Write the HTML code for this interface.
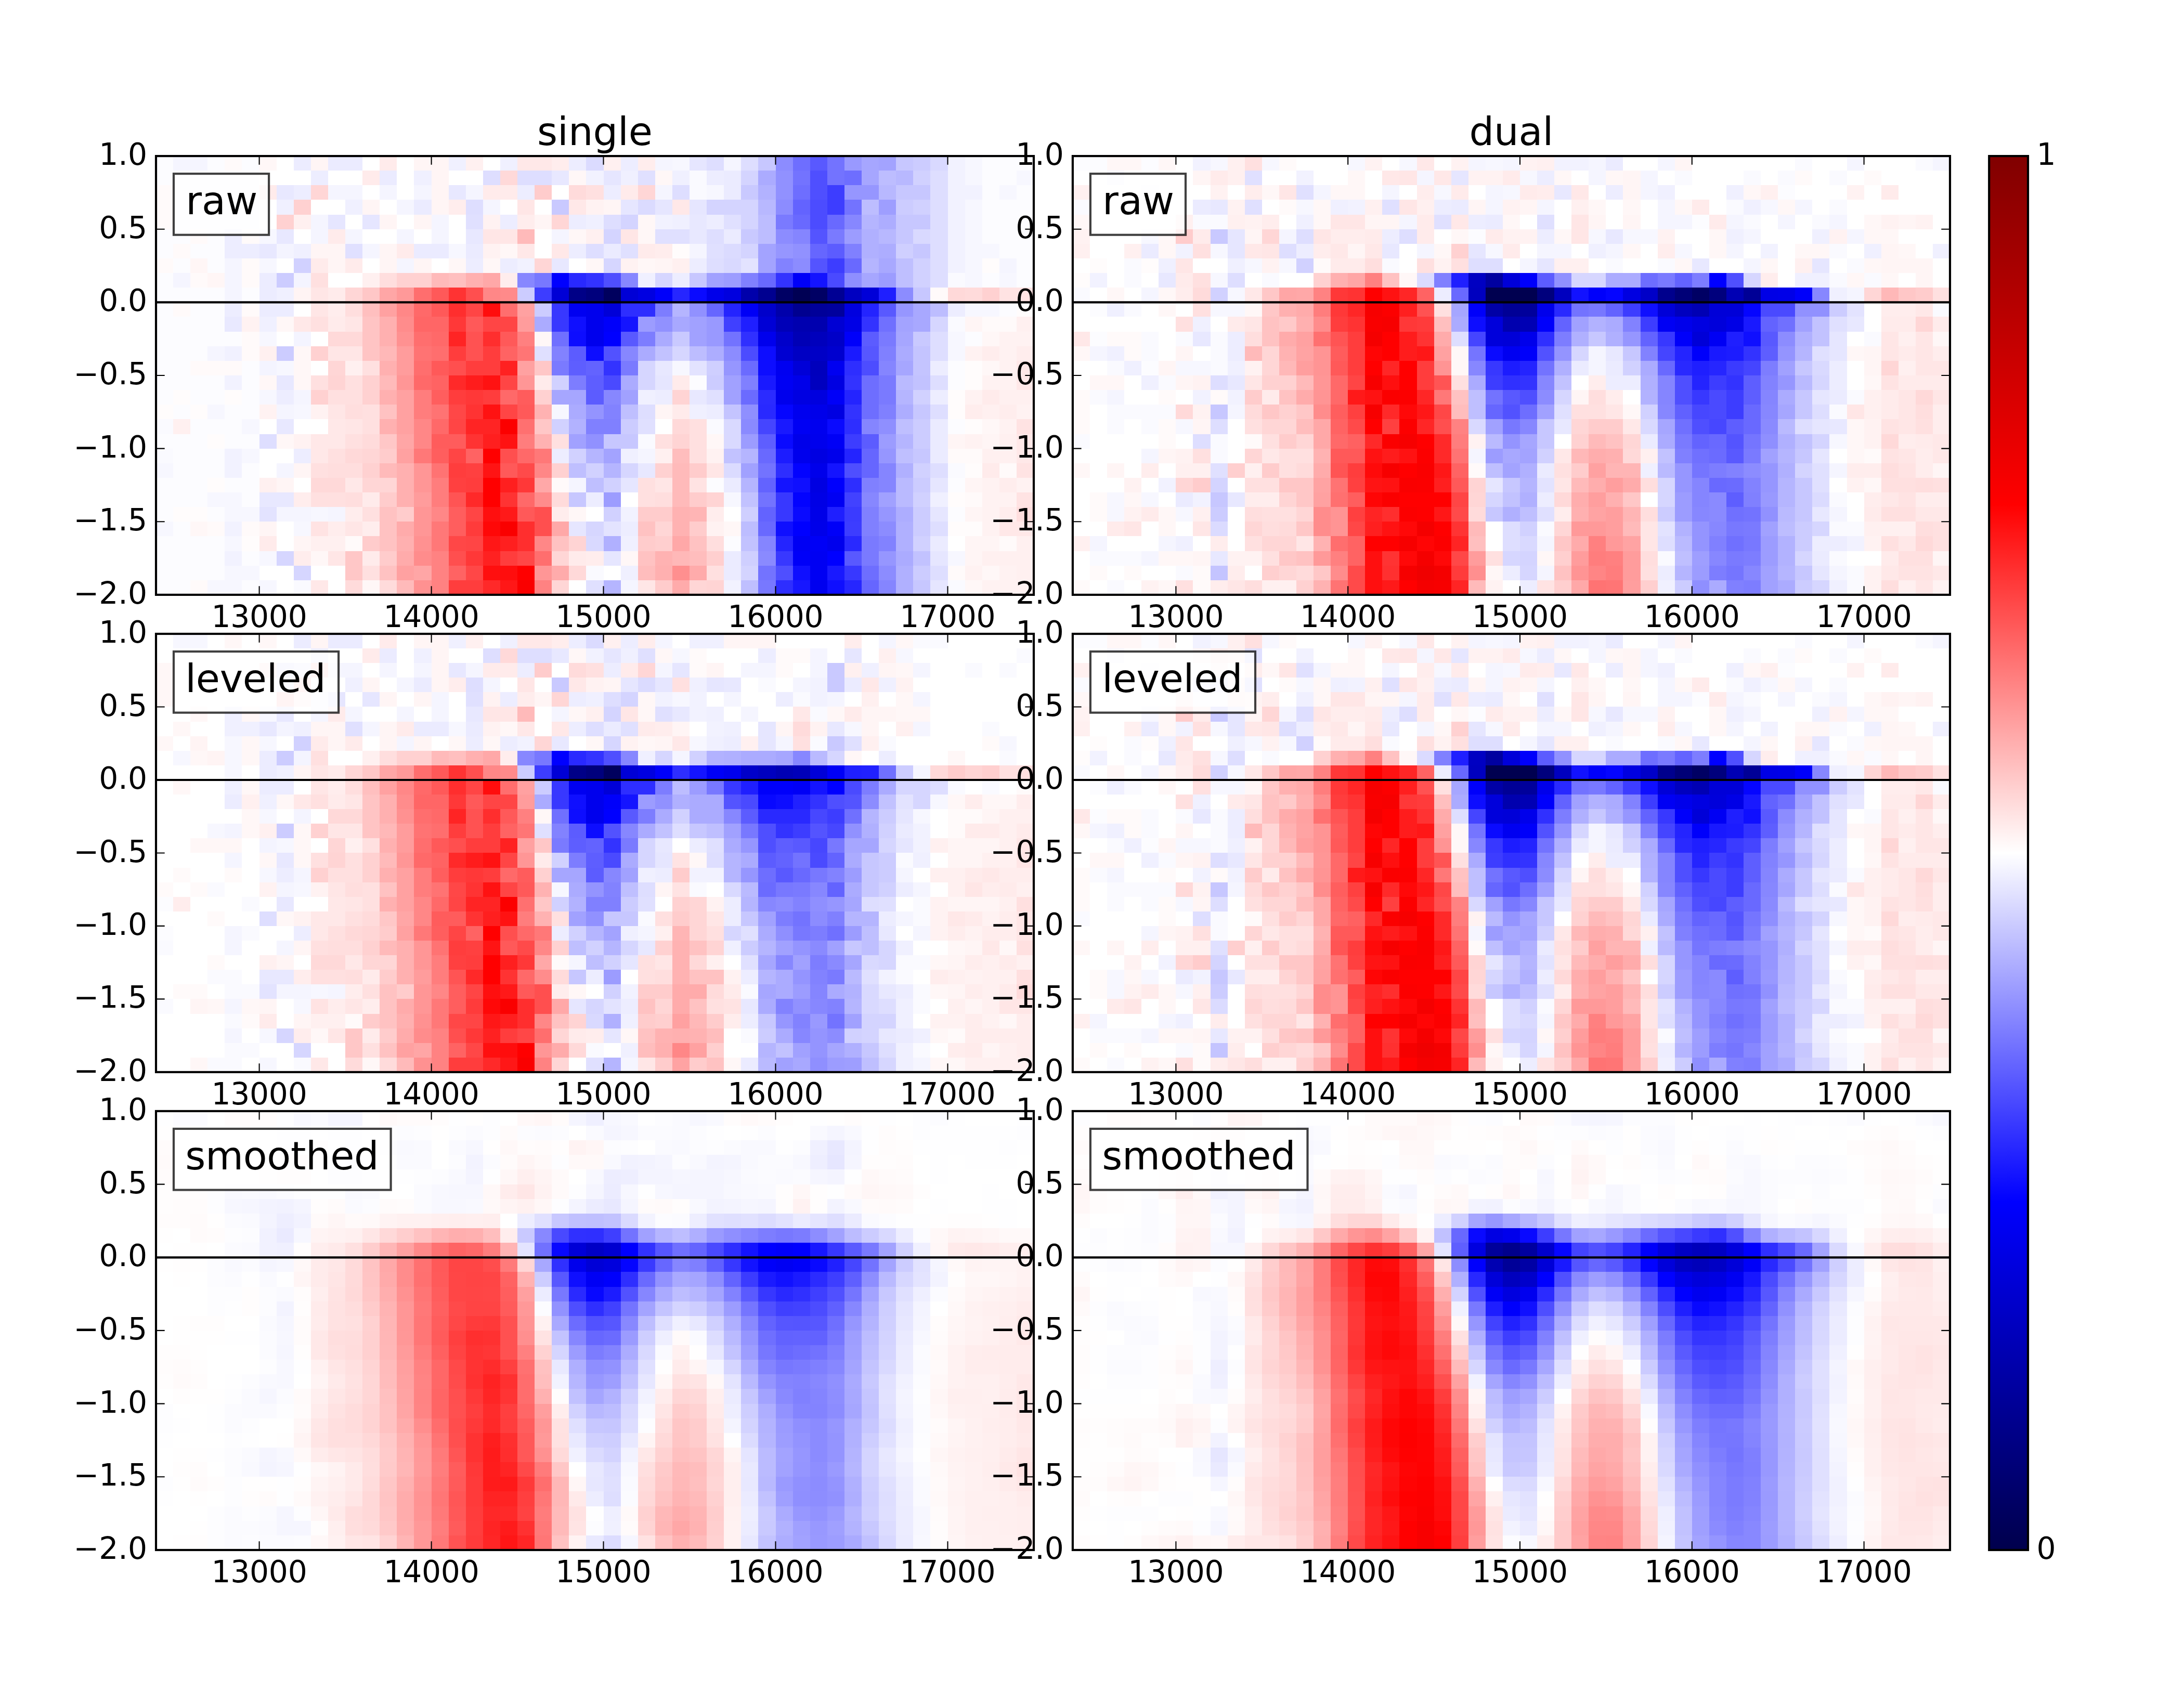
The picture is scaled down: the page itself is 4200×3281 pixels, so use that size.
<!DOCTYPE html><html><head><meta charset="utf-8"><title>single / dual</title><style>html,body{margin:0;padding:0;background:#fff}svg{display:block}text{font-family:"DejaVu Sans","Liberation Sans",sans-serif;fill:#000}</style></head><body><svg width="4200" height="3281" viewBox="0 0 4200 3281"><defs><linearGradient id="sm" x1="0" y1="0" x2="0" y2="1"><stop offset="0" stop-color="#800000"/><stop offset="0.25" stop-color="#ff0000"/><stop offset="0.5" stop-color="#ffffff"/><stop offset="0.75" stop-color="#0000ff"/><stop offset="1" stop-color="#00004c"/></linearGradient></defs><rect width="4200" height="3281" fill="#fff"/><g shape-rendering="crispEdges"><path fill="#fcfcff" d="M300 300h33v28h-33zM399 300h33v28h-33zM465 300h34v28h-34zM1889 300h99v28h-99zM300 328h199v28h-199zM1889 328h66v28h-66zM333 356h166v28h-166zM1889 356h33v28h-33zM1955 356h33v28h-33zM333 384h166v29h-166zM1889 384h99v29h-99zM333 413h166v28h-166zM1889 413h99v28h-99zM300 441h66v28h-66zM399 441h33v28h-33zM1889 441h99v28h-99zM300 469h33v28h-33zM366 469h66v28h-66zM1922 469h66v28h-66zM333 497h33v28h-33zM399 497h33v28h-33zM1955 497h33v28h-33zM300 525h33v28h-33zM1889 525h33v28h-33zM1955 525h33v28h-33zM300 553h132v28h-132zM465 553h34v28h-34zM300 581h33v28h-33zM366 581h66v28h-66zM1922 581h33v28h-33zM300 609h132v29h-132zM300 638h165v28h-165zM1856 638h33v28h-33zM300 666h99v28h-99zM300 694h66v28h-66zM465 694h34v28h-34zM1823 694h33v28h-33zM300 722h132v28h-132zM465 722h34v28h-34zM1326 722h33v28h-33zM1823 722h33v28h-33zM300 750h33v28h-33zM366 750h66v28h-66zM465 750h34v28h-34zM333 778h33v28h-33zM432 778h67v28h-67zM366 806h99v29h-99zM1823 806h33v29h-33zM300 835h99v28h-99zM432 835h67v28h-67zM333 863h99v28h-99zM333 891h99v28h-99zM465 891h34v28h-34zM300 919h99v28h-99zM432 919h67v28h-67zM1359 919h33v28h-33zM1823 919h33v28h-33zM300 947h99v28h-99zM465 947h34v28h-34zM300 975h33v28h-33zM399 975h33v28h-33zM1823 975h33v28h-33zM333 1003h33v28h-33zM300 1031h132v29h-132zM1392 1031h33v29h-33zM300 1060h132v28h-132zM465 1060h34v28h-34zM300 1088h132v28h-132zM300 1116h66v28h-66zM465 1116h34v28h-34z"/><path fill="#f5f5ff" d="M333 300h66v28h-66zM1260 300h33v28h-33zM1392 300h33v28h-33zM631 356h66v28h-66zM730 356h33v28h-33zM796 356h34v28h-34zM896 356h33v28h-33zM1260 356h33v28h-33zM763 384h33v29h-33zM929 384h33v29h-33zM598 413h33v28h-33zM830 413h33v28h-33zM598 441h33v28h-33zM664 441h33v28h-33zM763 441h33v28h-33zM830 441h33v28h-33zM1061 441h33v28h-33zM697 469h33v28h-33zM1326 469h33v28h-33zM432 497h33v28h-33zM763 497h33v28h-33zM1922 497h33v28h-33zM333 525h33v28h-33zM432 525h33v28h-33zM432 553h33v28h-33zM399 666h33v28h-33zM565 750h33v28h-33zM532 778h33v28h-33zM1227 863h33v28h-33zM532 891h33v28h-33zM1094 919h33v28h-33zM532 975h66v28h-66zM631 975h33v28h-33zM1194 1116h33v28h-33z"/><path fill="#fffafa" d="M432 300h33v28h-33zM300 356h33v28h-33zM300 384h33v29h-33zM300 413h33v28h-33zM366 441h33v28h-33zM465 441h34v28h-34zM333 469h33v28h-33zM300 497h33v28h-33zM465 497h34v28h-34zM366 525h33v28h-33zM465 525h34v28h-34zM1789 553h34v28h-34zM333 581h33v28h-33zM465 581h34v28h-34zM1889 609h66v29h-66zM465 638h34v28h-34zM465 666h34v28h-34zM366 694h99v28h-99zM1823 863h66v28h-66zM1922 891h33v28h-33zM1061 919h33v28h-33zM1856 947h33v28h-33zM399 1003h33v28h-33zM465 1003h34v28h-34zM664 1031h33v29h-33zM1922 1031h33v29h-33zM1823 1088h33v28h-33zM366 1116h33v28h-33z"/><path fill="#fff7f7" d="M499 300h33v28h-33zM1094 328h33v28h-33zM1260 328h33v28h-33zM1227 413h33v28h-33zM1094 441h33v28h-33zM1227 441h33v28h-33zM962 469h33v28h-33zM863 497h33v28h-33zM929 497h33v28h-33zM1127 497h34v28h-34zM1227 497h33v28h-33zM532 609h33v29h-33zM1028 638h33v28h-33zM1889 638h33v28h-33zM565 666h33v28h-33zM565 694h33v28h-33zM1889 694h33v28h-33zM499 722h33v28h-33zM565 722h33v28h-33zM1889 806h33v29h-33zM532 835h33v28h-33zM1359 835h33v28h-33zM1094 975h33v28h-33zM366 1003h33v28h-33zM1392 1003h33v28h-33zM598 1060h33v28h-33zM1194 1060h33v28h-33zM1889 1088h33v28h-33zM697 1116h33v28h-33zM1856 1116h33v28h-33z"/><path fill="#ececff" d="M565 300h33v28h-33zM499 525h33v28h-33zM499 553h33v28h-33zM499 581h66v28h-66z"/><path fill="#fff5f5" d="M598 300h33v28h-33zM796 300h67v28h-67zM830 328h33v28h-33zM830 356h33v28h-33zM697 384h33v29h-33zM830 384h33v29h-33zM1161 384h33v29h-33zM730 413h33v28h-33zM796 413h34v28h-34zM1028 413h33v28h-33zM598 469h66v28h-66zM730 469h33v28h-33zM631 497h33v28h-33zM730 497h33v28h-33zM796 497h34v28h-34zM1260 497h33v28h-33zM1856 609h33v29h-33zM1260 778h33v28h-33zM1823 835h33v28h-33zM1889 835h33v28h-33zM565 891h33v28h-33zM532 919h33v28h-33zM1856 919h33v28h-33zM1856 975h33v28h-33zM499 1003h33v28h-33zM565 1031h33v29h-33zM1856 1031h66v29h-66zM1856 1060h33v28h-33z"/><path fill="#ebebff" d="M631 300h66v28h-66zM730 328h33v28h-33zM1392 328h33v28h-33zM1392 356h33v28h-33zM796 384h34v29h-34zM1392 441h33v28h-33zM796 469h67v28h-67zM896 469h33v28h-33zM1161 469h33v28h-33zM1789 806h34v29h-34zM1789 835h34v28h-34zM1789 863h34v28h-34zM1392 919h33v28h-33zM1789 1031h34v29h-34zM1392 1060h33v28h-33zM1392 1088h33v28h-33z"/><path fill="#ffebeb" d="M730 300h33v28h-33zM697 328h33v28h-33zM499 356h33v28h-33zM929 356h66v28h-66zM1194 356h33v28h-33zM631 441h33v28h-33zM763 469h33v28h-33zM1227 469h33v28h-33zM598 497h33v28h-33zM664 497h33v28h-33zM631 553h33v28h-33zM631 609h33v29h-33zM1028 722h33v28h-33zM1293 722h33v28h-33zM1889 750h33v28h-33zM1293 778h33v28h-33zM1889 891h33v28h-33zM697 947h33v28h-33zM499 1031h33v29h-33zM697 1060h33v28h-33zM1094 1060h33v28h-33z"/><path fill="#f0f0ff" d="M863 300h33v28h-33zM962 300h33v28h-33zM796 328h34v28h-34zM1194 328h33v28h-33zM1293 328h33v28h-33zM532 384h33v29h-33zM664 384h33v29h-33zM1127 413h34v28h-34zM1293 413h33v28h-33zM565 469h33v28h-33zM1227 525h33v28h-33zM532 553h33v28h-33zM499 609h33v29h-33zM1227 750h33v28h-33zM1326 778h33v28h-33zM1194 863h33v28h-33zM1789 947h34v28h-34zM1194 1031h33v29h-33zM1194 1088h33v28h-33z"/><path fill="#fff0f0" d="M896 300h33v28h-33zM1161 300h33v28h-33zM565 413h33v28h-33zM1127 441h34v28h-34zM1293 497h33v28h-33zM697 525h33v28h-33zM1955 609h33v29h-33zM499 666h33v28h-33zM664 694h33v28h-33zM1922 750h66v28h-66zM1889 778h33v28h-33zM333 806h33v29h-33zM1922 835h33v28h-33zM1260 863h33v28h-33zM1889 863h66v28h-66zM499 919h33v28h-33zM598 1031h66v29h-66zM1955 1031h33v29h-33zM1889 1060h99v28h-99zM1955 1088h33v28h-33z"/><path fill="#ffe8e8" d="M995 300h66v28h-66zM1094 384h33v29h-33zM1293 384h33v29h-33zM995 469h33v28h-33zM1061 469h33v28h-33zM565 609h33v29h-33zM1955 694h33v28h-33zM1955 722h33v28h-33zM631 806h33v29h-33zM598 835h66v28h-66zM1955 835h33v28h-33zM598 863h33v28h-33zM1955 863h33v28h-33zM664 919h33v28h-33zM1922 1003h66v28h-66zM598 1116h33v28h-33z"/><path fill="#ffeded" d="M1061 300h33v28h-33zM1227 300h33v28h-33zM863 384h33v29h-33zM995 413h33v28h-33zM1260 469h33v28h-33zM962 525h33v28h-33zM631 581h33v28h-33zM1889 666h33v28h-33zM1955 666h33v28h-33zM1856 778h33v28h-33zM1922 778h33v28h-33zM1922 919h33v28h-33zM565 947h33v28h-33zM664 975h33v28h-33zM1061 975h33v28h-33zM1359 975h33v28h-33zM1922 975h33v28h-33zM631 1003h33v28h-33zM697 1003h33v28h-33zM565 1060h33v28h-33zM1127 1060h34v28h-34z"/><path fill="#ededff" d="M1094 300h33v28h-33zM1194 300h33v28h-33zM598 328h33v28h-33zM1359 328h33v28h-33zM565 356h33v28h-33zM995 356h33v28h-33zM1161 356h33v28h-33zM962 413h33v28h-33zM1094 413h33v28h-33zM1359 413h33v28h-33zM432 441h33v28h-33zM432 469h67v28h-67zM1094 469h33v28h-33zM896 497h33v28h-33zM962 497h33v28h-33zM1326 497h33v28h-33zM1293 525h33v28h-33zM432 581h33v28h-33zM1823 581h33v28h-33zM1789 694h34v28h-34zM532 750h33v28h-33zM1260 750h33v28h-33zM1789 750h34v28h-34zM1359 778h33v28h-33zM565 863h33v28h-33zM1061 863h33v28h-33zM1127 947h34v28h-34zM1194 1003h33v28h-33z"/><path fill="#dbdbff" d="M1127 300h34v28h-34zM1227 384h33v29h-33zM1392 469h33v28h-33zM1392 891h33v28h-33z"/><path fill="#f7f7ff" d="M1293 300h33v28h-33zM1856 300h33v28h-33zM1856 328h33v28h-33zM1955 328h33v28h-33zM1359 356h33v28h-33zM1922 356h33v28h-33zM1856 384h33v29h-33zM1856 413h33v28h-33zM499 441h33v28h-33zM1856 441h33v28h-33zM863 469h33v28h-33zM1856 469h66v28h-66zM499 497h33v28h-33zM1856 497h33v28h-33zM1856 525h33v28h-33zM1922 525h33v28h-33zM1856 581h66v28h-66zM499 638h33v28h-33zM1823 638h33v28h-33zM1823 666h33v28h-33zM532 694h33v28h-33zM1293 694h33v28h-33zM499 750h33v28h-33zM399 778h33v28h-33zM565 778h33v28h-33zM1061 778h33v28h-33zM465 806h34v29h-34zM465 863h34v28h-34zM300 891h33v28h-33zM399 947h66v28h-66zM1392 947h33v28h-33zM432 975h67v28h-67zM598 975h33v28h-33zM300 1003h33v28h-33zM565 1003h33v28h-33zM432 1031h33v29h-33zM499 1060h33v28h-33zM1823 1060h33v28h-33zM432 1088h67v28h-67zM399 1116h66v28h-66zM499 1116h33v28h-33z"/><path fill="#e6e6ff" d="M1326 300h33v28h-33zM1161 328h33v28h-33zM1194 384h33v29h-33zM1260 384h33v29h-33zM1326 384h33v29h-33zM631 413h33v28h-33zM697 413h33v28h-33zM1260 722h33v28h-33zM1194 919h33v28h-33zM1789 919h34v28h-34zM1789 975h34v28h-34zM1094 1003h33v28h-33zM1161 1060h33v28h-33zM1789 1060h34v28h-34zM1789 1116h34v28h-34z"/><path fill="#dedeff" d="M1359 300h33v28h-33zM1425 300h33v28h-33zM929 328h33v28h-33zM995 328h66v28h-66zM1789 328h34v28h-34zM1293 356h33v28h-33zM1789 356h34v28h-34zM896 384h33v29h-33zM1789 384h34v29h-34zM1161 413h33v28h-33zM1789 413h34v28h-34zM1359 441h33v28h-33zM1789 441h34v28h-34zM1127 469h34v28h-34zM1789 469h34v28h-34zM1359 497h33v28h-33zM1789 497h34v28h-34zM1789 525h34v28h-34zM1789 638h34v28h-34zM1789 666h34v28h-34zM1789 722h34v28h-34zM1227 778h33v28h-33zM1789 778h34v28h-34zM499 835h33v28h-33zM1789 891h34v28h-34zM1789 1003h34v28h-34zM1789 1088h34v28h-34z"/><path fill="#c7c7ff" d="M1458 300h34v28h-34zM1723 300h33v28h-33zM1723 356h66v28h-66zM1723 413h66v28h-66zM1723 441h33v28h-33zM1756 469h33v28h-33zM1326 525h33v28h-33zM1756 553h33v28h-33zM1756 778h33v28h-33zM1161 835h66v28h-66zM1756 863h33v28h-33zM1094 947h33v28h-33zM1756 1116h33v28h-33z"/><path fill="#8c8cff" d="M1492 300h33v28h-33zM1492 384h33v29h-33zM1492 441h33v28h-33zM1525 497h33v28h-33zM1723 553h33v28h-33zM1392 666h33v28h-33zM1690 1003h33v28h-33zM1690 1088h33v28h-33z"/><path fill="#6e6eff" d="M1525 300h33v28h-33zM1624 328h33v28h-33zM1525 356h33v28h-33zM1657 722h33v28h-33zM1657 750h33v28h-33zM1657 778h33v28h-33zM1657 1088h33v28h-33z"/><path fill="#5959ff" d="M1558 300h33v28h-33zM1690 581h33v28h-33zM1194 638h33v28h-33zM1624 1060h33v28h-33z"/><path fill="#7373ff" d="M1591 300h33v28h-33zM1525 328h33v28h-33zM1591 328h33v28h-33zM1624 384h33v29h-33zM1392 638h33v28h-33zM1458 891h34v28h-34zM1458 947h34v28h-34zM1458 1088h34v28h-34z"/><path fill="#99f" d="M1624 300h33v28h-33zM1359 609h33v29h-33zM1359 638h33v28h-33z"/><path fill="#a6a6ff" d="M1657 300h33v28h-33zM1657 328h33v28h-33zM1657 525h33v28h-33zM1723 638h33v28h-33zM1723 694h33v28h-33zM1061 750h66v28h-66z"/><path fill="#a3a3ff" d="M1690 300h33v28h-33zM1458 469h34v28h-34zM1458 497h34v28h-34zM1723 609h33v29h-33zM1161 863h33v28h-33z"/><path fill="#ccf" d="M1756 300h33v28h-33zM1723 384h33v29h-33zM532 525h33v28h-33zM995 553h33v28h-33zM1028 581h33v28h-33zM532 666h33v28h-33zM1359 722h33v28h-33zM1194 806h33v29h-33zM1756 806h33v29h-33zM1756 835h33v28h-33zM1756 919h33v28h-33zM1756 975h33v28h-33zM1756 1003h33v28h-33zM1756 1088h33v28h-33z"/><path fill="#d9d9ff" d="M1789 300h34v28h-34zM1756 441h33v28h-33zM1392 497h33v28h-33zM1392 806h33v29h-33zM1392 835h33v28h-33zM1127 1031h34v29h-34z"/><path fill="#f2f2ff" d="M1823 300h33v28h-33zM1127 328h34v28h-34zM1823 328h33v28h-33zM1823 356h66v28h-66zM1823 384h33v29h-33zM1260 413h33v28h-33zM1823 413h33v28h-33zM1823 441h33v28h-33zM1823 469h33v28h-33zM995 497h33v28h-33zM1823 497h33v28h-33zM432 722h33v28h-33zM432 863h33v28h-33zM432 891h33v28h-33zM1194 975h33v28h-33zM432 1003h33v28h-33zM432 1060h33v28h-33zM1392 1116h33v28h-33z"/><path fill="#ffd9d9" d="M962 328h33v28h-33zM1823 553h33v28h-33zM631 638h66v28h-66zM1293 806h33v29h-33zM664 863h33v28h-33zM598 919h66v28h-66zM1094 1088h33v28h-33z"/><path fill="#e8e8ff" d="M1061 328h33v28h-33zM532 356h33v28h-33zM863 356h33v28h-33zM1326 413h33v28h-33zM532 441h33v28h-33zM896 441h33v28h-33zM1326 441h33v28h-33zM499 469h33v28h-33zM1061 497h33v28h-33zM1260 694h33v28h-33zM532 722h33v28h-33zM1326 750h33v28h-33zM532 806h33v29h-33zM1227 891h33v28h-33zM499 947h66v28h-66z"/><path fill="#e0e0ff" d="M1227 328h33v28h-33zM896 413h33v28h-33zM1392 413h33v28h-33zM1260 441h66v28h-66zM664 469h33v28h-33zM1194 469h33v28h-33zM1359 469h33v28h-33zM1028 666h33v28h-33zM1359 750h33v28h-33zM1227 806h33v29h-33zM1127 1116h34v28h-34z"/><path fill="#fafaff" d="M1326 328h33v28h-33zM1326 356h33v28h-33zM1823 525h33v28h-33zM1823 609h33v29h-33zM300 806h33v29h-33zM1359 806h33v29h-33zM1227 835h33v28h-33zM300 863h33v28h-33zM1823 891h33v28h-33zM1127 1088h34v28h-34zM565 1116h33v28h-33zM1823 1116h33v28h-33z"/><path fill="#d4d4ff" d="M1425 328h33v28h-33zM1359 384h99v29h-99zM1194 413h33v28h-33zM1425 413h33v28h-33zM1161 441h33v28h-33zM1425 469h33v28h-33zM1425 1088h33v28h-33z"/><path fill="#ababff" d="M1458 328h34v28h-34zM1028 609h33v29h-33zM1260 638h33v28h-33zM1227 666h33v28h-33zM1723 666h33v28h-33zM1194 722h33v28h-33zM1094 778h33v28h-33zM1723 1060h33v28h-33z"/><path fill="#9191ff" d="M1492 328h33v28h-33zM1492 356h33v28h-33zM1525 469h33v28h-33zM1326 581h33v28h-33zM1260 609h33v29h-33zM1127 835h34v28h-34z"/><path fill="#4f4fff" d="M1558 328h33v28h-33zM1558 356h33v28h-33zM1161 525h33v28h-33zM1624 891h33v28h-33zM1492 1088h33v28h-33z"/><path fill="#bdbdff" d="M1690 328h33v28h-33zM1657 384h33v29h-33zM1458 413h34v28h-34zM1458 441h34v28h-34zM1789 581h34v28h-34zM1326 666h33v28h-33zM1425 1003h33v28h-33z"/><path fill="#b8b8ff" d="M1723 328h33v28h-33zM1690 356h33v28h-33zM1458 384h34v29h-34zM1690 441h33v28h-33z"/><path fill="#d1d1ff" d="M1756 328h33v28h-33zM1756 384h33v29h-33zM565 497h33v28h-33zM1756 497h33v28h-33zM1756 525h33v28h-33zM1061 722h33v28h-33zM1756 750h33v28h-33zM1061 806h33v29h-33zM1094 863h33v28h-33zM1127 891h34v28h-34zM1756 891h33v28h-33zM1161 919h33v28h-33zM1756 947h33v28h-33zM1161 975h33v28h-33zM1756 1031h33v29h-33z"/><path fill="#ffd6d6" d="M598 356h33v28h-33zM1227 356h33v28h-33zM1061 413h33v28h-33zM1028 497h33v28h-33zM664 553h33v28h-33zM631 694h33v28h-33zM697 863h33v28h-33zM697 919h66v28h-66zM1260 1003h33v28h-33zM1061 1060h33v28h-33zM1061 1116h33v28h-33zM1326 1116h33v28h-33z"/><path fill="#fcc" d="M1028 356h33v28h-33zM730 863h33v28h-33zM1326 891h33v28h-33zM730 947h33v28h-33zM1326 947h33v28h-33zM763 975h33v28h-33zM1227 975h66v28h-66zM1326 1003h33v28h-33zM697 1031h33v29h-33zM1227 1031h33v29h-33zM730 1060h33v28h-33zM1260 1116h33v28h-33z"/><path fill="#ffdbdb" d="M1094 356h33v28h-33zM1856 553h33v28h-33zM697 835h33v28h-33zM1061 947h33v28h-33zM664 1116h33v28h-33zM730 1116h33v28h-33z"/><path fill="#ffe0e0" d="M1127 356h34v28h-34zM598 525h33v28h-33zM598 609h33v29h-33zM697 694h33v28h-33zM598 722h33v28h-33zM664 722h33v28h-33zM631 750h66v28h-66zM697 778h33v28h-33zM697 806h33v29h-33zM1326 806h33v29h-33zM664 835h33v28h-33zM1061 835h33v28h-33zM1260 835h33v28h-33zM1326 835h33v28h-33zM631 863h33v28h-33zM1326 863h33v28h-33zM598 891h33v28h-33zM1227 919h33v28h-33zM598 947h66v28h-66zM1227 947h33v28h-33zM697 975h33v28h-33zM697 1088h33v28h-33zM1359 1088h33v28h-33z"/><path fill="#c9c9ff" d="M1425 356h33v28h-33zM1061 384h33v29h-33zM1425 441h33v28h-33zM1293 638h33v28h-33zM1756 638h33v28h-33z"/><path fill="#b2b2ff" d="M1458 356h34v28h-34zM1094 806h33v29h-33z"/><path fill="#3d3dff" d="M1591 356h33v28h-33zM1591 384h33v29h-33zM1591 497h33v28h-33zM1028 553h33v28h-33zM1624 835h33v28h-33zM1624 1003h33v28h-33z"/><path fill="#9696ff" d="M1624 356h66v28h-66zM1492 469h33v28h-33zM1723 581h33v28h-33zM1392 694h33v28h-33zM1690 863h33v28h-33zM1690 975h33v28h-33zM1690 1060h33v28h-33z"/><path fill="#ffd1d1" d="M565 384h33v29h-33zM532 413h33v28h-33zM763 525h67v28h-67zM1889 553h33v28h-33zM598 666h33v28h-33zM697 722h33v28h-33zM598 750h33v28h-33zM697 750h33v28h-33zM1028 750h33v28h-33zM697 891h33v28h-33zM1061 891h33v28h-33zM1260 891h33v28h-33z"/><path fill="#ffe6e6" d="M995 384h33v29h-33zM929 441h66v28h-66zM1194 441h33v28h-33zM598 553h33v28h-33zM598 581h33v28h-33zM664 609h33v29h-33zM631 666h66v28h-66zM631 778h33v28h-33zM664 806h33v29h-33zM1359 891h33v28h-33zM1260 919h33v28h-33zM664 1003h33v28h-33zM631 1060h33v28h-33zM1227 1116h33v28h-33z"/><path fill="#fff2f2" d="M1127 384h34v29h-34zM929 413h33v28h-33zM929 469h33v28h-33zM1194 497h33v28h-33zM465 609h34v29h-34zM1922 638h66v28h-66zM1856 666h33v28h-33zM1922 666h33v28h-33zM1922 694h33v28h-33zM1889 722h66v28h-66zM1856 750h33v28h-33zM499 778h33v28h-33zM598 778h33v28h-33zM1955 778h33v28h-33zM1922 806h33v29h-33zM565 835h33v28h-33zM1856 835h33v28h-33zM1359 863h33v28h-33zM1889 919h33v28h-33zM1955 919h33v28h-33zM1889 947h66v28h-66zM1889 975h33v28h-33zM1359 1003h33v28h-33zM1889 1003h33v28h-33zM1856 1088h33v28h-33zM1922 1088h33v28h-33zM1889 1116h99v28h-99z"/><path fill="#6363ff" d="M1525 384h33v29h-33zM1127 694h34v28h-34zM1458 919h34v28h-34zM1458 975h34v28h-34z"/><path fill="#4c4cff" d="M1558 384h33v29h-33zM1558 413h33v28h-33zM1425 666h33v28h-33z"/><path fill="#9e9eff" d="M1690 384h33v29h-33z"/><path fill="#7a7aff" d="M1492 413h33v28h-33zM1591 441h33v28h-33zM1690 638h33v28h-33zM1061 694h33v28h-33zM1194 694h33v28h-33zM1690 722h33v28h-33zM1690 750h33v28h-33zM1657 1031h33v29h-33zM1657 1060h33v28h-33z"/><path fill="#6969ff" d="M1525 413h33v28h-33zM1591 413h33v28h-33zM1624 497h33v28h-33zM1458 525h34v28h-34zM1458 863h34v28h-34zM1458 1003h34v28h-34z"/><path fill="#8787ff" d="M1624 413h33v28h-33zM995 525h33v28h-33zM1194 525h33v28h-33zM1194 666h33v28h-33zM1161 750h33v28h-33zM1657 947h33v28h-33z"/><path fill="#b5b5ff" d="M1657 413h33v28h-33zM1657 497h33v28h-33zM1293 581h33v28h-33zM1723 750h33v28h-33zM1723 835h33v28h-33zM1127 863h34v28h-34zM1425 863h33v28h-33zM1161 891h33v28h-33zM1425 919h33v28h-33zM1161 1116h33v28h-33z"/><path fill="#adadff" d="M1690 413h33v28h-33zM1690 469h33v28h-33zM1359 666h33v28h-33zM1723 778h33v28h-33zM1723 975h33v28h-33z"/><path fill="#ffbaba" d="M995 441h33v28h-33zM830 525h33v28h-33zM730 722h33v28h-33zM730 891h33v28h-33zM1293 891h33v28h-33zM1293 919h33v28h-33zM1293 947h33v28h-33zM763 1116h33v28h-33z"/><path fill="#8585ff" d="M1525 441h33v28h-33zM1690 694h33v28h-33zM1657 806h33v29h-33zM1690 891h33v28h-33zM1690 919h33v28h-33zM1458 1031h34v29h-34zM1690 1116h33v28h-33z"/><path fill="#5454ff" d="M1558 441h33v28h-33zM1558 497h33v28h-33z"/><path fill="#9c9cff" d="M1624 441h33v28h-33zM1392 525h33v28h-33zM1690 525h33v28h-33zM1227 609h33v29h-33zM1425 835h33v28h-33zM1690 835h33v28h-33zM1161 947h33v28h-33z"/><path fill="#b0b0ff" d="M1657 441h33v28h-33zM1657 469h33v28h-33zM1723 891h33v28h-33zM1723 1003h33v28h-33zM1161 1031h33v29h-33zM1723 1031h33v29h-33zM1723 1088h33v28h-33zM1723 1116h33v28h-33z"/><path fill="#f4f4ff" d="M532 469h33v28h-33zM565 525h33v28h-33zM565 638h33v28h-33zM499 694h33v28h-33z"/><path fill="#fffcfc" d="M1293 469h33v28h-33zM1889 497h33v28h-33zM1955 581h33v28h-33zM1856 694h33v28h-33zM1856 722h33v28h-33zM333 750h33v28h-33zM432 750h33v28h-33zM1823 750h33v28h-33zM300 778h33v28h-33zM366 778h33v28h-33zM1823 778h33v28h-33zM1856 806h33v29h-33zM399 835h33v28h-33zM1856 891h33v28h-33zM399 919h33v28h-33zM1823 947h33v28h-33zM333 975h66v28h-66zM1823 1003h66v28h-66zM465 1031h34v29h-34z"/><path fill="#66f" d="M1558 469h33v28h-33zM1359 581h33v28h-33zM1657 863h33v28h-33zM1657 891h33v28h-33zM1657 1116h33v28h-33z"/><path fill="#5c5cff" d="M1591 469h33v28h-33zM1657 638h33v28h-33zM1094 666h33v28h-33zM1127 750h34v28h-34zM1657 835h33v28h-33z"/><path fill="#8080ff" d="M1624 469h33v28h-33zM1425 525h33v28h-33zM1690 666h33v28h-33zM1425 722h33v28h-33zM1690 778h33v28h-33zM1127 806h67v29h-67zM1657 919h33v28h-33zM1657 975h33v28h-33zM1657 1003h33v28h-33z"/><path fill="#cfcfff" d="M1723 469h33v28h-33zM1359 694h33v28h-33zM1425 975h33v28h-33zM1425 1060h33v28h-33z"/><path fill="#fff6f6" d="M366 497h33v28h-33zM399 525h33v28h-33z"/><path fill="#d6d6ff" d="M1161 497h33v28h-33zM1260 525h33v28h-33zM1789 609h34v29h-34zM1293 666h33v28h-33zM1227 694h33v28h-33zM1227 722h33v28h-33zM1194 891h33v28h-33zM1127 1003h34v28h-34zM532 1060h33v28h-33zM565 1088h33v28h-33z"/><path fill="#e3e3ff" d="M1425 497h33v28h-33zM1326 694h33v28h-33zM499 975h33v28h-33zM1161 1003h33v28h-33z"/><path fill="#8282ff" d="M1492 497h33v28h-33zM1061 666h33v28h-33zM1161 778h33v28h-33zM1690 1031h33v29h-33z"/><path fill="#a8a8ff" d="M1690 497h33v28h-33zM1756 581h33v28h-33zM1293 609h33v29h-33zM1756 609h33v29h-33z"/><path fill="#bfbfff" d="M1723 497h33v28h-33zM1723 525h33v28h-33zM1194 778h33v28h-33zM1723 806h33v29h-33zM1723 863h33v28h-33zM1094 891h33v28h-33zM1127 919h34v28h-34zM1425 1116h33v28h-33z"/><path fill="#ffdede" d="M730 525h33v28h-33zM664 581h33v28h-33zM664 778h33v28h-33zM631 891h66v28h-66zM664 947h33v28h-33zM1260 947h33v28h-33zM1955 975h33v28h-33zM1359 1031h33v29h-33z"/><path fill="#ffbfbf" d="M863 525h33v28h-33zM697 581h33v28h-33z"/><path fill="#ffb0b0" d="M896 525h33v28h-33zM730 609h33v29h-33zM730 638h33v28h-33zM730 694h33v28h-33zM730 750h33v28h-33zM730 806h33v29h-33zM763 891h33v28h-33zM763 919h33v28h-33zM763 947h33v28h-33zM763 1031h33v29h-33zM1260 1088h33v28h-33z"/><path fill="#ffa8a8" d="M929 525h33v28h-33zM1028 919h33v28h-33zM1061 1003h33v28h-33zM1293 1031h33v29h-33z"/><path fill="#7878ff" d="M1028 525h33v28h-33zM1458 1116h34v28h-34z"/><path fill="#00f" d="M1061 525h33v28h-33zM1161 638h33v28h-33zM1525 1003h33v28h-33zM1591 1060h33v28h-33z"/><path fill="#2929ff" d="M1094 525h33v28h-33zM1458 778h34v28h-34zM1624 1031h33v29h-33z"/><path fill="#33f" d="M1127 525h34v28h-34zM1492 525h33v28h-33zM1657 609h33v29h-33zM1161 694h33v28h-33zM1624 722h33v28h-33zM1624 778h33v28h-33z"/><path fill="#a1a1ff" d="M1359 525h33v28h-33zM1326 609h33v29h-33zM1326 638h33v28h-33zM1392 722h33v28h-33zM1194 750h33v28h-33zM1392 750h33v28h-33zM1094 835h33v28h-33zM1425 891h33v28h-33zM1690 947h33v28h-33z"/><path fill="#0000f8" d="M1525 525h33v28h-33zM1591 750h33v28h-33zM1591 1003h33v28h-33zM1525 1060h33v28h-33z"/><path fill="#1414ff" d="M1558 525h33v28h-33zM1194 609h33v29h-33zM1591 891h33v28h-33zM1492 919h33v28h-33z"/><path fill="#4a4aff" d="M1591 525h33v28h-33zM1161 722h33v28h-33z"/><path fill="#8f8fff" d="M1624 525h33v28h-33zM1425 778h33v28h-33zM1690 806h33v29h-33z"/><path fill="#fff4f4" d="M565 553h33v28h-33z"/><path fill="#ffc7c7" d="M697 553h33v28h-33zM1028 694h33v28h-33zM1028 806h33v29h-33zM730 835h33v28h-33zM664 1060h33v28h-33zM664 1088h33v28h-33z"/><path fill="#ffa6a6" d="M730 553h33v28h-33zM763 835h33v28h-33zM796 1088h34v28h-34z"/><path fill="#f99" d="M763 553h33v28h-33z"/><path fill="#ff6e6e" d="M796 553h34v28h-34zM962 581h33v28h-33zM796 638h34v28h-34zM830 666h33v28h-33zM796 694h34v28h-34zM1028 1060h33v28h-33z"/><path fill="#ff5959" d="M830 553h33v28h-33zM830 581h33v28h-33zM896 609h33v29h-33zM962 638h33v28h-33zM830 694h33v28h-33zM995 778h33v28h-33zM962 891h33v28h-33zM995 975h33v28h-33z"/><path fill="#f33" d="M863 553h33v28h-33zM896 778h33v28h-33zM896 835h33v28h-33zM962 947h33v28h-33z"/><path fill="#ff4f4f" d="M896 553h33v28h-33zM863 694h33v28h-33zM962 863h33v28h-33zM1028 975h33v28h-33zM1028 1003h33v28h-33zM863 1060h33v28h-33z"/><path fill="#ff8787" d="M929 553h33v28h-33zM763 581h33v28h-33zM796 806h34v29h-34zM796 835h34v28h-34zM1028 891h33v28h-33zM830 975h33v28h-33zM1028 1031h33v29h-33z"/><path fill="#ff8a8a" d="M962 553h33v28h-33z"/><path fill="#0000d6" d="M1061 553h33v28h-33zM1194 553h33v28h-33zM1458 609h34v29h-34z"/><path fill="#000087" d="M1094 553h33v28h-33z"/><path fill="#00007d" d="M1127 553h34v28h-34z"/><path fill="#00005e" d="M1161 553h33v28h-33z"/><path fill="#0000e1" d="M1227 553h33v28h-33z"/><path fill="#0000fa" d="M1260 553h33v28h-33zM1161 609h33v29h-33zM1624 638h33v28h-33z"/><path fill="#2626ff" d="M1293 553h33v28h-33zM1624 1116h33v28h-33z"/><path fill="#0a0aff" d="M1326 553h33v28h-33zM1591 806h33v29h-33zM1492 835h33v28h-33zM1525 975h33v28h-33z"/><path fill="#0000ea" d="M1359 553h33v28h-33zM1525 722h33v28h-33zM1558 778h33v28h-33zM1525 835h33v28h-33zM1558 1003h33v28h-33z"/><path fill="#0000df" d="M1392 553h33v28h-33zM1624 581h33v28h-33zM1558 750h33v28h-33z"/><path fill="#0000ab" d="M1425 553h33v28h-33zM1492 581h33v28h-33z"/><path fill="#000090" d="M1458 553h34v28h-34zM1525 581h33v28h-33z"/><path fill="#000064" d="M1492 553h33v28h-33zM1558 553h33v28h-33z"/><path fill="#000054" d="M1525 553h33v28h-33z"/><path fill="#000094" d="M1591 553h33v28h-33z"/><path fill="#0000c1" d="M1624 553h33v28h-33z"/><path fill="#0000d8" d="M1657 553h33v28h-33zM1161 581h33v28h-33zM1525 694h33v28h-33z"/><path fill="#1f1fff" d="M1690 553h33v28h-33zM1425 609h33v29h-33zM1591 975h33v28h-33z"/><path fill="#ffe3e3" d="M1922 553h66v28h-66zM1955 806h33v29h-33zM1955 891h33v28h-33zM1326 919h33v28h-33zM1955 947h33v28h-33zM598 1003h33v28h-33z"/><path fill="#ffa1a1" d="M730 581h33v28h-33zM995 581h33v28h-33zM995 694h33v28h-33zM763 750h33v28h-33zM763 778h33v28h-33zM763 806h33v29h-33zM763 863h33v28h-33zM763 1088h33v28h-33z"/><path fill="#ff6969" d="M796 581h34v28h-34zM830 638h33v28h-33zM796 722h34v28h-34zM962 750h33v28h-33zM830 806h33v29h-33zM995 863h33v28h-33zM995 947h33v28h-33z"/><path fill="#ff2e2e" d="M863 581h33v28h-33zM929 638h33v28h-33zM995 1003h33v28h-33zM995 1031h33v29h-33z"/><path fill="#ff4545" d="M896 581h33v28h-33zM929 609h66v29h-66zM962 722h33v28h-33zM962 778h33v28h-33zM863 806h33v29h-33zM863 863h33v28h-33zM896 975h33v28h-33zM896 1031h33v29h-33z"/><path fill="#ff0d0d" d="M929 581h33v28h-33zM962 1088h33v28h-33z"/><path fill="#3838ff" d="M1061 581h33v28h-33zM1061 609h33v29h-33zM1492 947h33v28h-33zM1492 975h33v28h-33zM1492 1060h33v28h-33zM1624 1088h33v28h-33z"/><path fill="#0000f1" d="M1094 581h33v28h-33zM1492 694h33v28h-33zM1591 694h33v28h-33z"/><path fill="#0000ed" d="M1127 581h34v28h-34zM1127 609h34v29h-34zM1127 638h34v28h-34zM1458 638h34v28h-34zM1492 750h33v28h-33zM1558 835h33v28h-33zM1525 863h33v28h-33zM1591 1031h33v29h-33z"/><path fill="#2e2eff" d="M1194 581h66v28h-66zM1624 694h33v28h-33zM1624 806h33v29h-33zM1492 891h33v28h-33zM1624 919h33v28h-33zM1492 1116h33v28h-33z"/><path fill="#7d7dff" d="M1260 581h33v28h-33zM1227 638h33v28h-33zM1094 722h33v28h-33z"/><path fill="#2424ff" d="M1392 581h33v28h-33zM1657 581h33v28h-33zM1624 750h33v28h-33zM1624 863h33v28h-33zM1492 1031h33v29h-33z"/><path fill="#0000f6" d="M1425 581h33v28h-33zM1591 835h33v28h-33zM1558 1031h33v29h-33z"/><path fill="#0000cb" d="M1458 581h34v28h-34zM1492 638h33v28h-33z"/><path fill="#009" d="M1558 581h33v28h-33z"/><path fill="#00009d" d="M1591 581h33v28h-33z"/><path fill="#e9e9ff" d="M432 609h33v29h-33z"/><path fill="#ffc4c4" d="M697 609h33v29h-33zM697 638h33v28h-33zM697 666h33v28h-33z"/><path fill="#ff8c8c" d="M763 609h33v29h-33zM1028 947h33v28h-33zM796 1060h34v28h-34z"/><path fill="#f66" d="M796 609h67v29h-67z"/><path fill="#ff3838" d="M863 609h33v29h-33zM896 750h33v28h-33zM995 919h33v28h-33zM896 1060h33v28h-33z"/><path fill="#ff9c9c" d="M995 609h33v29h-33zM763 666h33v28h-33zM763 694h33v28h-33zM796 947h34v28h-34z"/><path fill="#0f0fff" d="M1094 609h33v29h-33zM1525 919h33v28h-33zM1492 1003h33v28h-33zM1525 1088h33v28h-33zM1591 1116h33v28h-33z"/><path fill="#4040ff" d="M1392 609h33v29h-33z"/><path fill="#0000b8" d="M1492 609h33v29h-33z"/><path fill="#0000b0" d="M1525 609h33v29h-33z"/><path fill="#0000af" d="M1558 609h33v29h-33z"/><path fill="#0000d4" d="M1591 609h33v29h-33z"/><path fill="#0000e6" d="M1624 609h33v29h-33zM1558 947h33v28h-33z"/><path fill="#7070ff" d="M1690 609h33v29h-33zM1061 638h33v28h-33z"/><path fill="#ff9191" d="M763 638h33v28h-33zM796 1031h34v29h-34zM796 1116h34v28h-34z"/><path fill="#ff2424" d="M863 638h33v28h-33zM896 806h66v29h-66z"/><path fill="#ff5252" d="M896 638h33v28h-33zM896 666h33v28h-33z"/><path fill="#ff8080" d="M995 638h33v28h-33z"/><path fill="#0d0dff" d="M1094 638h33v28h-33zM1127 666h34v28h-34zM1458 666h34v28h-34zM1458 694h34v28h-34z"/><path fill="#3030ff" d="M1425 638h33v28h-33z"/><path fill="#0000b6" d="M1525 638h33v28h-33z"/><path fill="#0000bd" d="M1558 638h33v28h-33zM1558 694h33v28h-33z"/><path fill="#0000c8" d="M1591 638h33v28h-33z"/><path fill="#f1f1ff" d="M432 666h33v28h-33z"/><path fill="#ffb8b8" d="M730 666h33v28h-33zM1293 1060h33v28h-33z"/><path fill="#ff7373" d="M796 666h34v28h-34zM830 778h33v28h-33zM830 891h33v28h-33z"/><path fill="#ff3d3d" d="M863 666h33v28h-33zM929 666h33v28h-33zM896 694h66v28h-66zM863 750h33v28h-33zM929 750h33v28h-33zM863 891h33v28h-33zM896 919h33v28h-33zM962 1060h33v28h-33zM863 1116h66v28h-66z"/><path fill="#ff6363" d="M962 666h33v28h-33zM830 722h33v28h-33zM896 863h33v28h-33zM863 1088h33v28h-33z"/><path fill="#ff7575" d="M995 666h33v28h-33z"/><path fill="#5252ff" d="M1161 666h33v28h-33z"/><path fill="#c2c2ff" d="M1260 666h33v28h-33zM1756 722h33v28h-33zM1392 863h33v28h-33zM1425 947h33v28h-33zM1425 1031h33v29h-33zM1756 1060h33v28h-33z"/><path fill="#0000d2" d="M1492 666h33v28h-33z"/><path fill="#0000c4" d="M1525 666h33v28h-33z"/><path fill="#0000c6" d="M1558 666h33v28h-33z"/><path fill="#0000cf" d="M1591 666h33v28h-33z"/><path fill="#1a1aff" d="M1624 666h33v28h-33z"/><path fill="#5757ff" d="M1657 666h33v28h-33z"/><path fill="#c4c4ff" d="M1756 666h33v28h-33zM1756 694h33v28h-33zM1392 778h33v28h-33z"/><path fill="#ff2121" d="M962 694h33v28h-33zM929 1060h33v28h-33z"/><path fill="#5e5eff" d="M1094 694h33v28h-33zM1127 722h34v28h-34zM1458 835h34v28h-34z"/><path fill="#6b6bff" d="M1425 694h33v28h-33zM1425 750h33v28h-33z"/><path fill="#4d4dff" d="M1657 694h33v28h-33z"/><path fill="#ffd4d4" d="M631 722h33v28h-33zM1293 750h33v28h-33zM1293 835h33v28h-33zM1359 947h33v28h-33zM1094 1031h33v29h-33zM1359 1116h33v28h-33z"/><path fill="#ff9696" d="M763 722h33v28h-33zM995 722h33v28h-33zM796 891h34v28h-34zM796 919h34v28h-34zM796 975h34v28h-34zM796 1003h34v28h-34zM1028 1088h33v28h-33z"/><path fill="#ff2929" d="M863 722h33v28h-33zM896 947h33v28h-33zM929 1116h33v28h-33z"/><path fill="#ff1c1c" d="M896 722h33v28h-33z"/><path fill="#ff1212" d="M929 722h33v28h-33zM929 778h33v28h-33zM962 835h33v28h-33z"/><path fill="#1919ff" d="M1458 722h34v28h-34zM1492 806h33v29h-33zM1591 1088h33v28h-33z"/><path fill="#0000f4" d="M1492 722h33v28h-33zM1525 806h33v29h-33zM1525 1031h33v29h-33z"/><path fill="#0000bf" d="M1558 722h33v28h-33z"/><path fill="#0000e2" d="M1591 722h33v28h-33zM1525 750h33v28h-33zM1591 778h33v28h-33zM1558 863h33v28h-33zM1558 919h33v28h-33z"/><path fill="#babaff" d="M1723 722h33v28h-33zM1723 919h33v28h-33zM1723 947h33v28h-33z"/><path fill="#ff7d7d" d="M796 750h34v28h-34zM796 778h34v28h-34zM995 835h33v28h-33zM830 919h33v28h-33zM830 947h33v28h-33z"/><path fill="#ff5e5e" d="M830 750h33v28h-33zM830 863h33v28h-33zM863 975h33v28h-33zM863 1003h33v28h-33z"/><path fill="#ff5c5c" d="M995 750h33v28h-33zM830 835h66v28h-66z"/><path fill="#2b2bff" d="M1458 750h34v28h-34z"/><path fill="#ffc2c2" d="M730 778h33v28h-33zM730 975h33v28h-33zM730 1003h33v28h-33zM1227 1003h33v28h-33zM730 1031h33v29h-33zM1061 1031h33v29h-33zM1326 1031h33v29h-33zM1227 1060h33v28h-33zM730 1088h33v28h-33z"/><path fill="#ff4747" d="M863 778h33v28h-33zM863 1031h33v29h-33zM995 1060h33v28h-33zM896 1088h33v28h-33z"/><path fill="#ffb2b2" d="M1028 778h33v28h-33zM1028 835h33v28h-33zM1293 975h33v28h-33zM1293 1003h33v28h-33zM1260 1060h33v28h-33z"/><path fill="#9494ff" d="M1127 778h34v28h-34z"/><path fill="#0505ff" d="M1492 778h33v28h-33z"/><path fill="#0000ef" d="M1525 778h33v28h-33zM1558 806h33v29h-33zM1558 1116h33v28h-33z"/><path fill="#fc0000" d="M962 806h33v29h-33z"/><path fill="#ff7070" d="M995 806h33v29h-33z"/><path fill="#8a8aff" d="M1425 806h33v29h-33zM1458 1060h34v28h-34z"/><path fill="#4545ff" d="M1458 806h34v29h-34z"/><path fill="#ff1f1f" d="M929 835h33v28h-33zM962 919h33v28h-33zM962 1031h33v29h-33z"/><path fill="#ff7878" d="M796 863h34v28h-34zM1028 863h33v28h-33zM830 1003h33v28h-33zM830 1031h33v29h-33z"/><path fill="#f00" d="M929 863h33v28h-33zM929 919h33v28h-33zM929 947h33v28h-33zM995 1088h33v28h-33z"/><path fill="#ffbdbd" d="M1293 863h33v28h-33zM1326 1060h33v28h-33zM1227 1088h33v28h-33z"/><path fill="#1c1cff" d="M1492 863h33v28h-33z"/><path fill="#0000eb" d="M1591 863h33v28h-33zM1558 891h33v28h-33z"/><path fill="#ff4040" d="M896 891h33v28h-33zM863 919h33v28h-33z"/><path fill="#ff1414" d="M929 891h33v28h-33z"/><path fill="#ff4a4a" d="M995 891h33v28h-33z"/><path fill="#0303ff" d="M1525 891h33v28h-33zM1525 947h33v28h-33z"/><path fill="#0000fd" d="M1591 919h33v28h-33z"/><path fill="#ff5454" d="M863 947h33v28h-33z"/><path fill="#0000f3" d="M1591 947h33v28h-33zM1558 1060h33v28h-33zM1558 1088h33v28h-33z"/><path fill="#4242ff" d="M1624 947h33v28h-33z"/><path fill="#ff0f0f" d="M929 975h33v28h-33zM929 1088h33v28h-33z"/><path fill="#ff1919" d="M962 975h33v28h-33z"/><path fill="#ffb5b5" d="M1326 975h33v28h-33z"/><path fill="#0000e8" d="M1558 975h33v28h-33z"/><path fill="#3b3bff" d="M1624 975h33v28h-33z"/><path fill="#ffabab" d="M763 1003h33v28h-33zM763 1060h33v28h-33zM1061 1088h33v28h-33zM1326 1088h33v28h-33zM1293 1116h33v28h-33z"/><path fill="#ff3b3b" d="M896 1003h33v28h-33z"/><path fill="#ff0808" d="M929 1003h33v28h-33z"/><path fill="#fa0000" d="M962 1003h33v28h-33zM995 1116h33v28h-33z"/><path fill="#ff1717" d="M929 1031h33v29h-33zM962 1116h33v28h-33z"/><path fill="#ffcfcf" d="M1260 1031h33v29h-33zM1359 1060h33v28h-33z"/><path fill="#ff8282" d="M830 1060h33v28h-33zM830 1088h33v28h-33zM830 1116h33v28h-33zM1028 1116h33v28h-33z"/><path fill="#ff8f8f" d="M1293 1088h33v28h-33z"/><path fill="#1717ff" d="M1525 1116h33v28h-33z"/></g><g shape-rendering="crispEdges"><path fill="#f7f7ff" d="M333 1219h66v28h-66zM1293 1247h33v28h-33zM1723 1247h33v28h-33zM1293 1331h33v28h-33zM499 1359h33v29h-33zM863 1388h33v28h-33zM1624 1388h33v28h-33zM432 1416h33v28h-33zM499 1416h33v28h-33zM1326 1416h33v28h-33zM1922 1416h33v28h-33zM333 1444h33v28h-33zM432 1444h33v28h-33zM432 1472h33v28h-33zM1789 1528h34v28h-34zM499 1556h33v28h-33zM1756 1556h33v28h-33zM399 1584h33v28h-33zM532 1612h33v28h-33zM499 1669h33v28h-33zM565 1697h33v28h-33zM1061 1697h33v28h-33zM598 1893h33v28h-33zM565 1921h33v29h-33zM499 1978h33v28h-33zM499 2034h33v28h-33z"/><path fill="#fff7f7" d="M432 1219h33v28h-33zM499 1219h33v28h-33zM1723 1219h33v28h-33zM1094 1247h33v28h-33zM1260 1247h33v28h-33zM300 1275h33v28h-33zM1723 1275h33v28h-33zM300 1303h33v28h-33zM300 1331h33v28h-33zM1227 1331h33v28h-33zM1723 1331h33v28h-33zM366 1359h33v29h-33zM465 1359h34v29h-34zM1094 1359h33v29h-33zM1227 1359h33v29h-33zM1591 1359h33v29h-33zM1723 1359h66v29h-66zM333 1388h33v28h-33zM962 1388h33v28h-33zM300 1416h33v28h-33zM465 1416h34v28h-34zM863 1416h33v28h-33zM929 1416h33v28h-33zM1127 1416h34v28h-34zM1227 1416h33v28h-33zM366 1444h33v28h-33zM465 1444h34v28h-34zM1624 1444h33v28h-33zM1823 1444h33v28h-33zM333 1500h33v28h-33zM465 1500h34v28h-34zM532 1528h33v28h-33zM1823 1528h33v28h-33zM1889 1528h66v28h-66zM465 1556h34v28h-34zM1028 1556h33v28h-33zM465 1584h34v28h-34zM565 1584h33v28h-33zM366 1612h99v28h-99zM565 1612h33v28h-33zM499 1640h33v29h-33zM565 1640h33v29h-33zM1326 1640h33v29h-33zM532 1753h33v28h-33zM1823 1809h33v28h-33zM1922 1809h33v28h-33zM1789 1837h34v28h-34zM1094 1893h33v28h-33zM1789 1893h34v28h-34zM399 1921h33v29h-33zM465 1921h34v29h-34zM1922 1950h33v28h-33zM598 1978h33v28h-33zM1194 1978h33v28h-33zM1789 1978h34v28h-34zM366 2034h33v28h-33zM697 2034h33v28h-33zM1392 2034h33v28h-33zM1789 2034h67v28h-67z"/><path fill="#ececff" d="M565 1219h33v28h-33zM499 1444h33v28h-33zM499 1472h33v28h-33zM499 1500h66v28h-66zM432 1528h33v28h-33z"/><path fill="#fff5f5" d="M598 1219h33v28h-33zM796 1219h67v28h-67zM1392 1219h100v28h-100zM830 1247h33v28h-33zM830 1275h33v28h-33zM1359 1275h33v28h-33zM1690 1275h33v28h-33zM697 1303h33v28h-33zM830 1303h33v28h-33zM1161 1303h33v28h-33zM730 1331h33v28h-33zM796 1331h34v28h-34zM1028 1331h33v28h-33zM1657 1359h66v29h-66zM598 1388h66v28h-66zM730 1388h33v28h-33zM1293 1388h33v28h-33zM1492 1388h33v28h-33zM1657 1388h33v28h-33zM631 1416h33v28h-33zM730 1416h33v28h-33zM796 1416h34v28h-34zM1260 1416h33v28h-33zM1889 1556h33v28h-33zM1823 1612h99v28h-99zM1823 1640h66v29h-66zM1260 1697h33v28h-33zM1823 1725h99v28h-99zM565 1809h33v28h-33zM1856 1809h33v28h-33zM532 1837h33v28h-33zM1823 1837h33v28h-33zM1823 1893h33v28h-33zM366 1921h33v29h-33zM499 1921h33v29h-33zM1856 1921h33v29h-33zM565 1950h33v28h-33zM1889 2006h33v28h-33z"/><path fill="#ebebff" d="M631 1219h66v28h-66zM730 1247h33v28h-33zM796 1303h34v28h-34zM1624 1303h33v28h-33zM796 1388h67v28h-67zM896 1388h33v28h-33zM1161 1388h33v28h-33zM1723 1584h33v28h-33zM1723 1978h33v28h-33zM1425 2034h33v28h-33z"/><path fill="#ffebeb" d="M730 1219h33v28h-33zM697 1247h33v28h-33zM499 1275h33v28h-33zM929 1275h66v28h-66zM1194 1275h33v28h-33zM631 1359h33v29h-33zM1624 1359h33v29h-33zM763 1388h33v28h-33zM1227 1388h33v28h-33zM598 1416h33v28h-33zM664 1416h33v28h-33zM631 1472h33v28h-33zM631 1528h33v28h-33zM1856 1584h66v28h-66zM1955 1584h33v28h-33zM1028 1640h33v29h-33zM1856 1669h33v28h-33zM1922 1697h33v28h-33zM1856 1753h33v28h-33zM1922 1837h33v28h-33zM697 1865h33v28h-33zM1392 1893h33v28h-33zM1922 1893h33v28h-33zM499 1950h33v28h-33zM697 1978h33v28h-33zM1094 1978h33v28h-33zM1856 2006h33v28h-33z"/><path fill="#f0f0ff" d="M863 1219h33v28h-33zM962 1219h33v28h-33zM1326 1219h66v28h-66zM796 1247h34v28h-34zM1194 1247h33v28h-33zM1657 1275h33v28h-33zM532 1303h33v28h-33zM664 1303h33v28h-33zM1326 1303h33v28h-33zM1690 1303h33v28h-33zM1127 1331h34v28h-34zM432 1359h33v29h-33zM1359 1359h33v29h-33zM432 1388h67v28h-67zM565 1388h33v28h-33zM1392 1388h33v28h-33zM1359 1416h33v28h-33zM1227 1444h33v28h-33zM532 1472h33v28h-33zM432 1500h33v28h-33zM499 1528h33v28h-33zM1756 1640h33v29h-33zM1227 1669h33v28h-33zM1194 1781h33v28h-33zM1392 1809h33v28h-33zM1723 1809h33v28h-33zM1723 1921h33v29h-33zM1194 1950h33v28h-33zM1723 1950h33v28h-33zM1756 1978h33v28h-33zM1194 2006h33v28h-33zM1723 2006h33v28h-33zM1723 2034h33v28h-33z"/><path fill="#fff0f0" d="M896 1219h33v28h-33zM1161 1219h33v28h-33zM1690 1247h33v28h-33zM1624 1275h33v28h-33zM565 1331h33v28h-33zM1657 1331h33v28h-33zM1127 1359h34v29h-34zM1723 1388h33v28h-33zM1425 1416h33v28h-33zM1657 1416h33v28h-33zM697 1444h33v28h-33zM465 1528h34v28h-34zM1922 1556h66v28h-66zM499 1584h33v28h-33zM1922 1584h33v28h-33zM664 1612h33v28h-33zM1789 1612h34v28h-34zM1922 1612h33v28h-33zM1889 1640h66v29h-66zM1789 1669h67v28h-67zM1823 1697h33v28h-33zM1955 1697h33v28h-33zM1922 1725h33v28h-33zM1260 1781h33v28h-33zM499 1837h33v28h-33zM1359 1837h33v28h-33zM1889 1837h33v28h-33zM1955 1837h33v28h-33zM1823 1865h33v28h-33zM1889 1865h66v28h-66zM1889 1893h33v28h-33zM1823 1921h33v29h-33zM1889 1921h33v29h-33zM598 1950h66v28h-66zM1922 2006h33v28h-33zM1856 2034h132v28h-132z"/><path fill="#ffe8e8" d="M995 1219h66v28h-66zM1094 1303h33v28h-33zM1657 1303h33v28h-33zM1525 1359h33v29h-33zM995 1388h33v28h-33zM1061 1388h33v28h-33zM1293 1416h33v28h-33zM565 1528h33v28h-33zM1889 1669h33v28h-33zM631 1725h33v28h-33zM598 1753h66v28h-66zM1823 1753h33v28h-33zM598 1781h33v28h-33zM1889 1809h33v28h-33zM664 1837h33v28h-33zM598 2034h33v28h-33z"/><path fill="#ffeded" d="M1061 1219h33v28h-33zM1227 1219h33v28h-33zM1624 1219h33v28h-33zM863 1303h33v28h-33zM995 1331h33v28h-33zM1260 1388h33v28h-33zM962 1444h33v28h-33zM631 1500h33v28h-33zM1856 1528h33v28h-33zM1955 1528h33v28h-33zM1922 1669h66v28h-66zM1889 1697h33v28h-33zM333 1725h33v28h-33zM1922 1753h33v28h-33zM1823 1781h33v28h-33zM1889 1781h66v28h-66zM1856 1837h33v28h-33zM565 1865h33v28h-33zM1789 1865h34v28h-34zM664 1893h33v28h-33zM1061 1893h33v28h-33zM1856 1893h33v28h-33zM631 1921h33v29h-33zM697 1921h33v29h-33zM1392 1950h33v28h-33zM1856 1950h33v28h-33zM1955 1950h33v28h-33zM565 1978h33v28h-33zM1127 1978h34v28h-34zM1856 1978h132v28h-132zM1823 2006h33v28h-33zM1955 2006h33v28h-33z"/><path fill="#ededff" d="M1094 1219h33v28h-33zM1194 1219h33v28h-33zM598 1247h33v28h-33zM1458 1247h34v28h-34zM565 1275h33v28h-33zM995 1275h33v28h-33zM1161 1275h33v28h-33zM962 1331h33v28h-33zM1094 1331h33v28h-33zM1492 1331h33v28h-33zM1094 1388h33v28h-33zM896 1416h33v28h-33zM962 1416h33v28h-33zM1392 1416h33v28h-33zM1690 1444h33v28h-33zM1326 1612h33v28h-33zM532 1669h33v28h-33zM1260 1669h33v28h-33zM1723 1697h33v28h-33zM1392 1725h33v28h-33zM1392 1753h33v28h-33zM1690 1753h33v28h-33zM565 1781h33v28h-33zM1061 1781h33v28h-33zM1127 1865h34v28h-34zM1425 1865h33v28h-33zM1723 1893h33v28h-33zM1194 1921h33v29h-33zM1425 1950h33v28h-33z"/><path fill="#dbdbff" d="M1127 1219h34v28h-34zM1227 1303h33v28h-33z"/><path fill="#f5f5ff" d="M1260 1219h33v28h-33zM1690 1219h33v28h-33zM1558 1247h33v28h-33zM631 1275h66v28h-66zM730 1275h33v28h-33zM796 1275h34v28h-34zM896 1275h33v28h-33zM1260 1275h33v28h-33zM1425 1275h67v28h-67zM1558 1275h33v28h-33zM1756 1275h33v28h-33zM763 1303h33v28h-33zM929 1303h33v28h-33zM1525 1303h33v28h-33zM598 1331h33v28h-33zM830 1331h33v28h-33zM1392 1331h33v28h-33zM1591 1331h33v28h-33zM1756 1331h33v28h-33zM598 1359h33v29h-33zM664 1359h33v29h-33zM763 1359h33v29h-33zM830 1359h33v29h-33zM1061 1359h33v29h-33zM1425 1359h33v29h-33zM697 1388h33v28h-33zM1756 1388h33v28h-33zM763 1416h33v28h-33zM1492 1416h33v28h-33zM1293 1444h33v28h-33zM1756 1472h33v28h-33zM432 1640h33v29h-33zM565 1669h33v28h-33zM1723 1669h33v28h-33zM532 1697h33v28h-33zM1756 1697h33v28h-33zM1723 1753h33v28h-33zM432 1781h33v28h-33zM1227 1781h33v28h-33zM1756 1781h33v28h-33zM432 1809h33v28h-33zM532 1809h33v28h-33zM1094 1837h33v28h-33zM532 1893h66v28h-66zM631 1893h33v28h-33zM432 1921h33v29h-33zM432 1978h33v28h-33zM1194 2034h33v28h-33zM1756 2034h33v28h-33z"/><path fill="#fafaff" d="M1756 1219h67v28h-67zM1955 1247h33v28h-33zM1856 1275h33v28h-33zM1922 1275h33v28h-33zM1458 1303h34v28h-34zM1525 1331h33v28h-33zM1558 1359h33v29h-33zM1889 1388h33v28h-33zM1558 1416h33v28h-33zM1690 1416h33v28h-33zM1922 1444h33v28h-33zM1823 1500h33v28h-33zM1889 1500h33v28h-33zM1723 1640h33v29h-33zM399 1697h33v28h-33zM1326 1697h33v28h-33zM465 1725h34v28h-34zM1756 1725h33v28h-33zM1227 1753h33v28h-33zM1756 1753h33v28h-33zM465 1781h34v28h-34zM300 1809h33v28h-33zM1723 1837h66v28h-66zM399 1865h66v28h-66zM1723 1865h33v28h-33zM432 1893h67v28h-67zM1425 1893h33v28h-33zM1756 1893h33v28h-33zM300 1921h33v29h-33zM1756 1921h33v29h-33zM432 1950h33v28h-33zM1425 1978h33v28h-33zM432 2006h67v28h-67zM1127 2006h34v28h-34zM1756 2006h33v28h-33zM399 2034h66v28h-66zM565 2034h33v28h-33z"/><path fill="#dedeff" d="M929 1247h33v28h-33zM995 1247h66v28h-66zM896 1303h33v28h-33zM1161 1331h33v28h-33zM1127 1388h34v28h-34zM1789 1500h34v28h-34zM1293 1584h33v28h-33zM1359 1640h33v29h-33zM1227 1697h33v28h-33zM1657 1725h33v28h-33zM499 1753h33v28h-33zM1690 1921h33v29h-33zM1690 2006h33v28h-33z"/><path fill="#ffd9d9" d="M962 1247h33v28h-33zM1789 1472h34v28h-34zM631 1556h66v28h-66zM664 1781h33v28h-33zM598 1837h66v28h-66zM1326 1837h33v28h-33zM1094 2006h33v28h-33z"/><path fill="#e8e8ff" d="M1061 1247h33v28h-33zM532 1275h33v28h-33zM863 1275h33v28h-33zM1392 1303h33v28h-33zM532 1359h33v29h-33zM896 1359h33v29h-33zM1293 1359h33v29h-33zM499 1388h33v28h-33zM1591 1388h33v28h-33zM1061 1416h33v28h-33zM1260 1612h33v28h-33zM532 1640h33v29h-33zM532 1725h33v28h-33zM1690 1781h33v28h-33zM1227 1809h33v28h-33zM499 1865h66v28h-66zM1690 1893h33v28h-33zM1425 1921h33v29h-33zM1690 1978h33v28h-33z"/><path fill="#f2f2ff" d="M1127 1247h34v28h-34zM1558 1303h33v28h-33zM1260 1331h33v28h-33zM1326 1331h33v28h-33zM1558 1331h33v28h-33zM1326 1359h33v29h-33zM1359 1388h33v28h-33zM995 1416h33v28h-33zM1756 1584h33v28h-33zM1756 1612h33v28h-33zM1326 1669h66v28h-66zM1690 1865h33v28h-33zM1194 1893h33v28h-33z"/><path fill="#e6e6ff" d="M1161 1247h33v28h-33zM1624 1247h33v28h-33zM1293 1275h33v28h-33zM1194 1303h33v28h-33zM1260 1303h33v28h-33zM1359 1303h33v28h-33zM631 1331h33v28h-33zM697 1331h33v28h-33zM1458 1388h34v28h-34zM1458 1416h34v28h-34zM1723 1556h33v28h-33zM1723 1612h33v28h-33zM1260 1640h33v29h-33zM1194 1837h33v28h-33zM1094 1921h33v29h-33zM1161 1978h33v28h-33z"/><path fill="#e0e0ff" d="M1227 1247h33v28h-33zM896 1331h33v28h-33zM1260 1359h33v29h-33zM664 1388h33v28h-33zM1194 1388h33v28h-33zM1624 1416h33v28h-33zM1028 1584h33v28h-33zM1359 1612h33v28h-33zM1227 1725h33v28h-33zM1690 1725h33v28h-33zM1425 1781h33v28h-33zM1425 1837h33v28h-33zM1657 1865h33v28h-33zM1127 2034h34v28h-34z"/><path fill="#fffafa" d="M1326 1247h33v28h-33zM1492 1247h66v28h-66zM1326 1275h33v28h-33zM1492 1275h33v28h-33zM1889 1416h33v28h-33zM1955 1500h33v28h-33zM1823 1556h66v28h-66zM1823 1584h33v28h-33zM333 1669h33v28h-33zM432 1669h33v28h-33zM300 1697h33v28h-33zM366 1697h33v28h-33zM399 1753h33v28h-33zM399 1837h33v28h-33zM1061 1837h33v28h-33zM333 1893h66v28h-66zM465 1950h34v28h-34zM664 1950h33v28h-33zM1823 1978h33v28h-33z"/><path fill="#ffd6d6" d="M598 1275h33v28h-33zM1227 1275h33v28h-33zM1061 1331h33v28h-33zM1028 1416h33v28h-33zM664 1472h33v28h-33zM631 1612h33v28h-33zM1326 1725h33v28h-33zM1326 1753h33v28h-33zM697 1781h33v28h-33zM1326 1781h33v28h-33zM697 1837h66v28h-66zM1260 1921h33v29h-33zM1061 1978h33v28h-33zM1061 2034h33v28h-33z"/><path fill="#fcc" d="M1028 1275h33v28h-33zM1823 1472h33v28h-33zM1293 1669h33v28h-33zM1293 1753h33v28h-33zM730 1781h33v28h-33zM730 1865h33v28h-33zM763 1893h33v28h-33zM1227 1893h66v28h-66zM697 1950h33v28h-33zM1227 1950h33v28h-33zM1359 1950h33v28h-33zM730 1978h33v28h-33zM1260 2034h33v28h-33zM1326 2034h33v28h-33z"/><path fill="#ffdbdb" d="M1094 1275h33v28h-33zM1525 1388h33v28h-33zM697 1753h33v28h-33zM1061 1865h33v28h-33zM1359 1893h33v28h-33zM1955 1893h33v28h-33zM664 2034h33v28h-33zM730 2034h33v28h-33z"/><path fill="#ffe0e0" d="M1127 1275h34v28h-34zM1293 1303h33v28h-33zM1525 1416h33v28h-33zM598 1444h33v28h-33zM1922 1472h66v28h-66zM598 1528h33v28h-33zM697 1612h33v28h-33zM598 1640h33v29h-33zM664 1640h33v29h-33zM631 1669h66v28h-66zM697 1697h33v28h-33zM697 1725h33v28h-33zM1955 1725h33v28h-33zM664 1753h33v28h-33zM1061 1753h33v28h-33zM1260 1753h33v28h-33zM631 1781h33v28h-33zM1359 1781h33v28h-33zM598 1809h33v28h-33zM1955 1809h33v28h-33zM1227 1837h33v28h-33zM598 1865h66v28h-66zM1227 1865h33v28h-33zM1955 1865h33v28h-33zM697 1893h33v28h-33zM1359 1921h33v29h-33zM697 2006h33v28h-33z"/><path fill="#c9c9ff" d="M1591 1275h33v28h-33zM1061 1303h33v28h-33zM1591 1303h33v28h-33zM1591 1416h33v28h-33z"/><path fill="#ffd1d1" d="M565 1303h33v28h-33zM532 1331h33v28h-33zM763 1444h67v28h-67zM598 1584h33v28h-33zM697 1640h33v29h-33zM598 1669h33v28h-33zM697 1669h33v28h-33zM1028 1669h33v28h-33zM1293 1725h33v28h-33zM697 1809h33v28h-33zM1061 1809h33v28h-33zM1260 1809h33v28h-33z"/><path fill="#ffe6e6" d="M995 1303h33v28h-33zM929 1359h66v29h-66zM1194 1359h33v29h-33zM598 1472h33v28h-33zM598 1500h33v28h-33zM664 1528h33v28h-33zM631 1584h66v28h-66zM1955 1612h33v28h-33zM1955 1640h33v29h-33zM631 1697h33v28h-33zM1856 1697h33v28h-33zM664 1725h33v28h-33zM1359 1753h33v28h-33zM1955 1753h33v28h-33zM1955 1781h33v28h-33zM1260 1837h33v28h-33zM664 1921h33v29h-33zM1922 1921h66v29h-66zM631 1978h33v28h-33zM1227 2034h33v28h-33z"/><path fill="#fff2f2" d="M1127 1303h34v28h-34zM1723 1303h33v28h-33zM929 1331h33v28h-33zM929 1388h33v28h-33zM1558 1388h33v28h-33zM1194 1416h33v28h-33zM499 1697h33v28h-33zM598 1697h33v28h-33zM1359 1725h33v28h-33zM1789 1725h34v28h-34zM565 1753h33v28h-33zM1789 1753h34v28h-34zM1889 1753h33v28h-33zM1789 1781h34v28h-34zM1856 1781h33v28h-33zM1392 1865h33v28h-33zM1856 1865h33v28h-33zM1789 1950h67v28h-67zM1889 1950h33v28h-33z"/><path fill="#d4d4ff" d="M1194 1331h33v28h-33zM1161 1359h33v29h-33zM1657 1950h66v28h-66zM1657 1978h33v28h-33z"/><path fill="#ffbaba" d="M995 1359h33v29h-33zM830 1444h33v28h-33zM730 1640h33v29h-33zM730 1809h33v28h-33zM763 2034h33v28h-33z"/><path fill="#f4f4ff" d="M532 1388h33v28h-33zM565 1444h33v28h-33zM565 1556h33v28h-33zM432 1584h33v28h-33zM499 1612h33v28h-33z"/><path fill="#fff4f4" d="M366 1416h33v28h-33zM399 1444h33v28h-33zM565 1472h33v28h-33z"/><path fill="#d1d1ff" d="M565 1416h33v28h-33zM1326 1444h33v28h-33zM1293 1556h33v28h-33zM1690 1584h33v28h-33zM1061 1640h33v29h-33zM1690 1697h33v28h-33zM1061 1725h33v28h-33zM1094 1781h33v28h-33zM1127 1809h34v28h-34zM1161 1837h33v28h-33zM1161 1893h33v28h-33zM1624 1978h33v28h-33z"/><path fill="#d6d6ff" d="M1161 1416h33v28h-33zM1260 1444h33v28h-33zM1591 1444h33v28h-33zM1723 1500h66v28h-66zM1756 1528h33v28h-33zM1227 1612h33v28h-33zM1690 1612h33v28h-33zM1227 1640h33v29h-33zM1392 1781h33v28h-33zM1194 1809h33v28h-33zM1690 1809h33v28h-33zM1690 1837h33v28h-33zM1127 1921h34v29h-34zM532 1978h33v28h-33zM565 2006h33v28h-33zM1690 2034h33v28h-33z"/><path fill="#ccf" d="M532 1444h33v28h-33zM995 1472h33v28h-33zM1723 1472h33v28h-33zM1028 1500h33v28h-33zM1690 1556h33v28h-33zM532 1584h33v28h-33zM1690 1640h33v29h-33zM1690 1669h33v28h-33zM1194 1725h33v28h-33zM1425 1809h33v28h-33zM1458 1978h34v28h-34z"/><path fill="#ffdede" d="M730 1444h33v28h-33zM664 1500h33v28h-33zM664 1697h33v28h-33zM631 1809h66v28h-66zM664 1865h33v28h-33zM1260 1865h33v28h-33z"/><path fill="#ffbfbf" d="M863 1444h33v28h-33zM697 1500h33v28h-33z"/><path fill="#ffb0b0" d="M896 1444h33v28h-33zM730 1528h33v28h-33zM730 1556h33v28h-33zM730 1612h33v28h-33zM730 1669h33v28h-33zM730 1725h33v28h-33zM763 1809h33v28h-33zM763 1837h33v28h-33zM763 1865h33v28h-33zM763 1950h33v28h-33zM1293 1978h33v28h-33zM1260 2006h33v28h-33z"/><path fill="#ffa8a8" d="M929 1444h33v28h-33zM1028 1837h33v28h-33zM1061 1921h33v29h-33z"/><path fill="#8787ff" d="M995 1444h33v28h-33zM1194 1444h33v28h-33zM1525 1444h33v28h-33zM1392 1556h33v28h-33zM1194 1584h33v28h-33zM1161 1669h33v28h-33zM1558 1697h33v28h-33zM1458 1725h34v28h-34zM1492 1837h33v28h-33zM1558 1921h33v29h-33zM1525 1978h33v28h-33z"/><path fill="#7878ff" d="M1028 1444h33v28h-33zM1359 1500h33v28h-33zM1425 1584h33v28h-33zM1591 1612h33v28h-33zM1558 1669h33v28h-33zM1492 1697h33v28h-33zM1525 1781h33v28h-33z"/><path fill="#00f" d="M1061 1444h33v28h-33zM1591 1500h33v28h-33zM1161 1556h33v28h-33z"/><path fill="#2929ff" d="M1094 1444h33v28h-33zM1458 1556h100v28h-100z"/><path fill="#33f" d="M1127 1444h34v28h-34zM1558 1528h33v28h-33zM1492 1584h33v28h-33zM1161 1612h33v28h-33z"/><path fill="#4f4fff" d="M1161 1444h33v28h-33zM1591 1528h33v28h-33zM1458 1584h34v28h-34zM1458 1612h34v28h-34z"/><path fill="#b2b2ff" d="M1359 1444h33v28h-33zM1094 1725h33v28h-33zM1624 1893h33v28h-33z"/><path fill="#b0b0ff" d="M1392 1444h33v28h-33zM1293 1528h33v28h-33zM1657 1584h33v28h-33zM1161 1950h33v28h-33zM1624 2006h33v28h-33z"/><path fill="#ababff" d="M1425 1444h67v28h-67zM1690 1500h33v28h-33zM1028 1528h33v28h-33zM1326 1528h66v28h-66zM1260 1556h33v28h-33zM1326 1556h66v28h-66zM1227 1584h33v28h-33zM1392 1612h33v28h-33zM1194 1640h33v29h-33zM1425 1640h33v29h-33zM1624 1640h33v29h-33zM1094 1697h33v28h-33zM1624 1697h33v28h-33zM1458 1781h34v28h-34zM1492 1865h33v28h-33zM1492 1893h33v28h-33zM1591 1893h33v28h-33zM1458 1921h34v29h-34zM1492 1978h33v28h-33z"/><path fill="#a6a6ff" d="M1492 1444h33v28h-33zM1624 1612h66v28h-66zM1061 1669h66v28h-66zM1624 1725h33v28h-33zM1458 1837h34v28h-34zM1624 1837h33v28h-33zM1458 1893h34v28h-34zM1591 2006h33v28h-33z"/><path fill="#babaff" d="M1558 1444h33v28h-33zM1425 1697h33v28h-33zM1624 1865h33v28h-33zM1458 2034h34v28h-34z"/><path fill="#ffc7c7" d="M697 1472h33v28h-33zM1028 1612h33v28h-33zM1028 1725h33v28h-33zM730 1753h33v28h-33zM664 1978h33v28h-33zM664 2006h33v28h-33z"/><path fill="#ffa6a6" d="M730 1472h33v28h-33zM763 1753h33v28h-33zM796 2006h34v28h-34z"/><path fill="#f99" d="M763 1472h33v28h-33z"/><path fill="#ff6e6e" d="M796 1472h34v28h-34zM962 1500h33v28h-33zM796 1556h34v28h-34zM830 1584h33v28h-33zM796 1612h34v28h-34zM1028 1978h33v28h-33z"/><path fill="#ff5959" d="M830 1472h33v28h-33zM830 1500h33v28h-33zM896 1528h33v28h-33zM962 1556h33v28h-33zM830 1612h33v28h-33zM995 1697h33v28h-33zM962 1809h33v28h-33zM995 1893h33v28h-33z"/><path fill="#f33" d="M863 1472h33v28h-33zM896 1697h33v28h-33zM896 1753h33v28h-33zM962 1865h33v28h-33z"/><path fill="#ff4f4f" d="M896 1472h33v28h-33zM863 1612h33v28h-33zM962 1781h33v28h-33zM1028 1893h33v28h-33zM1028 1921h33v29h-33zM863 1978h33v28h-33z"/><path fill="#ff8787" d="M929 1472h33v28h-33zM763 1500h33v28h-33zM796 1725h34v28h-34zM796 1753h34v28h-34zM1028 1809h33v28h-33zM830 1893h33v28h-33zM1028 1950h33v28h-33zM1293 2006h33v28h-33z"/><path fill="#ff8a8a" d="M962 1472h33v28h-33z"/><path fill="#3d3dff" d="M1028 1472h33v28h-33zM1591 1556h33v28h-33zM1525 1584h33v28h-33z"/><path fill="#0000d6" d="M1061 1472h33v28h-33zM1194 1472h33v28h-33z"/><path fill="#000087" d="M1094 1472h33v28h-33z"/><path fill="#00007d" d="M1127 1472h34v28h-34z"/><path fill="#00005e" d="M1161 1472h33v28h-33z"/><path fill="#0000e1" d="M1227 1472h33v28h-33z"/><path fill="#0000fa" d="M1260 1472h33v28h-33zM1458 1500h34v28h-34zM1161 1528h33v28h-33z"/><path fill="#2e2eff" d="M1293 1472h33v28h-33zM1194 1500h66v28h-66z"/><path fill="#1414ff" d="M1326 1472h33v28h-33zM1558 1500h33v28h-33zM1194 1528h33v28h-33z"/><path fill="#0000f6" d="M1359 1472h33v28h-33zM1591 1472h33v28h-33zM1525 1500h33v28h-33z"/><path fill="#0000ed" d="M1392 1472h33v28h-33zM1127 1500h34v28h-34zM1127 1528h34v28h-34zM1127 1556h34v28h-34z"/><path fill="#0000c9" d="M1425 1472h33v28h-33z"/><path fill="#0000bf" d="M1458 1472h34v28h-34z"/><path fill="#0000b4" d="M1492 1472h33v28h-33z"/><path fill="#0000b9" d="M1525 1472h33v28h-33z"/><path fill="#0000d8" d="M1558 1472h33v28h-33zM1161 1500h33v28h-33z"/><path fill="#1f1fff" d="M1624 1472h33v28h-33zM1425 1500h33v28h-33z"/><path fill="#2121ff" d="M1657 1472h33v28h-33zM1525 1528h33v28h-33z"/><path fill="#7070ff" d="M1690 1472h33v28h-33zM1061 1556h33v28h-33zM1624 1556h33v28h-33zM1591 1781h33v28h-33z"/><path fill="#ffd4d4" d="M1856 1472h33v28h-33zM631 1640h33v29h-33zM1359 1809h33v28h-33zM1094 1950h33v28h-33z"/><path fill="#ffcfcf" d="M1889 1472h33v28h-33zM1260 1950h33v28h-33zM1359 2006h33v28h-33z"/><path fill="#ffa1a1" d="M730 1500h33v28h-33zM995 1500h33v28h-33zM995 1612h33v28h-33zM763 1669h33v28h-33zM763 1697h33v28h-33zM763 1725h33v28h-33zM763 1781h33v28h-33zM1293 1950h33v28h-33zM763 2006h33v28h-33zM1326 2006h33v28h-33z"/><path fill="#ff6969" d="M796 1500h34v28h-34zM830 1556h33v28h-33zM796 1640h34v29h-34zM962 1669h33v28h-33zM830 1725h33v28h-33zM995 1781h33v28h-33zM995 1865h33v28h-33z"/><path fill="#ff2e2e" d="M863 1500h33v28h-33zM929 1556h33v28h-33zM995 1921h33v29h-33zM995 1950h33v28h-33z"/><path fill="#ff4545" d="M896 1500h33v28h-33zM929 1528h66v28h-66zM962 1640h33v29h-33zM962 1697h33v28h-33zM863 1725h33v28h-33zM863 1781h33v28h-33zM896 1893h33v28h-33zM896 1950h33v28h-33z"/><path fill="#ff0d0d" d="M929 1500h33v28h-33zM962 2006h33v28h-33z"/><path fill="#3838ff" d="M1061 1500h33v28h-33zM1392 1500h33v28h-33zM1061 1528h33v28h-33z"/><path fill="#0000f1" d="M1094 1500h33v28h-33z"/><path fill="#7d7dff" d="M1260 1500h33v28h-33zM1657 1500h33v28h-33zM1227 1556h33v28h-33zM1094 1640h33v29h-33zM1492 1753h33v28h-33zM1558 1781h33v28h-33zM1558 1837h33v28h-33z"/><path fill="#bdbdff" d="M1293 1500h33v28h-33z"/><path fill="#9c9cff" d="M1326 1500h33v28h-33zM1227 1528h33v28h-33zM1624 1669h33v28h-33zM1624 1781h33v28h-33zM1161 1865h33v28h-33zM1525 1893h33v28h-33zM1591 2034h33v28h-33z"/><path fill="#0000fb" d="M1492 1500h33v28h-33z"/><path fill="#4a4aff" d="M1624 1500h33v28h-33zM1425 1528h33v28h-33zM1161 1640h33v29h-33zM1558 1640h33v29h-33z"/><path fill="#ffc4c4" d="M697 1528h33v28h-33zM697 1556h33v28h-33zM697 1584h33v28h-33z"/><path fill="#ff8c8c" d="M763 1528h33v28h-33zM1028 1865h33v28h-33zM796 1978h34v28h-34z"/><path fill="#f66" d="M796 1528h67v28h-67z"/><path fill="#ff3838" d="M863 1528h33v28h-33zM896 1669h33v28h-33zM995 1837h33v28h-33zM896 1978h33v28h-33z"/><path fill="#ff9c9c" d="M995 1528h33v28h-33zM763 1584h33v28h-33zM763 1612h33v28h-33zM796 1865h34v28h-34z"/><path fill="#0f0fff" d="M1094 1528h33v28h-33z"/><path fill="#9191ff" d="M1260 1528h33v28h-33zM1624 1584h33v28h-33zM1127 1753h34v28h-34zM1525 1921h33v29h-33z"/><path fill="#5454ff" d="M1392 1528h33v28h-33zM1624 1528h33v28h-33zM1558 1584h33v28h-33z"/><path fill="#0808ff" d="M1458 1528h34v28h-34z"/><path fill="#0d0dff" d="M1492 1528h33v28h-33zM1094 1556h33v28h-33zM1127 1584h34v28h-34z"/><path fill="#8c8cff" d="M1657 1528h33v28h-33zM1492 1725h33v28h-33zM1558 1753h33v28h-33zM1591 1978h33v28h-33z"/><path fill="#c2c2ff" d="M1690 1528h33v28h-33zM1260 1584h33v28h-33zM1492 2006h33v28h-33z"/><path fill="#e3e3ff" d="M1723 1528h33v28h-33zM499 1893h33v28h-33zM1161 1921h33v29h-33z"/><path fill="#ff9191" d="M763 1556h33v28h-33zM796 1950h34v28h-34zM796 2034h34v28h-34z"/><path fill="#ff2424" d="M863 1556h33v28h-33zM896 1725h66v28h-66z"/><path fill="#ff5252" d="M896 1556h33v28h-33zM896 1584h33v28h-33z"/><path fill="#ff8080" d="M995 1556h33v28h-33z"/><path fill="#5959ff" d="M1194 1556h33v28h-33zM1525 1612h33v28h-33zM1492 1669h33v28h-33z"/><path fill="#5c5cff" d="M1425 1556h33v28h-33zM1094 1584h33v28h-33zM1458 1640h34v29h-34zM1127 1669h34v28h-34z"/><path fill="#4747ff" d="M1558 1556h33v28h-33zM1591 1584h33v28h-33zM1558 1612h33v28h-33z"/><path fill="#b5b5ff" d="M1657 1556h33v28h-33zM1392 1640h33v29h-33zM1392 1669h33v28h-33zM1425 1725h33v28h-33zM1624 1753h66v28h-66zM1127 1781h34v28h-34zM1161 1809h33v28h-33zM1458 1809h34v28h-34zM1458 1865h34v28h-34zM1624 1921h33v29h-33zM1458 2006h34v28h-34zM1161 2034h33v28h-33z"/><path fill="#ffb8b8" d="M730 1584h33v28h-33zM1326 1950h33v28h-33z"/><path fill="#ff7373" d="M796 1584h34v28h-34zM830 1697h33v28h-33zM830 1809h33v28h-33z"/><path fill="#ff3d3d" d="M863 1584h33v28h-33zM929 1584h33v28h-33zM896 1612h66v28h-66zM863 1669h33v28h-33zM929 1669h33v28h-33zM863 1809h33v28h-33zM896 1837h33v28h-33zM962 1978h33v28h-33zM863 2034h66v28h-66z"/><path fill="#ff6363" d="M962 1584h33v28h-33zM830 1640h33v29h-33zM896 1781h33v28h-33zM863 2006h33v28h-33z"/><path fill="#ff7575" d="M995 1584h33v28h-33z"/><path fill="#8282ff" d="M1061 1584h33v28h-33zM1591 1669h33v28h-33zM1161 1697h33v28h-33zM1525 1725h33v28h-33zM1558 1865h33v28h-33zM1492 1921h33v29h-33zM1591 1921h33v29h-33zM1525 1950h33v28h-33z"/><path fill="#5252ff" d="M1161 1584h33v28h-33z"/><path fill="#c7c7ff" d="M1326 1584h33v28h-33zM1657 1640h33v29h-33zM1657 1669h33v28h-33zM1657 1697h33v28h-33zM1161 1753h66v28h-66zM1425 1753h33v28h-33zM1624 1809h33v28h-33zM1094 1865h33v28h-33zM1458 1950h34v28h-34zM1657 2006h33v28h-33z"/><path fill="#bfbfff" d="M1359 1584h33v28h-33zM1194 1697h33v28h-33zM1657 1781h33v28h-33zM1094 1809h33v28h-33zM1657 1809h33v28h-33zM1127 1837h34v28h-34zM1657 2034h33v28h-33z"/><path fill="#a1a1ff" d="M1392 1584h33v28h-33zM1194 1669h33v28h-33zM1094 1753h33v28h-33zM1458 1753h34v28h-34zM1492 1809h33v28h-33zM1591 1809h33v28h-33zM1525 1837h33v28h-33zM1624 1950h33v28h-33zM1525 2006h33v28h-33zM1492 2034h33v28h-33z"/><path fill="#ff2121" d="M962 1612h33v28h-33zM929 1978h33v28h-33z"/><path fill="#7a7aff" d="M1061 1612h33v28h-33zM1194 1612h33v28h-33zM1525 1697h33v28h-33zM1591 1865h33v28h-33z"/><path fill="#5e5eff" d="M1094 1612h33v28h-33zM1492 1612h33v28h-33zM1127 1640h34v29h-34z"/><path fill="#6363ff" d="M1127 1612h34v28h-34zM1492 1640h33v29h-33zM1591 1640h33v29h-33zM1591 1697h33v28h-33z"/><path fill="#9696ff" d="M1425 1612h33v28h-33zM1425 1669h33v28h-33zM1591 1725h33v28h-33zM1492 1950h33v28h-33z"/><path fill="#ff9696" d="M763 1640h33v29h-33zM995 1640h33v29h-33zM796 1809h34v28h-34zM796 1837h34v28h-34zM796 1893h34v28h-34zM796 1921h34v29h-34zM1028 2006h33v28h-33z"/><path fill="#ff2929" d="M863 1640h33v29h-33zM896 1865h33v28h-33zM929 2034h33v28h-33z"/><path fill="#ff1c1c" d="M896 1640h33v29h-33z"/><path fill="#ff1212" d="M929 1640h33v29h-33zM929 1697h33v28h-33zM962 1753h33v28h-33z"/><path fill="#ffe3e3" d="M1293 1640h33v29h-33zM1293 1697h33v28h-33zM598 1921h33v29h-33zM1392 1921h33v29h-33z"/><path fill="#7373ff" d="M1525 1640h33v29h-33zM1525 1753h33v28h-33zM1591 1950h33v28h-33z"/><path fill="#ff7d7d" d="M796 1669h34v28h-34zM796 1697h34v28h-34zM995 1753h33v28h-33zM830 1837h33v28h-33zM830 1865h33v28h-33z"/><path fill="#ff5e5e" d="M830 1669h33v28h-33zM830 1781h33v28h-33zM863 1893h33v28h-33zM863 1921h33v29h-33z"/><path fill="#ff5c5c" d="M995 1669h33v28h-33zM830 1753h66v28h-66z"/><path fill="#6e6eff" d="M1458 1669h34v28h-34z"/><path fill="#6969ff" d="M1525 1669h33v28h-33z"/><path fill="#ffc2c2" d="M730 1697h33v28h-33zM1326 1809h33v28h-33zM1326 1865h66v28h-66zM730 1893h33v28h-33zM730 1921h33v29h-33zM1227 1921h33v29h-33zM1326 1921h33v29h-33zM730 1950h33v28h-33zM1061 1950h33v28h-33zM1227 1978h33v28h-33zM730 2006h33v28h-33zM1359 2034h33v28h-33z"/><path fill="#ff4747" d="M863 1697h33v28h-33zM863 1950h33v28h-33zM995 1978h33v28h-33zM896 2006h33v28h-33z"/><path fill="#ffb2b2" d="M1028 1697h33v28h-33zM1028 1753h33v28h-33zM1293 1809h33v28h-33zM1293 1837h33v28h-33zM1293 1865h33v28h-33zM1260 1978h33v28h-33zM1326 1978h33v28h-33z"/><path fill="#9494ff" d="M1127 1697h34v28h-34zM1525 1809h33v28h-33zM1525 1865h33v28h-33zM1558 1978h33v28h-33zM1558 2006h33v28h-33z"/><path fill="#d9d9ff" d="M1392 1697h33v28h-33zM1657 1837h33v28h-33zM1657 1893h33v28h-33zM1657 1921h33v29h-33zM1127 1950h34v28h-34z"/><path fill="#6b6bff" d="M1458 1697h34v28h-34z"/><path fill="#fcfcff" d="M300 1725h33v28h-33zM300 1781h33v28h-33z"/><path fill="#fc0000" d="M962 1725h33v28h-33z"/><path fill="#ff7070" d="M995 1725h33v28h-33z"/><path fill="#8080ff" d="M1127 1725h67v28h-67zM1591 1753h33v28h-33z"/><path fill="#8f8fff" d="M1558 1725h33v28h-33zM1492 1781h33v28h-33zM1558 2034h33v28h-33z"/><path fill="#ff1f1f" d="M929 1753h33v28h-33zM962 1837h33v28h-33zM962 1950h33v28h-33z"/><path fill="#ff7878" d="M796 1781h34v28h-34zM1028 1781h33v28h-33zM830 1921h33v29h-33zM830 1950h33v28h-33z"/><path fill="#f00" d="M929 1781h33v28h-33zM929 1837h33v28h-33zM929 1865h33v28h-33zM995 2006h33v28h-33z"/><path fill="#a3a3ff" d="M1161 1781h33v28h-33z"/><path fill="#ffb5b5" d="M1293 1781h33v28h-33z"/><path fill="#ff4040" d="M896 1809h33v28h-33zM863 1837h33v28h-33z"/><path fill="#ff1414" d="M929 1809h33v28h-33z"/><path fill="#ff4a4a" d="M995 1809h33v28h-33z"/><path fill="#8a8aff" d="M1558 1809h33v28h-33zM1591 1837h33v28h-33z"/><path fill="#ff5454" d="M863 1865h33v28h-33z"/><path fill="#ff0f0f" d="M929 1893h33v28h-33zM929 2006h33v28h-33z"/><path fill="#ff1919" d="M962 1893h33v28h-33z"/><path fill="#ffabab" d="M1293 1893h66v28h-66zM763 1921h33v29h-33zM1293 1921h33v29h-33zM763 1978h33v28h-33zM1061 2006h33v28h-33z"/><path fill="#8585ff" d="M1558 1893h33v28h-33z"/><path fill="#ff3b3b" d="M896 1921h33v29h-33z"/><path fill="#ff0808" d="M929 1921h33v29h-33z"/><path fill="#fa0000" d="M962 1921h33v29h-33zM995 2034h33v28h-33z"/><path fill="#ff1717" d="M929 1950h33v28h-33zM962 2034h33v28h-33z"/><path fill="#99f" d="M1558 1950h33v28h-33z"/><path fill="#ff8282" d="M830 1978h33v28h-33zM830 2006h33v28h-33zM830 2034h33v28h-33zM1028 2034h33v28h-33z"/><path fill="#ffbdbd" d="M1359 1978h33v28h-33zM1227 2006h33v28h-33z"/><path fill="#ffa3a3" d="M1293 2034h33v28h-33z"/><path fill="#a8a8ff" d="M1525 2034h33v28h-33z"/><path fill="#9e9eff" d="M1624 2034h33v28h-33z"/></g><g shape-rendering="crispEdges"><path fill="#fefeff" d="M300 2137h33v28h-33zM863 2137h33v28h-33zM1227 2137h33v28h-33zM1558 2137h33v28h-33zM1690 2137h33v28h-33zM1823 2137h33v28h-33zM1955 2137h33v28h-33zM333 2165h66v28h-66zM1359 2165h33v28h-33zM1425 2165h33v28h-33zM1657 2165h33v28h-33zM1789 2165h166v28h-166zM631 2193h33v28h-33zM697 2193h33v28h-33zM1492 2193h33v28h-33zM1657 2193h33v28h-33zM1756 2193h166v28h-166zM1955 2193h33v28h-33zM1789 2221h34v28h-34zM1856 2221h99v28h-99zM598 2249h33v29h-33zM730 2249h66v29h-66zM929 2249h33v29h-33zM1624 2249h33v29h-33zM1789 2249h34v29h-34zM598 2278h66v28h-66zM1227 2278h33v28h-33zM1591 2278h33v28h-33zM1889 2278h33v28h-33zM1789 2306h34v28h-34zM1889 2306h66v28h-66zM1723 2334h66v28h-66zM1922 2334h33v28h-33zM465 2446h34v29h-34zM532 2446h33v29h-33zM432 2503h33v28h-33zM432 2559h67v28h-67zM565 2615h33v28h-33zM432 2643h33v28h-33zM399 2700h33v28h-33zM333 2728h33v28h-33zM399 2728h33v28h-33zM300 2756h33v28h-33zM465 2756h34v28h-34zM1392 2756h33v28h-33zM399 2784h33v28h-33zM1756 2784h33v28h-33zM565 2812h33v28h-33zM532 2840h33v28h-33zM300 2868h33v29h-33zM532 2868h33v29h-33zM1127 2897h34v28h-34z"/><path fill="#fbfbff" d="M333 2137h66v28h-66zM896 2165h33v28h-33zM1028 2165h33v28h-33zM1227 2165h66v28h-66zM532 2193h33v28h-33zM664 2193h33v28h-33zM730 2193h33v28h-33zM1392 2193h33v28h-33zM631 2221h33v28h-33zM929 2221h33v28h-33zM1458 2221h67v28h-67zM1458 2249h34v29h-34zM1525 2249h33v29h-33zM532 2278h33v28h-33zM796 2278h34v28h-34zM796 2306h34v28h-34zM432 2334h33v28h-33zM1293 2334h33v28h-33zM432 2390h33v28h-33zM465 2418h34v28h-34zM432 2446h33v29h-33zM1789 2475h34v28h-34zM499 2559h33v28h-33zM499 2587h33v28h-33zM1756 2587h33v28h-33zM532 2671h33v29h-33zM432 2700h33v28h-33zM432 2728h33v28h-33zM1194 2868h33v29h-33zM432 2897h33v28h-33zM499 2897h33v28h-33zM432 2925h67v28h-67zM432 2953h33v28h-33zM499 2953h66v28h-66z"/><path fill="#fffcfc" d="M432 2137h100v28h-100zM830 2137h33v28h-33zM1392 2137h33v28h-33zM1624 2137h33v28h-33zM1690 2165h33v28h-33zM995 2193h33v28h-33zM1690 2193h33v28h-33zM1723 2221h33v28h-33zM499 2249h33v29h-33zM333 2306h66v28h-66zM763 2306h33v28h-33zM300 2334h66v28h-66zM399 2362h33v28h-33zM565 2475h33v28h-33zM1789 2531h34v28h-34zM300 2615h33v28h-33zM366 2643h33v28h-33zM1061 2671h33v29h-33zM366 2812h33v28h-33zM1789 2925h34v28h-34zM1789 2953h34v28h-34z"/><path fill="#fdfdff" d="M532 2137h33v28h-33zM929 2137h33v28h-33zM1756 2137h33v28h-33zM598 2165h33v28h-33zM730 2165h33v28h-33zM796 2165h34v28h-34zM863 2165h33v28h-33zM929 2165h33v28h-33zM1756 2165h33v28h-33zM1955 2165h33v28h-33zM1194 2193h33v28h-33zM1359 2193h33v28h-33zM1922 2193h33v28h-33zM730 2221h33v28h-33zM1061 2221h33v28h-33zM432 2249h33v29h-33zM796 2249h34v29h-34zM399 2278h33v28h-33zM565 2278h33v28h-33zM1094 2278h33v28h-33zM399 2306h33v28h-33zM1061 2306h33v28h-33zM432 2362h33v28h-33zM399 2475h66v28h-66zM399 2503h33v28h-33zM499 2615h33v28h-33zM432 2671h33v29h-33zM1756 2671h33v29h-33zM300 2700h33v28h-33zM532 2700h33v28h-33zM300 2728h33v28h-33zM465 2728h34v28h-34zM1227 2728h33v28h-33zM432 2756h33v28h-33zM1756 2756h33v28h-33zM300 2840h33v28h-33zM432 2840h33v28h-33zM432 2868h33v29h-33zM399 2897h33v28h-33zM465 2897h34v28h-34zM565 2897h33v28h-33zM399 2925h33v28h-33zM399 2953h33v28h-33z"/><path fill="#f8f8ff" d="M565 2137h33v28h-33zM664 2221h33v28h-33zM1525 2221h33v28h-33zM631 2249h33v29h-33zM1127 2249h34v29h-34zM830 2278h33v28h-33zM1392 2278h33v28h-33zM830 2306h66v28h-66zM1756 2559h33v28h-33zM532 2615h33v28h-33zM532 2643h33v28h-33zM1227 2700h33v28h-33zM532 2784h33v28h-33zM1194 2812h33v28h-33zM1756 2953h33v28h-33z"/><path fill="#fafaff" d="M598 2137h33v28h-33zM1293 2137h33v28h-33zM565 2165h33v28h-33zM631 2165h33v28h-33zM1127 2165h34v28h-34zM1293 2165h33v28h-33zM796 2193h34v28h-34zM863 2193h33v28h-33zM1260 2193h33v28h-33zM763 2221h67v28h-67zM1425 2249h33v29h-33zM1492 2249h33v29h-33zM465 2278h34v28h-34zM697 2278h33v28h-33zM1458 2278h34v28h-34zM664 2306h33v28h-33zM465 2334h34v28h-34zM1657 2334h33v28h-33zM465 2390h34v28h-34zM499 2446h33v29h-33zM532 2475h33v28h-33zM499 2531h33v28h-33zM1326 2559h33v28h-33zM1260 2587h33v28h-33zM1756 2615h33v28h-33zM465 2671h34v29h-34zM465 2700h67v28h-67zM465 2784h34v28h-34zM1194 2840h33v28h-33zM1756 2840h33v28h-33zM1756 2868h33v29h-33zM499 2925h33v28h-33z"/><path fill="#f5f5ff" d="M631 2137h66v28h-66zM1094 2137h33v28h-33zM1161 2165h33v28h-33zM1591 2165h33v28h-33zM1260 2221h33v28h-33zM1392 2221h33v28h-33zM1624 2221h33v28h-33zM1326 2249h66v29h-66zM1127 2278h34v28h-34zM1293 2278h99v28h-99zM565 2306h33v28h-33zM1194 2306h33v28h-33zM1458 2306h34v28h-34zM499 2418h33v28h-33zM1789 2418h34v28h-34zM1756 2531h33v28h-33zM1359 2615h33v28h-33zM499 2784h33v28h-33zM1723 2784h33v28h-33z"/><path fill="#fffefe" d="M697 2137h33v28h-33zM896 2137h33v28h-33zM1591 2137h33v28h-33zM1657 2137h33v28h-33zM300 2165h33v28h-33zM432 2165h33v28h-33zM830 2165h33v28h-33zM1723 2165h33v28h-33zM333 2193h33v28h-33zM565 2193h33v28h-33zM929 2193h33v28h-33zM465 2221h34v28h-34zM366 2249h33v29h-33zM399 2334h33v28h-33zM1789 2334h34v28h-34zM1889 2334h33v28h-33zM300 2362h33v28h-33zM333 2390h66v28h-66zM300 2418h33v28h-33zM366 2418h33v28h-33zM333 2446h33v29h-33zM333 2531h33v28h-33zM333 2559h99v28h-99zM366 2587h33v28h-33zM1326 2587h33v28h-33zM1260 2615h33v28h-33zM366 2671h66v29h-66zM532 2756h33v28h-33zM333 2784h66v28h-66zM333 2840h33v28h-33zM465 2840h67v28h-67zM366 2868h33v29h-33zM366 2925h33v28h-33zM333 2953h33v28h-33z"/><path fill="#fff9f9" d="M730 2137h33v28h-33zM1425 2137h33v28h-33zM598 2221h33v28h-33zM1028 2221h33v28h-33zM1094 2221h67v28h-67zM1723 2278h33v28h-33zM929 2306h33v28h-33zM697 2334h33v28h-33zM1922 2362h66v28h-66zM1823 2418h33v28h-33zM1789 2587h34v28h-34zM1789 2756h34v28h-34zM565 2784h33v28h-33zM1789 2812h34v28h-34zM1789 2868h34v29h-34zM1194 2897h33v28h-33z"/><path fill="#fffbfb" d="M763 2137h67v28h-67zM1061 2137h33v28h-33zM1458 2137h34v28h-34zM962 2165h33v28h-33zM300 2193h33v28h-33zM1028 2193h33v28h-33zM962 2221h33v28h-33zM300 2249h33v29h-33zM1723 2249h33v29h-33zM631 2306h33v28h-33zM730 2306h33v28h-33zM1227 2306h33v28h-33zM1657 2306h33v28h-33zM1723 2306h33v28h-33zM366 2334h33v28h-33zM366 2362h33v28h-33zM565 2531h33v28h-33zM565 2559h33v28h-33zM1789 2559h34v28h-34zM333 2615h33v28h-33zM565 2700h33v28h-33zM1789 2728h34v28h-34zM366 2840h33v28h-33zM499 2868h33v29h-33zM1789 2897h34v28h-34zM1194 2925h33v28h-33z"/><path fill="#fff8f8" d="M995 2137h33v28h-33zM598 2193h33v28h-33zM962 2193h33v28h-33zM1657 2249h33v29h-33zM929 2278h33v28h-33zM1690 2278h33v28h-33zM1789 2362h34v28h-34zM565 2418h33v28h-33zM1823 2503h33v28h-33zM1359 2643h33v28h-33zM1789 2643h34v28h-34zM1789 2700h34v28h-34zM598 2812h33v28h-33zM598 2953h33v28h-33z"/><path fill="#fff6f6" d="M1028 2137h33v28h-33zM1127 2193h34v28h-34zM1657 2278h33v28h-33zM631 2334h33v28h-33zM1889 2362h33v28h-33zM1823 2531h33v28h-33zM1789 2671h34v29h-34zM1789 2784h34v28h-34zM1094 2840h33v28h-33zM598 2897h33v28h-33z"/><path fill="#efefff" d="M1127 2137h34v28h-34zM1756 2475h33v28h-33zM1260 2559h33v28h-33zM1161 2897h33v28h-33z"/><path fill="#f7f7ff" d="M1161 2137h33v28h-33zM1326 2137h33v28h-33zM1194 2165h33v28h-33zM896 2193h33v28h-33zM664 2249h33v29h-33zM1392 2249h33v29h-33zM863 2278h66v28h-66zM1194 2278h33v28h-33zM1260 2278h33v28h-33zM432 2306h33v28h-33zM565 2362h33v28h-33zM532 2418h33v28h-33zM532 2559h33v28h-33zM1756 2897h33v28h-33zM1756 2925h33v28h-33z"/><path fill="#f9f9ff" d="M1194 2137h33v28h-33zM1359 2137h33v28h-33zM1558 2165h33v28h-33zM1624 2165h33v28h-33zM763 2193h33v28h-33zM1293 2193h33v28h-33zM1425 2193h67v28h-67zM1161 2221h33v28h-33zM1326 2221h33v28h-33zM1425 2221h33v28h-33zM697 2249h33v29h-33zM863 2249h33v29h-33zM432 2278h33v28h-33zM499 2278h33v28h-33zM664 2278h33v28h-33zM1425 2278h33v28h-33zM896 2306h33v28h-33zM1326 2306h33v28h-33zM1624 2306h33v28h-33zM432 2418h33v28h-33zM499 2643h33v28h-33zM465 2812h34v28h-34z"/><path fill="#fcfcff" d="M1260 2137h33v28h-33zM1789 2137h34v28h-34zM532 2165h33v28h-33zM664 2165h33v28h-33zM763 2165h33v28h-33zM995 2165h33v28h-33zM1061 2165h33v28h-33zM1326 2165h33v28h-33zM1458 2165h34v28h-34zM1161 2193h33v28h-33zM1326 2193h33v28h-33zM1525 2193h33v28h-33zM697 2221h33v28h-33zM863 2221h33v28h-33zM1293 2221h33v28h-33zM830 2249h33v29h-33zM697 2306h33v28h-33zM1260 2334h33v28h-33zM1690 2334h33v28h-33zM465 2362h34v28h-34zM1756 2362h33v28h-33zM399 2418h33v28h-33zM399 2446h33v29h-33zM499 2475h33v28h-33zM499 2503h33v28h-33zM1028 2503h33v28h-33zM465 2643h34v28h-34zM1756 2643h33v28h-33zM1756 2700h33v28h-33zM1756 2728h33v28h-33zM432 2784h33v28h-33zM432 2812h33v28h-33zM1756 2812h33v28h-33zM1127 2925h34v28h-34zM465 2953h34v28h-34zM565 2953h33v28h-33z"/><path fill="#fffdfd" d="M1492 2137h33v28h-33zM465 2165h67v28h-67zM697 2165h33v28h-33zM465 2193h67v28h-67zM1061 2193h33v28h-33zM1723 2193h33v28h-33zM333 2221h33v28h-33zM499 2221h33v28h-33zM1657 2221h66v28h-66zM333 2249h33v29h-33zM300 2278h99v28h-99zM1492 2278h33v28h-33zM1558 2278h33v28h-33zM1756 2278h33v28h-33zM300 2306h33v28h-33zM598 2306h33v28h-33zM1293 2306h33v28h-33zM1492 2306h33v28h-33zM1558 2306h33v28h-33zM1823 2334h66v28h-66zM565 2390h33v28h-33zM333 2418h33v28h-33zM1823 2446h33v29h-33zM465 2475h34v28h-34zM465 2503h34v28h-34zM565 2503h33v28h-33zM366 2531h66v28h-66zM300 2587h66v28h-66zM565 2587h33v28h-33zM366 2615h33v28h-33zM300 2643h33v28h-33zM333 2671h33v29h-33zM333 2812h33v28h-33zM399 2840h33v28h-33zM565 2840h33v28h-33zM465 2868h34v29h-34zM598 2925h33v28h-33zM366 2953h33v28h-33z"/><path fill="#fff3f3" d="M1094 2193h33v28h-33zM565 2221h33v28h-33zM730 2334h33v28h-33zM1823 2362h33v28h-33zM1856 2418h33v28h-33zM1889 2475h33v28h-33zM1856 2531h33v28h-33zM631 2812h33v28h-33zM1823 2812h33v28h-33zM1823 2868h33v29h-33zM1094 2953h33v28h-33z"/><path fill="#f0f0ff" d="M1558 2193h33v28h-33zM532 2390h33v28h-33zM1756 2390h33v28h-33zM1293 2531h33v28h-33zM1723 2728h33v28h-33zM1161 2925h33v28h-33z"/><path fill="#e8e8ff" d="M1591 2193h33v28h-33zM1161 2306h33v28h-33zM1326 2531h33v28h-33zM1194 2756h33v28h-33zM1690 2784h33v28h-33zM1127 2812h34v28h-34zM1425 2840h33v28h-33zM1425 2953h33v28h-33z"/><path fill="#f4f4ff" d="M1624 2193h33v28h-33zM1359 2221h33v28h-33zM896 2249h33v29h-33zM1227 2249h66v29h-66zM1591 2249h33v29h-33zM1094 2306h33v28h-33zM1392 2306h33v28h-33zM499 2334h33v28h-33zM1756 2503h33v28h-33zM1723 2671h33v29h-33zM1392 2728h33v28h-33zM499 2812h33v28h-33z"/><path fill="#fffafa" d="M300 2221h33v28h-33zM532 2221h33v28h-33zM1061 2249h33v29h-33zM1690 2249h33v29h-33zM1061 2278h33v28h-33zM1624 2278h33v28h-33zM1260 2306h33v28h-33zM1690 2306h33v28h-33zM598 2334h33v28h-33zM664 2334h33v28h-33zM1823 2475h33v28h-33zM1293 2559h33v28h-33zM1789 2615h34v28h-34zM333 2643h33v28h-33zM565 2671h33v29h-33zM1789 2840h34v28h-34zM565 2868h33v29h-33z"/><path fill="#f3f3ff" d="M896 2221h33v28h-33zM1227 2221h33v28h-33zM499 2306h33v28h-33zM1359 2306h33v28h-33zM1591 2306h33v28h-33zM1227 2334h33v28h-33zM1789 2446h34v29h-34zM532 2503h33v28h-33zM1723 2700h33v28h-33z"/><path fill="#fff5f5" d="M995 2221h33v28h-33zM532 2249h66v29h-66zM565 2446h33v29h-33zM1922 2446h33v29h-33zM1856 2475h33v28h-33zM1823 2559h33v28h-33zM1326 2615h33v28h-33zM1823 2728h33v28h-33zM1823 2953h33v28h-33z"/><path fill="#f2f2ff" d="M1194 2221h33v28h-33zM532 2306h33v28h-33zM565 2334h33v28h-33zM1061 2643h33v28h-33zM1723 2643h33v28h-33zM1227 2671h33v29h-33zM1723 2756h33v28h-33zM1194 2784h33v28h-33z"/><path fill="#eef" d="M1558 2221h33v28h-33zM1194 2249h33v29h-33zM532 2334h33v28h-33zM1326 2334h33v28h-33zM1392 2700h33v28h-33zM1723 2840h33v28h-33zM1425 2897h33v28h-33z"/><path fill="#e6e6ff" d="M1591 2221h33v28h-33zM1690 2812h33v28h-33z"/><path fill="#fff7f7" d="M962 2249h33v29h-33zM1525 2278h33v28h-33zM1028 2306h33v28h-33zM1789 2390h34v28h-34zM1856 2446h66v29h-66zM1260 2643h33v28h-33zM565 2728h33v28h-33z"/><path fill="#ffefef" d="M995 2249h33v29h-33zM830 2334h33v28h-33zM896 2334h33v28h-33zM1955 2390h33v28h-33zM1955 2475h33v28h-33zM1922 2503h33v28h-33zM598 2671h33v29h-33zM1359 2671h33v29h-33zM1823 2671h66v29h-66zM1889 2700h33v28h-33zM1889 2756h33v28h-33zM1889 2784h33v28h-33zM1392 2812h33v28h-33zM1392 2840h33v28h-33zM1889 2840h33v28h-33zM1392 2868h33v29h-33zM1922 2868h33v29h-33zM1889 2897h66v28h-66zM631 2925h33v28h-33zM1922 2925h33v28h-33zM1955 2953h33v28h-33z"/><path fill="#fff4f4" d="M1028 2249h33v29h-33zM962 2306h33v28h-33zM598 2362h33v28h-33zM1856 2362h33v28h-33zM1889 2418h66v28h-66zM598 2643h33v28h-33zM565 2756h33v28h-33zM1227 2756h33v28h-33zM1823 2756h33v28h-33zM1392 2784h33v28h-33zM598 2840h33v28h-33zM1823 2840h33v28h-33zM1823 2897h33v28h-33zM1823 2925h33v28h-33z"/><path fill="#ededff" d="M1161 2249h33v29h-33zM995 2334h33v28h-33zM1723 2362h33v28h-33zM1723 2615h33v28h-33zM1127 2868h34v29h-34zM1723 2868h33v29h-33z"/><path fill="#f6f6ff" d="M1293 2249h33v29h-33zM1558 2249h33v29h-33zM465 2306h34v28h-34zM1425 2306h33v28h-33zM532 2531h33v28h-33zM532 2587h33v28h-33zM499 2671h33v29h-33zM532 2812h33v28h-33zM532 2897h33v28h-33zM532 2925h66v28h-66zM1194 2953h33v28h-33z"/><path fill="#ffecec" d="M962 2278h33v28h-33zM1955 2503h33v28h-33zM598 2531h33v28h-33zM1889 2587h99v28h-99zM1922 2615h66v28h-66zM1260 2671h33v29h-33zM1922 2671h33v29h-33zM598 2700h33v28h-33zM1922 2700h33v28h-33zM598 2784h33v28h-33zM1955 2868h33v29h-33z"/><path fill="#ffe6e6" d="M995 2278h33v28h-33zM697 2362h33v28h-33zM631 2615h33v28h-33zM631 2671h33v29h-33zM1359 2728h33v28h-33zM1955 2784h33v28h-33zM664 2868h33v29h-33zM664 2953h33v28h-33z"/><path fill="#fff2f2" d="M1028 2278h33v28h-33zM1525 2306h33v28h-33zM631 2362h33v28h-33zM1955 2418h33v28h-33zM1955 2446h33v29h-33zM1856 2503h33v28h-33zM1856 2559h33v28h-33zM1823 2587h33v28h-33zM1823 2615h33v28h-33zM1823 2643h33v28h-33zM1823 2784h33v28h-33zM1392 2925h33v28h-33zM1392 2953h33v28h-33z"/><path fill="#ececff" d="M1161 2278h33v28h-33zM1127 2306h34v28h-34zM1028 2475h33v28h-33zM1723 2587h33v28h-33zM1723 2897h33v28h-33zM1425 2925h33v28h-33zM1723 2925h33v28h-33z"/><path fill="#fff1f1" d="M995 2306h33v28h-33zM763 2334h67v28h-67zM1922 2475h33v28h-33zM1028 2531h33v28h-33zM1889 2531h33v28h-33zM1293 2587h33v28h-33zM598 2615h33v28h-33zM1823 2700h33v28h-33zM1856 2728h33v28h-33zM1856 2756h33v28h-33zM1856 2812h33v28h-33zM1856 2840h33v28h-33zM598 2868h33v29h-33zM1392 2897h33v28h-33zM631 2953h33v28h-33zM1856 2953h33v28h-33z"/><path fill="#fee" d="M863 2334h33v28h-33zM929 2334h33v28h-33zM598 2390h33v28h-33zM1922 2390h33v28h-33zM598 2475h33v28h-33zM1922 2531h33v28h-33zM1889 2728h33v28h-33zM1889 2812h33v28h-33zM1955 2897h33v28h-33zM1955 2925h33v28h-33z"/><path fill="#e0e0ff" d="M1028 2334h33v28h-33zM1723 2475h33v28h-33zM1227 2615h33v28h-33zM1690 2700h33v28h-33zM1094 2728h33v28h-33zM1161 2840h33v28h-33zM1690 2840h33v28h-33z"/><path fill="#c8c8ff" d="M1061 2334h33v28h-33zM1690 2475h33v28h-33zM1657 2925h33v28h-33z"/><path fill="#c0c0ff" d="M1094 2334h33v28h-33zM1657 2953h33v28h-33z"/><path fill="#bfbfff" d="M1127 2334h34v28h-34zM1657 2587h33v28h-33z"/><path fill="#c2c2ff" d="M1161 2334h33v28h-33zM1194 2643h33v28h-33zM1458 2868h34v29h-34z"/><path fill="#dadaff" d="M1194 2334h33v28h-33z"/><path fill="#e1e1ff" d="M1359 2334h33v28h-33zM1425 2334h33v28h-33zM1690 2643h33v28h-33zM1690 2756h33v28h-33z"/><path fill="#dfdfff" d="M1392 2334h33v28h-33zM1260 2531h33v28h-33zM1690 2897h33v28h-33z"/><path fill="#dcdcff" d="M1458 2334h34v28h-34zM1690 2728h33v28h-33zM1690 2925h33v28h-33zM1161 2953h33v28h-33z"/><path fill="#e2e2ff" d="M1492 2334h33v28h-33zM1756 2418h33v28h-33zM1690 2671h33v29h-33z"/><path fill="#ebebff" d="M1525 2334h33v28h-33zM1624 2334h33v28h-33zM1392 2671h33v29h-33zM1425 2868h33v29h-33zM1723 2953h33v28h-33z"/><path fill="#e5e5ff" d="M1558 2334h33v28h-33zM1723 2503h33v28h-33zM1425 2784h33v28h-33z"/><path fill="#dedeff" d="M1591 2334h33v28h-33zM1161 2812h33v28h-33zM1161 2868h33v29h-33zM1690 2868h33v29h-33z"/><path fill="#f1f1ff" d="M499 2362h33v28h-33zM499 2390h33v28h-33zM1094 2784h33v28h-33zM1723 2812h33v28h-33z"/><path fill="#eaeaff" d="M532 2362h33v28h-33zM1723 2559h33v28h-33z"/><path fill="#fff0f0" d="M664 2362h33v28h-33zM1889 2503h33v28h-33zM1889 2559h33v28h-33zM1856 2643h66v28h-66zM1889 2671h33v29h-33zM1856 2700h33v28h-33zM1856 2784h33v28h-33zM631 2840h33v28h-33zM1856 2868h66v29h-66zM1856 2897h33v28h-33zM1856 2925h66v28h-66zM1889 2953h66v28h-66z"/><path fill="#ffd9d9" d="M730 2362h33v28h-33zM664 2475h33v28h-33zM1326 2671h33v29h-33zM1260 2756h33v28h-33z"/><path fill="#ffcece" d="M763 2362h33v28h-33z"/><path fill="#ffc2c2" d="M796 2362h34v28h-34zM730 2700h33v28h-33zM730 2728h33v28h-33zM1260 2868h33v29h-33z"/><path fill="#ffb5b5" d="M830 2362h33v28h-33zM730 2531h33v28h-33zM763 2953h33v28h-33z"/><path fill="#ffaeae" d="M863 2362h33v28h-33zM730 2475h33v28h-33zM763 2925h33v28h-33z"/><path fill="#ffb0b0" d="M896 2362h33v28h-33zM763 2840h33v28h-33z"/><path fill="#ffbebe" d="M929 2362h33v28h-33zM1028 2643h33v28h-33z"/><path fill="#ffeded" d="M962 2362h33v28h-33zM1922 2559h33v28h-33zM1856 2587h33v28h-33zM1856 2615h66v28h-66zM1922 2643h33v28h-33zM1061 2700h33v28h-33zM1922 2728h33v28h-33zM1922 2756h33v28h-33zM631 2868h33v29h-33z"/><path fill="#c9c9ff" d="M995 2362h33v28h-33zM1657 2643h33v28h-33zM1458 2925h34v28h-34z"/><path fill="#88f" d="M1028 2362h33v28h-33zM1194 2531h33v28h-33z"/><path fill="#4949ff" d="M1061 2362h33v28h-33zM1359 2390h33v28h-33z"/><path fill="#3030ff" d="M1094 2362h33v28h-33zM1061 2418h33v28h-33zM1525 2475h33v28h-33z"/><path fill="#2f2fff" d="M1127 2362h34v28h-34zM1194 2446h33v29h-33zM1127 2503h34v28h-34z"/><path fill="#3f3fff" d="M1161 2362h33v28h-33zM1558 2475h33v28h-33z"/><path fill="#7373ff" d="M1194 2362h33v28h-33zM1657 2418h33v28h-33z"/><path fill="#a1a1ff" d="M1227 2362h33v28h-33z"/><path fill="#b5b5ff" d="M1260 2362h33v28h-33zM1458 2756h34v28h-34z"/><path fill="#bebeff" d="M1293 2362h33v28h-33zM1227 2531h33v28h-33z"/><path fill="#afafff" d="M1326 2362h33v28h-33zM1392 2531h33v28h-33zM1094 2615h33v28h-33z"/><path fill="#9a9aff" d="M1359 2362h33v28h-33zM1591 2812h33v28h-33zM1492 2840h33v28h-33z"/><path fill="#8f8fff" d="M1392 2362h33v28h-33zM1525 2728h33v28h-33zM1525 2868h33v29h-33z"/><path fill="#8686ff" d="M1425 2362h33v28h-33zM1293 2418h33v28h-33zM1227 2475h33v28h-33zM1094 2559h33v28h-33z"/><path fill="#7d7dff" d="M1458 2362h34v28h-34z"/><path fill="#7878ff" d="M1492 2362h33v28h-33zM1061 2475h33v28h-33z"/><path fill="#7c7cff" d="M1525 2362h33v28h-33zM1127 2587h34v28h-34z"/><path fill="#8d8dff" d="M1558 2362h33v28h-33zM1359 2446h33v29h-33zM1558 2868h33v29h-33z"/><path fill="#a2a2ff" d="M1591 2362h33v28h-33zM1458 2671h34v29h-34zM1492 2812h33v28h-33zM1525 2953h33v28h-33z"/><path fill="#bcbcff" d="M1624 2362h33v28h-33zM1657 2559h33v28h-33z"/><path fill="#ccf" d="M1657 2362h33v28h-33zM1723 2418h33v28h-33z"/><path fill="#d9d9ff" d="M1690 2362h33v28h-33zM1227 2587h33v28h-33zM1690 2615h33v28h-33zM1194 2700h33v28h-33z"/><path fill="#ffeaea" d="M631 2390h33v28h-33zM1823 2390h33v28h-33zM1889 2390h33v28h-33zM631 2643h33v28h-33zM1955 2756h33v28h-33zM664 2812h33v28h-33zM664 2840h33v28h-33zM1094 2868h33v29h-33zM631 2897h33v28h-33z"/><path fill="#ffe0e0" d="M664 2390h33v28h-33zM664 2531h33v28h-33zM631 2587h33v28h-33zM664 2615h33v28h-33zM664 2671h33v29h-33z"/><path fill="#ffcdcd" d="M697 2390h33v28h-33zM1359 2897h33v28h-33z"/><path fill="#ffb6b6" d="M730 2390h33v28h-33zM730 2559h33v28h-33zM763 2812h33v28h-33zM1260 2925h33v28h-33z"/><path fill="#ffa1a1" d="M763 2390h33v28h-33zM763 2643h33v28h-33z"/><path fill="#ff8989" d="M796 2390h34v28h-34z"/><path fill="#ff7272" d="M830 2390h33v28h-33z"/><path fill="#ff6363" d="M863 2390h33v28h-33z"/><path fill="#ff6868" d="M896 2390h33v28h-33z"/><path fill="#ff7d7d" d="M929 2390h33v28h-33zM830 2812h33v28h-33zM830 2925h33v28h-33z"/><path fill="#ffb4b4" d="M962 2390h33v28h-33zM763 2784h33v28h-33zM1293 2868h33v29h-33zM1326 2897h33v28h-33z"/><path fill="#e4e4ff" d="M995 2390h33v28h-33zM1756 2446h33v29h-33zM1392 2643h33v28h-33z"/><path fill="#7171ff" d="M1028 2390h33v28h-33z"/><path fill="#0808ff" d="M1061 2390h33v28h-33zM1127 2475h34v28h-34z"/><path fill="#0000d7" d="M1094 2390h33v28h-33zM1127 2418h34v28h-34z"/><path fill="#0000c6" d="M1127 2390h34v28h-34z"/><path fill="#0000d0" d="M1161 2390h33v28h-33z"/><path fill="#0000fd" d="M1194 2390h33v28h-33zM1525 2390h33v28h-33z"/><path fill="#3232ff" d="M1227 2390h33v28h-33z"/><path fill="#5656ff" d="M1260 2390h33v28h-33zM1492 2531h33v28h-33z"/><path fill="#6f6fff" d="M1293 2390h33v28h-33zM1591 2531h33v28h-33zM1458 2559h34v28h-34z"/><path fill="#6464ff" d="M1326 2390h33v28h-33z"/><path fill="#2e2eff" d="M1392 2390h33v28h-33z"/><path fill="#1313ff" d="M1425 2390h33v28h-33zM1425 2418h33v28h-33z"/><path fill="#00f" d="M1458 2390h34v28h-34z"/><path fill="#0000f9" d="M1492 2390h33v28h-33zM1458 2418h34v28h-34z"/><path fill="#1717ff" d="M1558 2390h33v28h-33z"/><path fill="#3737ff" d="M1591 2390h33v28h-33zM1392 2418h33v28h-33zM1458 2475h34v28h-34z"/><path fill="#5a5aff" d="M1624 2390h33v28h-33zM1425 2475h33v28h-33z"/><path fill="#7979ff" d="M1657 2390h33v28h-33z"/><path fill="#a3a3ff" d="M1690 2390h33v28h-33zM1657 2475h33v28h-33zM1492 2784h33v28h-33z"/><path fill="#d1d1ff" d="M1723 2390h33v28h-33zM1194 2671h33v29h-33z"/><path fill="#ffe8e8" d="M1856 2390h33v28h-33zM598 2559h33v28h-33zM598 2587h33v28h-33zM1955 2643h33v28h-33zM1955 2728h33v28h-33zM1227 2784h33v28h-33z"/><path fill="#ffebeb" d="M598 2418h33v28h-33zM598 2446h33v29h-33zM598 2503h33v28h-33zM1293 2615h33v28h-33zM1359 2700h33v28h-33zM1922 2784h33v28h-33zM1922 2840h33v28h-33z"/><path fill="#ffe7e7" d="M631 2418h33v28h-33zM1955 2671h33v29h-33zM1955 2700h33v28h-33zM598 2728h33v28h-33zM631 2784h33v28h-33zM1955 2840h33v28h-33z"/><path fill="#ffdada" d="M664 2418h33v28h-33zM664 2446h33v29h-33zM1061 2784h33v28h-33zM697 2925h33v28h-33z"/><path fill="#ffc3c3" d="M697 2418h33v28h-33zM1061 2953h33v28h-33zM1260 2953h33v28h-33z"/><path fill="#ffa8a8" d="M730 2418h33v28h-33z"/><path fill="#ff8c8c" d="M763 2418h33v28h-33zM763 2446h33v29h-33z"/><path fill="#ff7171" d="M796 2418h34v28h-34zM995 2615h33v28h-33z"/><path fill="#ff5959" d="M830 2418h33v28h-33z"/><path fill="#ff4545" d="M863 2418h66v28h-66zM929 2446h33v29h-33zM896 2475h33v28h-33z"/><path fill="#ff4d4d" d="M929 2418h33v28h-33zM863 2728h33v28h-33z"/><path fill="#ff7a7a" d="M962 2418h33v28h-33zM830 2784h33v28h-33z"/><path fill="#ffd6d6" d="M995 2418h33v28h-33zM697 2643h33v28h-33zM697 2671h33v29h-33zM1293 2671h33v29h-33zM1359 2840h33v28h-33z"/><path fill="#a8a8ff" d="M1028 2418h33v28h-33zM1624 2671h33v29h-33z"/><path fill="#0000ec" d="M1094 2418h33v28h-33z"/><path fill="#00d" d="M1161 2418h33v28h-33z"/><path fill="#0505ff" d="M1194 2418h33v28h-33z"/><path fill="#3a3aff" d="M1227 2418h33v28h-33z"/><path fill="#6767ff" d="M1260 2418h33v28h-33zM1127 2559h34v28h-34z"/><path fill="#7f7fff" d="M1326 2418h33v28h-33zM1558 2615h33v28h-33z"/><path fill="#6060ff" d="M1359 2418h33v28h-33zM1591 2503h33v28h-33z"/><path fill="#0000f3" d="M1492 2418h33v28h-33z"/><path fill="#0000f8" d="M1525 2418h33v28h-33z"/><path fill="#0909ff" d="M1558 2418h33v28h-33z"/><path fill="#2020ff" d="M1591 2418h33v28h-33z"/><path fill="#4646ff" d="M1624 2418h33v28h-33z"/><path fill="#a4a4ff" d="M1690 2418h33v28h-33zM1359 2475h33v28h-33zM1227 2503h33v28h-33zM1624 2615h33v28h-33z"/><path fill="#ffe5e5" d="M631 2446h33v29h-33zM1260 2700h33v28h-33zM598 2756h33v28h-33z"/><path fill="#ffc4c4" d="M697 2446h33v29h-33zM1326 2784h33v28h-33zM730 2868h33v29h-33z"/><path fill="#faa" d="M730 2446h33v29h-33z"/><path fill="#ff7070" d="M796 2446h34v29h-34z"/><path fill="#ff5a5a" d="M830 2446h33v29h-33zM863 2840h33v28h-33z"/><path fill="#ff4646" d="M863 2446h33v29h-33zM863 2475h33v28h-33zM929 2475h33v28h-33z"/><path fill="#f44" d="M896 2446h33v29h-33zM896 2503h66v28h-66z"/><path fill="#ff6262" d="M962 2446h33v29h-33z"/><path fill="#ffb2b2" d="M995 2446h33v29h-33zM1326 2925h33v28h-33z"/><path fill="#cdcdff" d="M1028 2446h33v29h-33zM1326 2503h33v28h-33zM1657 2868h33v29h-33z"/><path fill="#5858ff" d="M1061 2446h33v29h-33z"/><path fill="#0f0fff" d="M1094 2446h33v29h-33z"/><path fill="#0000f5" d="M1127 2446h34v29h-34z"/><path fill="#0000fc" d="M1161 2446h33v29h-33z"/><path fill="#6a6aff" d="M1227 2446h33v29h-33z"/><path fill="#9292ff" d="M1260 2446h33v29h-33zM1061 2503h33v28h-33zM1161 2615h33v28h-33zM1492 2700h33v28h-33zM1558 2897h33v28h-33z"/><path fill="#a9a9ff" d="M1293 2446h33v29h-33zM1061 2531h33v28h-33z"/><path fill="#a5a5ff" d="M1326 2446h33v29h-33zM1127 2671h34v29h-34z"/><path fill="#6363ff" d="M1392 2446h33v29h-33zM1458 2531h34v28h-34zM1525 2559h33v28h-33z"/><path fill="#3b3bff" d="M1425 2446h33v29h-33z"/><path fill="#1a1aff" d="M1458 2446h34v29h-34zM1525 2446h33v29h-33z"/><path fill="#11f" d="M1492 2446h33v29h-33z"/><path fill="#2b2bff" d="M1558 2446h33v29h-33z"/><path fill="#3e3eff" d="M1591 2446h33v29h-33z"/><path fill="#5f5fff" d="M1624 2446h33v29h-33z"/><path fill="#8e8eff" d="M1657 2446h33v29h-33zM1127 2615h34v28h-34zM1591 2671h33v29h-33zM1558 2812h33v28h-33z"/><path fill="#babaff" d="M1690 2446h33v29h-33zM1359 2503h33v28h-33zM1392 2559h33v28h-33z"/><path fill="#d7d7ff" d="M1723 2446h33v29h-33z"/><path fill="#ffe3e3" d="M631 2475h33v28h-33zM1028 2559h33v28h-33zM1955 2812h33v28h-33z"/><path fill="#ffc6c6" d="M697 2475h33v28h-33zM1293 2728h33v28h-33zM730 2840h33v28h-33zM730 2897h33v28h-33z"/><path fill="#ff9191" d="M763 2475h33v28h-33zM1028 2784h33v28h-33z"/><path fill="#ff7575" d="M796 2475h34v28h-34z"/><path fill="#ff5d5d" d="M830 2475h33v28h-33zM830 2531h33v28h-33zM995 2728h33v28h-33z"/><path fill="#ff5e5e" d="M962 2475h33v28h-33z"/><path fill="#ffa0a0" d="M995 2475h33v28h-33z"/><path fill="#2a2aff" d="M1094 2475h33v28h-33z"/><path fill="#1c1cff" d="M1161 2475h33v28h-33z"/><path fill="#5252ff" d="M1194 2475h33v28h-33zM1127 2531h34v28h-34z"/><path fill="#aaf" d="M1260 2475h33v28h-33zM1624 2643h33v28h-33zM1624 2953h33v28h-33z"/><path fill="#bdbdff" d="M1293 2475h33v28h-33zM1161 2700h33v28h-33z"/><path fill="#b6b6ff" d="M1326 2475h33v28h-33zM1094 2643h33v28h-33zM1624 2812h33v28h-33zM1624 2897h33v28h-33z"/><path fill="#8282ff" d="M1392 2475h33v28h-33zM1525 2643h33v28h-33z"/><path fill="#2929ff" d="M1492 2475h33v28h-33z"/><path fill="#5050ff" d="M1591 2475h33v28h-33zM1458 2503h34v28h-34z"/><path fill="#7575ff" d="M1624 2475h33v28h-33zM1425 2503h33v28h-33z"/><path fill="#ffe2e2" d="M631 2503h33v28h-33zM631 2531h33v28h-33zM664 2643h33v28h-33zM631 2700h33v28h-33zM1061 2728h33v28h-33zM1359 2756h33v28h-33zM1094 2897h33v28h-33zM1227 2953h33v28h-33z"/><path fill="#fdd" d="M664 2503h33v28h-33zM664 2559h33v28h-33zM697 2784h33v28h-33zM664 2897h33v28h-33z"/><path fill="#ffcbcb" d="M697 2503h33v28h-33zM730 2784h33v28h-33z"/><path fill="#ffb3b3" d="M730 2503h33v28h-33z"/><path fill="#ff9696" d="M763 2503h33v28h-33zM763 2531h33v28h-33zM1028 2728h33v28h-33zM796 2756h34v28h-34zM796 2840h34v28h-34z"/><path fill="#ff7878" d="M796 2503h34v28h-34z"/><path fill="#ff6060" d="M830 2503h33v28h-33zM830 2587h33v28h-33z"/><path fill="#ff4a4a" d="M863 2503h33v28h-33z"/><path fill="#ff5b5b" d="M962 2503h33v28h-33zM830 2559h33v28h-33zM863 2925h33v28h-33z"/><path fill="#ff9898" d="M995 2503h33v28h-33zM796 2925h34v28h-34zM796 2953h34v28h-34z"/><path fill="#4e4eff" d="M1094 2503h33v28h-33z"/><path fill="#4141ff" d="M1161 2503h33v28h-33z"/><path fill="#7474ff" d="M1194 2503h33v28h-33z"/><path fill="#c4c4ff" d="M1260 2503h33v28h-33zM1657 2615h33v28h-33z"/><path fill="#d4d4ff" d="M1293 2503h33v28h-33zM1657 2784h33v28h-33zM1657 2812h33v28h-33z"/><path fill="#9c9cff" d="M1392 2503h33v28h-33zM1094 2587h33v28h-33z"/><path fill="#4040ff" d="M1492 2503h33v28h-33z"/><path fill="#4242ff" d="M1525 2503h33v28h-33z"/><path fill="#4c4cff" d="M1558 2503h33v28h-33z"/><path fill="#8787ff" d="M1624 2503h33v28h-33zM1591 2615h33v28h-33zM1558 2643h33v28h-33z"/><path fill="#aeaeff" d="M1657 2503h33v28h-33zM1458 2700h34v28h-34zM1624 2868h33v29h-33z"/><path fill="#ceceff" d="M1690 2503h33v28h-33zM1227 2559h33v28h-33zM1425 2700h33v28h-33zM1161 2756h33v28h-33zM1657 2756h33v28h-33z"/><path fill="#ffd1d1" d="M697 2531h33v28h-33zM1359 2868h33v29h-33zM1227 2897h33v28h-33zM1359 2953h33v28h-33z"/><path fill="#ff7676" d="M796 2531h34v28h-34zM796 2559h34v28h-34zM830 2868h33v29h-33zM1028 2953h33v28h-33z"/><path fill="#ff4747" d="M863 2531h33v28h-33z"/><path fill="#ff3b3b" d="M896 2531h33v28h-33zM896 2953h33v28h-33z"/><path fill="#ff3939" d="M929 2531h33v28h-33zM896 2728h33v28h-33zM995 2840h33v28h-33z"/><path fill="#ff5151" d="M962 2531h33v28h-33zM962 2559h33v28h-33zM962 2587h33v28h-33z"/><path fill="#ff9494" d="M995 2531h33v28h-33zM796 2897h34v28h-34z"/><path fill="#6c6cff" d="M1094 2531h33v28h-33z"/><path fill="#5757ff" d="M1161 2531h33v28h-33zM1558 2531h33v28h-33z"/><path fill="#d0d0ff" d="M1359 2531h33v28h-33zM1690 2531h33v28h-33zM1127 2756h34v28h-34z"/><path fill="#8989ff" d="M1425 2531h33v28h-33zM1492 2671h33v29h-33z"/><path fill="#55f" d="M1525 2531h33v28h-33z"/><path fill="#9696ff" d="M1624 2531h33v28h-33zM1591 2728h33v28h-33zM1525 2784h33v28h-33z"/><path fill="#b4b4ff" d="M1657 2531h33v28h-33zM1624 2784h33v28h-33z"/><path fill="#e7e7ff" d="M1723 2531h33v28h-33zM1359 2587h33v28h-33zM1227 2643h33v28h-33zM1127 2840h34v28h-34z"/><path fill="#ffe9e9" d="M1955 2531h33v28h-33zM1955 2559h33v28h-33zM1922 2812h33v28h-33z"/><path fill="#ffdede" d="M631 2559h33v28h-33zM1260 2728h33v28h-33zM697 2812h33v28h-33zM664 2925h33v28h-33z"/><path fill="#ffd0d0" d="M697 2559h33v28h-33zM697 2587h33v28h-33z"/><path fill="#ff9797" d="M763 2559h33v28h-33z"/><path fill="#ff3f3f" d="M863 2559h33v28h-33zM962 2700h33v28h-33zM995 2868h33v29h-33z"/><path fill="#ff2f2f" d="M896 2559h33v28h-33zM962 2756h33v28h-33z"/><path fill="#ff3131" d="M929 2559h33v28h-33zM896 2643h33v28h-33zM995 2925h33v28h-33z"/><path fill="#ff8f8f" d="M995 2559h33v28h-33z"/><path fill="#c3c3ff" d="M1061 2559h33v28h-33zM1392 2587h33v28h-33zM1657 2700h33v28h-33zM1458 2953h34v28h-34z"/><path fill="#6b6bff" d="M1161 2559h33v28h-33z"/><path fill="#9b9bff" d="M1194 2559h33v28h-33zM1492 2728h33v28h-33zM1591 2897h33v28h-33z"/><path fill="#ddf" d="M1359 2559h33v28h-33zM1194 2728h33v28h-33z"/><path fill="#9595ff" d="M1425 2559h33v28h-33zM1525 2812h33v28h-33z"/><path fill="#6262ff" d="M1492 2559h33v28h-33zM1558 2559h33v28h-33z"/><path fill="#77f" d="M1591 2559h33v28h-33zM1458 2587h34v28h-34zM1492 2615h33v28h-33z"/><path fill="#9e9eff" d="M1624 2559h33v28h-33zM1161 2643h33v28h-33z"/><path fill="#d3d3ff" d="M1690 2559h33v28h-33zM1425 2728h33v28h-33zM1161 2784h33v28h-33z"/><path fill="#ffdcdc" d="M664 2587h33v28h-33zM664 2700h33v28h-33zM664 2728h33v28h-33zM697 2840h33v28h-33z"/><path fill="#ffb7b7" d="M730 2587h33v28h-33zM1061 2840h33v28h-33zM1061 2868h33v29h-33z"/><path fill="#ff9b9b" d="M763 2587h33v28h-33z"/><path fill="#ff7c7c" d="M796 2587h34v28h-34zM1028 2897h33v28h-33z"/><path fill="#ff4343" d="M863 2587h33v28h-33z"/><path fill="#f33" d="M896 2587h33v28h-33zM896 2615h33v28h-33z"/><path fill="#ff3636" d="M929 2587h33v28h-33z"/><path fill="#ff8080" d="M995 2587h33v28h-33z"/><path fill="#ffd2d2" d="M1028 2587h33v28h-33zM1326 2700h33v28h-33zM1260 2784h33v28h-33z"/><path fill="#d5d5ff" d="M1061 2587h33v28h-33zM1690 2587h33v28h-33zM1392 2615h33v28h-33z"/><path fill="#8383ff" d="M1161 2587h33v28h-33zM1558 2700h33v28h-33z"/><path fill="#acacff" d="M1194 2587h33v28h-33z"/><path fill="#9d9dff" d="M1425 2587h33v28h-33zM1492 2756h33v28h-33zM1591 2953h33v28h-33z"/><path fill="#6969ff" d="M1492 2587h33v28h-33z"/><path fill="#6d6dff" d="M1525 2587h33v28h-33z"/><path fill="#7272ff" d="M1558 2587h33v28h-33z"/><path fill="#8080ff" d="M1591 2587h33v28h-33zM1525 2671h33v29h-33z"/><path fill="#a0a0ff" d="M1624 2587h33v28h-33zM1525 2925h33v28h-33zM1591 2925h33v28h-33z"/><path fill="#ffd4d4" d="M697 2615h33v28h-33zM1359 2812h33v28h-33zM1227 2925h33v28h-33z"/><path fill="#fbb" d="M730 2615h33v28h-33zM1326 2953h33v28h-33z"/><path fill="#ff9f9f" d="M763 2615h33v28h-33z"/><path fill="#ff8282" d="M796 2615h34v28h-34z"/><path fill="#ff6767" d="M830 2615h33v28h-33zM830 2643h33v28h-33zM995 2700h33v28h-33z"/><path fill="#ff4949" d="M863 2615h33v28h-33zM995 2812h33v28h-33z"/><path fill="#ff2c2c" d="M929 2615h33v28h-33z"/><path fill="#ff4040" d="M962 2615h33v28h-33z"/><path fill="#ffc1c1" d="M1028 2615h33v28h-33z"/><path fill="#e9e9ff" d="M1061 2615h33v28h-33zM1094 2756h33v28h-33zM1425 2812h33v28h-33zM1127 2953h34v28h-34z"/><path fill="#b8b8ff" d="M1194 2615h33v28h-33zM1127 2700h34v28h-34z"/><path fill="#ababff" d="M1425 2615h33v28h-33zM1492 2897h33v28h-33z"/><path fill="#8484ff" d="M1458 2615h34v28h-34zM1492 2643h33v28h-33zM1558 2671h33v29h-33zM1525 2700h33v28h-33z"/><path fill="#7a7aff" d="M1525 2615h33v28h-33z"/><path fill="#ffbcbc" d="M730 2643h33v28h-33z"/><path fill="#ff8484" d="M796 2643h34v28h-34zM796 2700h34v28h-34z"/><path fill="#ff4b4b" d="M863 2643h33v28h-33z"/><path fill="#f22" d="M929 2643h33v28h-33z"/><path fill="#ff3030" d="M962 2643h33v28h-33z"/><path fill="#ff6d6d" d="M995 2643h33v28h-33zM995 2671h33v29h-33zM830 2728h33v28h-33z"/><path fill="#9797ff" d="M1127 2643h34v28h-34zM1525 2897h33v28h-33z"/><path fill="#ffe1e1" d="M1293 2643h33v28h-33zM1061 2756h33v28h-33z"/><path fill="#ffe4e4" d="M1326 2643h33v28h-33zM664 2784h33v28h-33zM1094 2925h33v28h-33zM697 2953h33v28h-33z"/><path fill="#b9b9ff" d="M1425 2643h33v28h-33zM1458 2840h34v28h-34z"/><path fill="#9494ff" d="M1458 2643h34v28h-34zM1591 2756h33v28h-33zM1591 2784h33v28h-33zM1591 2840h33v28h-33z"/><path fill="#9090ff" d="M1591 2643h33v28h-33zM1525 2840h33v28h-33z"/><path fill="#ffc0c0" d="M730 2671h33v29h-33zM1293 2784h33v28h-33z"/><path fill="#ffa3a3" d="M763 2671h33v29h-33z"/><path fill="#ff8383" d="M796 2671h34v29h-34z"/><path fill="#ff6565" d="M830 2671h33v29h-33zM830 2700h33v28h-33z"/><path fill="#ff4f4f" d="M863 2671h33v29h-33zM863 2756h33v28h-33z"/><path fill="#ff3838" d="M896 2671h33v29h-33zM896 2812h33v28h-33z"/><path fill="#ff2525" d="M929 2671h33v29h-33z"/><path fill="#ff3434" d="M962 2671h33v29h-33z"/><path fill="#ffb1b1" d="M1028 2671h33v29h-33zM763 2756h33v28h-33zM1293 2953h33v28h-33z"/><path fill="#c1c1ff" d="M1094 2671h33v29h-33z"/><path fill="#b2b2ff" d="M1161 2671h33v29h-33z"/><path fill="#c6c6ff" d="M1425 2671h33v29h-33zM1161 2728h33v28h-33z"/><path fill="#c5c5ff" d="M1657 2671h33v29h-33z"/><path fill="#ffd3d3" d="M697 2700h33v28h-33zM697 2728h33v28h-33zM730 2953h33v28h-33z"/><path fill="#ffa5a5" d="M763 2700h33v28h-33z"/><path fill="#ff5050" d="M863 2700h33v28h-33z"/><path fill="#ff3e3e" d="M896 2700h33v28h-33z"/><path fill="#ff2b2b" d="M929 2700h33v28h-33z"/><path fill="#ff9e9e" d="M1028 2700h33v28h-33z"/><path fill="#d2d2ff" d="M1094 2700h33v28h-33z"/><path fill="#fcc" d="M1293 2700h33v28h-33zM1326 2728h33v28h-33zM1326 2756h33v28h-33z"/><path fill="#8c8cff" d="M1591 2700h33v28h-33zM1558 2840h33v28h-33z"/><path fill="#a6a6ff" d="M1624 2700h33v28h-33z"/><path fill="#ffdfdf" d="M631 2728h33v28h-33zM631 2756h66v28h-66zM1227 2812h33v28h-33z"/><path fill="#ffabab" d="M763 2728h33v28h-33z"/><path fill="#ff8e8e" d="M796 2728h34v28h-34z"/><path fill="#ff2929" d="M929 2728h33v28h-33zM962 2897h33v28h-33z"/><path fill="#ff3d3d" d="M962 2728h33v28h-33zM896 2925h33v28h-33z"/><path fill="#c7c7ff" d="M1127 2728h34v28h-34zM1657 2728h33v28h-33z"/><path fill="#b3b3ff" d="M1458 2728h34v28h-34zM1624 2925h33v28h-33z"/><path fill="#8b8bff" d="M1558 2728h33v28h-33zM1558 2756h33v28h-33zM1558 2784h33v28h-33z"/><path fill="#b0b0ff" d="M1624 2728h33v28h-33zM1624 2840h33v28h-33z"/><path fill="#ffd8d8" d="M697 2756h33v28h-33zM697 2868h33v29h-33zM1227 2868h33v29h-33zM697 2897h33v28h-33z"/><path fill="#ffc9c9" d="M730 2756h33v28h-33zM730 2925h33v28h-33z"/><path fill="#ff7474" d="M830 2756h33v28h-33z"/><path fill="#ff3232" d="M896 2756h33v28h-33zM896 2784h33v28h-33z"/><path fill="#ff1e1e" d="M929 2756h33v28h-33z"/><path fill="#ff5858" d="M995 2756h33v28h-33zM995 2784h33v28h-33zM863 2897h33v28h-33z"/><path fill="#f99" d="M1028 2756h33v28h-33zM796 2784h34v28h-34z"/><path fill="#ffc5c5" d="M1293 2756h33v28h-33z"/><path fill="#dbdbff" d="M1425 2756h33v28h-33zM1127 2784h34v28h-34z"/><path fill="#9393ff" d="M1525 2756h33v28h-33z"/><path fill="#b1b1ff" d="M1624 2756h33v28h-33zM1492 2925h33v28h-33z"/><path fill="#f55" d="M863 2784h33v28h-33z"/><path fill="#ff1b1b" d="M929 2784h33v28h-33zM929 2840h33v28h-33zM962 2925h33v28h-33z"/><path fill="#ff2d2d" d="M962 2784h33v28h-33z"/><path fill="#ffd7d7" d="M1359 2784h33v28h-33z"/><path fill="#bbf" d="M1458 2784h34v28h-34zM1458 2812h34v28h-34z"/><path fill="#ffcaca" d="M730 2812h33v28h-33zM1260 2812h33v28h-33z"/><path fill="#ff9a9a" d="M796 2812h34v28h-34z"/><path fill="#ff5c5c" d="M863 2812h33v28h-33z"/><path fill="#ff1c1c" d="M929 2812h33v28h-33z"/><path fill="#ff2424" d="M962 2812h33v28h-33zM929 2925h33v28h-33z"/><path fill="#ff7b7b" d="M1028 2812h33v28h-33z"/><path fill="#ffc7c7" d="M1061 2812h33v28h-33zM1260 2840h33v28h-33z"/><path fill="#ffb9b9" d="M1293 2812h33v28h-33z"/><path fill="#ffbdbd" d="M1326 2812h33v28h-33z"/><path fill="#ff7979" d="M830 2840h33v28h-33zM830 2897h33v28h-33zM1028 2925h33v28h-33zM830 2953h33v28h-33z"/><path fill="#ff3a3a" d="M896 2840h33v28h-33zM896 2868h33v29h-33z"/><path fill="#ff1919" d="M962 2840h33v28h-33z"/><path fill="#ff6e6e" d="M1028 2840h33v28h-33z"/><path fill="#ffdbdb" d="M1227 2840h33v28h-33z"/><path fill="#ffb8b8" d="M1293 2840h33v28h-33zM1260 2897h33v28h-33z"/><path fill="#ffbfbf" d="M1326 2840h33v28h-33z"/><path fill="#cfcfff" d="M1657 2840h33v28h-33zM1657 2897h33v28h-33z"/><path fill="#ffacac" d="M763 2868h33v29h-33zM763 2897h33v28h-33z"/><path fill="#ff9393" d="M796 2868h34v29h-34z"/><path fill="#ff5656" d="M863 2868h33v29h-33z"/><path fill="#ff2323" d="M929 2868h66v29h-66z"/><path fill="#f77" d="M1028 2868h33v29h-33z"/><path fill="#ffbaba" d="M1326 2868h33v29h-33zM1061 2897h33v28h-33zM1061 2925h33v28h-33z"/><path fill="#9f9fff" d="M1492 2868h33v29h-33z"/><path fill="#9191ff" d="M1591 2868h33v29h-33z"/><path fill="#ff3c3c" d="M896 2897h33v28h-33z"/><path fill="#ff2828" d="M929 2897h33v28h-33z"/><path fill="#ff4242" d="M995 2897h33v28h-33z"/><path fill="#ffadad" d="M1293 2897h33v28h-33z"/><path fill="#cacaff" d="M1458 2897h34v28h-34z"/><path fill="#ffa7a7" d="M1293 2925h33v28h-33z"/><path fill="#ffcfcf" d="M1359 2925h33v28h-33z"/><path fill="#9898ff" d="M1558 2925h33v28h-33z"/><path fill="#ff5353" d="M863 2953h33v28h-33z"/><path fill="#ff2626" d="M929 2953h33v28h-33zM995 2953h33v28h-33z"/><path fill="#ff1616" d="M962 2953h33v28h-33z"/><path fill="#adadff" d="M1492 2953h33v28h-33z"/><path fill="#99f" d="M1558 2953h33v28h-33z"/><path fill="#d8d8ff" d="M1690 2953h33v28h-33z"/></g><g shape-rendering="crispEdges"><path fill="#fcfcff" d="M2063 300h66v28h-66zM2195 300h33v28h-33zM3419 356h33v28h-33zM3254 413h33v28h-33zM2824 441h33v28h-33zM2096 581h33v28h-33zM2096 638h33v28h-33zM2195 694h33v28h-33z"/><path fill="#fff7f7" d="M2129 300h66v28h-66zM2228 300h33v28h-33zM2592 328h33v28h-33zM2989 328h33v28h-33zM3088 328h33v28h-33zM2427 356h33v28h-33zM2559 356h66v28h-66zM3353 356h33v28h-33zM2526 384h33v29h-33zM3055 384h33v29h-33zM3121 384h34v29h-34zM3221 384h33v29h-33zM3419 384h33v29h-33zM2063 413h33v28h-33zM2526 413h33v28h-33zM2890 413h33v28h-33zM3585 413h33v28h-33zM2228 441h33v28h-33zM2791 441h33v28h-33zM2989 441h33v28h-33zM3287 441h33v28h-33zM3585 441h66v28h-66zM2228 469h33v28h-33zM2758 469h33v28h-33zM3121 469h34v28h-34zM3287 469h33v28h-33zM3452 469h66v28h-66zM3651 469h33v28h-33zM3221 497h33v28h-33zM3386 497h33v28h-33zM3585 497h33v28h-33zM2691 525h34v28h-34zM3552 525h33v28h-33zM3618 525h33v28h-33zM2129 553h33v28h-33zM2228 553h33v28h-33zM2228 581h33v28h-33zM2394 581h33v28h-33zM3717 638h33v28h-33zM2063 666h33v28h-33zM2791 666h33v28h-33zM3552 666h33v28h-33zM2791 694h33v28h-33zM2096 722h66v28h-66zM3585 722h33v28h-33zM3121 778h34v28h-34zM3552 806h33v29h-33zM3552 835h33v28h-33zM3552 863h33v28h-33zM2063 891h33v28h-33zM3585 919h33v28h-33zM2162 947h33v28h-33zM2228 975h33v28h-33zM2228 1003h33v28h-33zM2228 1060h66v28h-66zM2956 1060h33v28h-33zM2857 1088h33v28h-33zM2228 1116h33v28h-33z"/><path fill="#f2f2ff" d="M2294 300h34v28h-34zM2989 300h66v28h-66zM2493 328h33v28h-33zM2592 384h33v29h-33zM2261 469h33v28h-33zM3386 469h33v28h-33zM2096 525h33v28h-33zM2294 750h34v28h-34zM2361 750h33v28h-33zM2228 919h33v28h-33zM2294 947h34v28h-34zM3552 1031h33v29h-33z"/><path fill="#f7f7ff" d="M2328 300h33v28h-33zM2427 300h33v28h-33zM2592 300h33v28h-33zM2691 300h34v28h-34zM2857 300h33v28h-33zM2129 328h33v28h-33zM2923 328h33v28h-33zM2758 356h33v28h-33zM2890 356h33v28h-33zM2493 384h33v29h-33zM3386 384h33v29h-33zM2195 441h33v28h-33zM3055 441h33v28h-33zM3121 441h67v28h-67zM2328 469h33v28h-33zM2857 469h33v28h-33zM3221 469h33v28h-33zM2394 497h33v28h-33zM2460 497h33v28h-33zM2328 525h33v28h-33zM2361 553h33v28h-33zM2328 581h66v28h-66zM2261 694h67v28h-67zM2261 806h33v29h-33zM3518 835h34v28h-34zM2129 947h33v28h-33zM2195 947h33v28h-33zM2129 975h33v28h-33zM2261 975h33v28h-33z"/><path fill="#fff0f0" d="M2361 300h33v28h-33zM2956 300h33v28h-33zM2361 328h33v28h-33zM2063 356h33v28h-33zM3386 356h33v28h-33zM2625 384h33v29h-33zM2725 384h33v29h-33zM3022 384h33v29h-33zM2261 413h33v28h-33zM2361 413h33v28h-33zM2063 469h33v28h-33zM2162 469h33v28h-33zM2989 497h66v28h-66zM3452 497h33v28h-33zM3651 638h33v28h-33zM3651 694h33v28h-33zM3585 750h33v28h-33zM3585 778h33v28h-33zM3155 863h33v28h-33zM2261 891h67v28h-67zM2394 891h33v28h-33zM2294 975h34v28h-34zM3585 1003h99v28h-99zM2063 1031h33v29h-33zM2427 1116h66v28h-66zM3651 1116h33v28h-33z"/><path fill="#ffe0e0" d="M2394 300h33v28h-33zM2294 469h34v28h-34zM2725 497h33v28h-33zM2791 497h33v28h-33zM2294 525h34v28h-34zM3717 553h33v28h-33zM2294 581h34v28h-34zM2758 581h33v28h-33zM2261 609h33v29h-33zM2791 722h33v28h-33zM3022 778h66v28h-66zM2394 806h33v29h-33zM3684 806h33v29h-33zM2427 835h33v28h-33zM2294 863h34v28h-34zM2460 863h66v28h-66zM2460 891h33v28h-33zM2989 891h33v28h-33zM2394 919h66v28h-66zM3618 919h66v28h-66zM3717 919h33v28h-33zM2427 975h66v28h-66zM3618 975h66v28h-66zM3717 1003h33v28h-33zM2394 1031h33v29h-33zM3618 1031h33v29h-33zM3717 1031h33v29h-33zM2427 1060h33v28h-33zM2857 1060h33v28h-33zM3651 1060h66v28h-66zM3155 1088h33v28h-33zM2261 1116h33v28h-33z"/><path fill="#fffafa" d="M2460 300h33v28h-33zM3452 328h33v28h-33zM3585 328h33v28h-33zM2460 384h33v29h-33zM2526 497h33v28h-33zM2129 638h66v28h-66zM2162 666h33v28h-33zM2063 750h33v28h-33zM2228 750h33v28h-33zM2328 750h33v28h-33zM2063 778h33v28h-33zM2063 806h33v29h-33zM2228 806h33v29h-33zM2228 835h33v28h-33zM2394 835h33v28h-33zM3585 863h33v28h-33zM2824 891h33v28h-33zM2096 947h33v28h-33zM2096 975h33v28h-33zM2096 1088h33v28h-33zM2162 1088h33v28h-33zM2294 1088h34v28h-34zM2063 1116h33v28h-33zM2294 1116h34v28h-34z"/><path fill="#fff2f2" d="M2625 300h33v28h-33zM2791 300h33v28h-33zM2923 300h33v28h-33zM2824 328h66v28h-66zM2328 356h33v28h-33zM3552 356h33v28h-33zM2361 384h33v29h-33zM2890 384h33v29h-33zM2394 413h33v28h-33zM3618 413h33v28h-33zM3684 413h33v28h-33zM2063 441h33v28h-33zM2890 441h66v28h-66zM3188 441h33v28h-33zM3518 441h34v28h-34zM2427 497h33v28h-33zM2758 497h33v28h-33zM2394 694h33v28h-33zM2294 722h34v28h-34zM2294 778h34v28h-34zM3585 806h33v29h-33zM2824 835h33v28h-33zM3585 835h33v28h-33zM2261 863h33v28h-33zM2162 919h33v28h-33zM3552 919h33v28h-33zM2162 975h33v28h-33zM3585 1031h33v29h-33zM2361 1060h66v28h-66zM3585 1088h33v28h-33zM2195 1116h33v28h-33zM2857 1116h33v28h-33zM3585 1116h33v28h-33zM3717 1116h33v28h-33z"/><path fill="#ffe8e8" d="M2725 300h33v28h-33zM2658 328h33v28h-33zM2758 328h33v28h-33zM3022 356h33v28h-33zM2791 413h33v28h-33zM2394 469h33v28h-33zM2559 469h33v28h-33zM2625 469h33v28h-33zM2394 553h33v28h-33zM3684 581h33v28h-33zM2063 638h33v28h-33zM3121 806h34v29h-34zM3717 835h33v28h-33zM2427 863h33v28h-33zM2989 863h33v28h-33zM3717 863h33v28h-33zM3618 947h33v28h-33zM3684 975h66v28h-66zM3651 1031h33v29h-33zM3618 1088h33v28h-33zM3717 1088h33v28h-33z"/><path fill="#f5f5ff" d="M2824 300h33v28h-33zM2890 300h33v28h-33zM3055 300h33v28h-33zM3188 300h33v28h-33zM3552 300h33v28h-33zM3717 300h33v28h-33zM2725 328h33v28h-33zM3055 328h33v28h-33zM3155 328h33v28h-33zM2526 356h33v28h-33zM2658 356h33v28h-33zM2857 356h33v28h-33zM3155 356h33v28h-33zM2857 384h33v29h-33zM2956 384h33v29h-33zM3188 384h33v29h-33zM3452 384h33v29h-33zM2691 413h34v28h-34zM3188 413h66v28h-66zM3320 413h33v28h-33zM3419 413h33v28h-33zM3518 413h34v28h-34zM2460 441h33v28h-33zM3353 441h33v28h-33zM3552 441h33v28h-33zM2725 469h33v28h-33zM2956 469h66v28h-66zM3088 469h33v28h-33zM3320 469h33v28h-33zM2923 497h33v28h-33zM3353 497h33v28h-33zM2195 553h33v28h-33zM3552 553h33v28h-33zM2096 666h33v28h-33zM3055 666h33v28h-33zM3055 694h33v28h-33zM2129 750h33v28h-33zM2361 778h33v28h-33zM2195 863h33v28h-33zM2824 863h33v28h-33zM3518 891h34v28h-34zM3518 975h34v28h-34zM2096 1031h33v29h-33zM2228 1031h33v29h-33zM2956 1031h33v29h-33zM2195 1060h33v28h-33zM2956 1088h33v28h-33zM3518 1088h34v28h-34z"/><path fill="#ebebff" d="M3088 300h33v28h-33zM2294 384h34v29h-34zM2791 384h33v29h-33zM2857 413h33v28h-33zM2195 469h33v28h-33zM3022 694h33v28h-33zM3088 694h33v28h-33zM3518 750h34v28h-34zM3155 835h33v28h-33zM2956 891h33v28h-33zM2261 947h33v28h-33zM3485 1060h33v28h-33z"/><path fill="#fff5f5" d="M3221 300h33v28h-33zM2294 328h34v28h-34zM3121 328h34v28h-34zM3121 356h34v28h-34zM2824 384h33v29h-33zM2923 384h33v29h-33zM2625 413h66v28h-66zM3055 413h33v28h-33zM3121 413h34v28h-34zM3651 413h33v28h-33zM2394 441h33v28h-33zM2592 469h33v28h-33zM3618 469h33v28h-33zM3618 497h99v28h-99zM3684 525h33v28h-33zM2261 666h33v28h-33zM3585 666h33v28h-33zM2228 694h33v28h-33zM3585 694h33v28h-33zM2261 722h33v28h-33zM3022 750h33v28h-33zM2294 806h34v29h-34zM2228 863h33v28h-33zM2129 891h33v28h-33zM3717 891h33v28h-33zM2294 1060h34v28h-34zM3717 1060h33v28h-33z"/><path fill="#fafaff" d="M3452 300h33v28h-33zM3684 300h33v28h-33zM3221 328h33v28h-33zM3353 328h33v28h-33zM3419 328h33v28h-33zM3518 328h34v28h-34zM2195 356h33v28h-33zM2063 384h33v29h-33zM3320 384h33v29h-33zM3518 384h34v29h-34zM2294 413h67v28h-67zM3353 413h33v28h-33zM3485 413h33v28h-33zM3518 469h34v28h-34zM2162 497h33v28h-33zM2658 497h33v28h-33zM3088 497h33v28h-33zM3188 497h33v28h-33zM3552 497h33v28h-33zM2162 525h33v28h-33zM2427 525h33v28h-33zM3518 525h34v28h-34zM3585 525h33v28h-33zM2063 553h33v28h-33zM2162 581h33v28h-33zM3717 581h33v28h-33zM2195 638h33v28h-33zM2261 638h33v28h-33zM2328 638h33v28h-33zM3585 638h33v28h-33zM2195 666h33v28h-33zM2328 666h33v28h-33zM2129 694h33v28h-33zM2328 694h33v28h-33zM2228 722h33v28h-33zM2096 750h33v28h-33zM3552 750h33v28h-33zM2129 778h132v28h-132zM3518 778h34v28h-34zM2129 806h33v29h-33zM2195 806h33v29h-33zM2063 835h33v28h-33zM2328 835h33v28h-33zM2328 863h33v28h-33zM3518 947h34v28h-34zM2956 1003h33v28h-33zM3518 1003h67v28h-67zM2096 1060h99v28h-99zM3188 1060h33v28h-33zM3518 1060h34v28h-34zM2261 1088h33v28h-33zM3552 1088h33v28h-33zM2129 1116h33v28h-33zM3552 1116h33v28h-33z"/><path fill="#ffebeb" d="M2328 328h33v28h-33zM2890 328h33v28h-33zM2791 356h33v28h-33zM2923 356h33v28h-33zM3618 356h33v28h-33zM3254 384h33v29h-33zM2725 413h33v28h-33zM3287 413h33v28h-33zM2294 441h34v28h-34zM2625 441h33v28h-33zM2725 441h33v28h-33zM2857 441h33v28h-33zM2890 469h33v28h-33zM2559 497h66v28h-66zM2261 525h33v28h-33zM2361 609h33v29h-33zM3618 609h66v29h-66zM3717 609h33v29h-33zM3651 666h33v28h-33zM3651 722h99v28h-99zM2427 750h33v28h-33zM3618 750h33v28h-33zM3618 778h33v28h-33zM3684 835h33v28h-33zM2195 975h33v28h-33zM3585 975h33v28h-33zM2129 1003h33v28h-33zM3618 1060h33v28h-33z"/><path fill="#e0e0ff" d="M2394 328h33v28h-33zM2493 356h33v28h-33zM2394 384h33v29h-33zM2658 384h33v29h-33zM2758 413h33v28h-33zM2956 413h33v28h-33zM3518 609h34v29h-34zM3485 666h33v28h-33zM2989 778h33v28h-33zM2328 891h33v28h-33zM3485 891h33v28h-33zM3485 919h33v28h-33zM2956 975h33v28h-33z"/><path fill="#ffe6e6" d="M2691 328h34v28h-34zM2460 356h33v28h-33zM2691 384h34v29h-34zM2559 413h66v28h-66zM3022 413h33v28h-33zM2526 441h33v28h-33zM3022 441h33v28h-33zM2427 469h33v28h-33zM2261 497h33v28h-33zM2394 609h33v29h-33zM3618 638h33v28h-33zM3684 638h33v28h-33zM3618 666h33v28h-33zM3684 666h33v28h-33zM3684 694h66v28h-66zM2394 722h33v28h-33zM3651 750h33v28h-33zM3717 750h33v28h-33zM3088 778h33v28h-33zM3552 778h33v28h-33zM3651 778h33v28h-33zM3651 806h33v29h-33zM3651 863h33v28h-33zM2989 919h33v28h-33zM2162 1003h33v28h-33zM2294 1003h34v28h-34zM3155 1003h33v28h-33zM2493 1031h33v29h-33zM3155 1031h33v29h-33zM2361 1116h33v28h-33zM3684 1116h33v28h-33z"/><path fill="#e6e6ff" d="M2791 328h33v28h-33zM2361 441h33v28h-33zM2361 469h33v28h-33zM2824 469h33v28h-33zM2956 497h33v28h-33zM3485 497h33v28h-33zM3518 638h34v28h-34zM3518 666h34v28h-34zM3485 750h33v28h-33zM3485 806h33v29h-33zM3485 863h33v28h-33zM2857 919h33v28h-33zM3485 1088h33v28h-33z"/><path fill="#ededff" d="M2956 328h33v28h-33zM3088 356h33v28h-33zM2758 384h33v29h-33zM2824 413h33v28h-33zM2658 441h33v28h-33zM2956 441h33v28h-33zM2493 469h33v28h-33zM2758 553h33v28h-33zM2361 638h33v28h-33zM2361 666h33v28h-33zM3518 694h34v28h-34zM3088 722h67v28h-67zM3518 722h34v28h-34zM2956 947h33v28h-33zM3485 1031h67v29h-67zM2890 1088h33v28h-33zM3188 1088h33v28h-33zM2923 1116h33v28h-33z"/><path fill="#ffeded" d="M2394 356h33v28h-33zM2725 356h33v28h-33zM2956 356h33v28h-33zM2427 413h33v28h-33zM2559 441h66v28h-66zM2526 469h33v28h-33zM3188 469h33v28h-33zM3386 525h33v28h-33zM2261 553h33v28h-33zM3618 581h66v28h-66zM3717 666h33v28h-33zM3055 722h33v28h-33zM3088 750h33v28h-33zM3717 778h33v28h-33zM3717 806h33v29h-33zM3651 835h33v28h-33zM3684 863h33v28h-33zM2195 891h33v28h-33zM3552 891h66v28h-66zM3684 891h33v28h-33zM2394 947h66v28h-66zM3585 947h33v28h-33zM3684 947h66v28h-66zM2989 975h33v28h-33zM2328 1031h33v29h-33zM2361 1088h33v28h-33zM2328 1116h33v28h-33z"/><path fill="#e8e8ff" d="M2989 356h33v28h-33zM2328 384h33v29h-33zM3088 441h33v28h-33zM2658 469h33v28h-33zM3254 497h33v28h-33zM2228 525h33v28h-33zM3552 609h33v29h-33zM2294 638h34v28h-34zM3088 666h33v28h-33zM2361 722h33v28h-33zM2989 806h33v29h-33zM3518 806h34v29h-34zM2361 947h33v28h-33zM3485 975h33v28h-33zM2328 1060h33v28h-33z"/><path fill="#f0f0ff" d="M3188 356h33v28h-33zM3320 356h33v28h-33zM2559 384h33v29h-33zM3353 384h33v29h-33zM2493 413h33v28h-33zM3320 441h33v28h-33zM3485 441h33v28h-33zM3055 469h33v28h-33zM3585 469h33v28h-33zM3717 469h33v28h-33zM2228 497h33v28h-33zM2361 497h33v28h-33zM3452 525h66v28h-66zM3518 553h34v28h-34zM2129 581h33v28h-33zM2294 609h34v29h-34zM2129 666h33v28h-33zM2162 694h33v28h-33zM2361 694h33v28h-33zM2195 722h33v28h-33zM3155 891h33v28h-33zM2261 1031h33v29h-33zM3188 1116h33v28h-33zM3518 1116h34v28h-34z"/><path fill="#fcc" d="M2261 441h33v28h-33zM3684 553h33v28h-33zM2394 750h33v28h-33zM3055 806h66v29h-66zM2460 835h33v28h-33zM2427 891h33v28h-33zM3022 891h33v28h-33zM2294 919h34v28h-34z"/><path fill="#c9c9ff" d="M2328 441h33v28h-33z"/><path fill="#ffd6d6" d="M2427 441h33v28h-33zM3585 553h33v28h-33zM3684 609h33v29h-33zM2427 666h33v28h-33zM2427 694h33v28h-33zM3618 694h33v28h-33zM2427 806h66v29h-66zM3022 806h33v29h-33zM2493 835h33v28h-33zM3121 835h34v28h-34zM2394 863h33v28h-33zM2261 919h33v28h-33zM2824 947h33v28h-33zM2493 975h33v28h-33zM2394 1003h33v28h-33zM2989 1003h33v28h-33zM2427 1031h66v29h-66zM2460 1088h33v28h-33z"/><path fill="#dedeff" d="M2493 441h33v28h-33zM2691 441h34v28h-34zM2460 469h33v28h-33zM2824 497h66v28h-66zM2361 525h33v28h-33zM2791 638h33v28h-33zM2328 722h33v28h-33zM3485 778h33v28h-33zM2328 806h33v29h-33zM3452 806h33v29h-33zM2294 835h34v28h-34zM2890 1003h33v28h-33zM2890 1031h33v29h-33zM3188 1031h33v29h-33z"/><path fill="#ffd1d1" d="M2791 469h33v28h-33zM2526 525h33v28h-33zM2427 722h66v28h-66zM2460 778h33v28h-33zM3022 835h33v28h-33zM2493 1116h33v28h-33z"/><path fill="#fffcfc" d="M2096 497h33v28h-33zM2195 497h33v28h-33zM2063 525h33v28h-33z"/><path fill="#d1d1ff" d="M2493 497h33v28h-33zM2328 553h33v28h-33zM3121 694h34v28h-34zM3155 778h33v28h-33zM2956 863h33v28h-33zM2923 1003h33v28h-33z"/><path fill="#ffdede" d="M2625 497h33v28h-33zM2394 638h33v28h-33zM3055 750h33v28h-33zM3684 778h33v28h-33zM3618 891h33v28h-33zM3155 919h33v28h-33zM3684 919h33v28h-33zM2394 975h33v28h-33zM3155 975h33v28h-33zM2427 1003h33v28h-33zM3684 1003h33v28h-33zM3155 1060h33v28h-33zM2394 1116h33v28h-33zM3618 1116h33v28h-33z"/><path fill="#ffb0b0" d="M2559 525h33v28h-33zM2460 581h33v28h-33zM2493 609h33v29h-33zM3088 863h33v28h-33zM3088 947h33v28h-33zM3022 975h33v28h-33z"/><path fill="#ffa6a6" d="M2592 525h33v28h-33zM2460 553h33v28h-33z"/><path fill="#ff8080" d="M2625 525h33v28h-33zM3055 1031h33v29h-33zM2559 1060h33v28h-33zM3088 1060h33v28h-33z"/><path fill="#ffc2c2" d="M2658 525h33v28h-33zM2427 609h33v29h-33zM2427 638h33v28h-33zM2460 750h33v28h-33zM2791 750h33v28h-33zM3088 835h33v28h-33zM2493 1060h33v28h-33zM2989 1088h33v28h-33z"/><path fill="#dbdbff" d="M2725 525h33v28h-33zM3485 947h33v28h-33zM2328 1003h33v28h-33z"/><path fill="#8080ff" d="M2758 525h33v28h-33zM3221 863h33v28h-33zM3353 947h33v28h-33zM3287 1031h33v29h-33zM3320 1116h33v28h-33z"/><path fill="#1f1fff" d="M2791 525h33v28h-33zM3320 638h33v28h-33zM3254 694h33v28h-33z"/><path fill="#0000c2" d="M2824 525h33v28h-33z"/><path fill="#0000a0" d="M2857 525h33v28h-33z"/><path fill="#0000d8" d="M2890 525h33v28h-33zM3188 581h33v28h-33zM3287 581h66v28h-66zM2890 638h33v28h-33zM3254 638h33v28h-33z"/><path fill="#0000fb" d="M2923 525h33v28h-33zM3055 553h33v28h-33zM2956 609h33v29h-33zM3254 666h33v28h-33z"/><path fill="#5c5cff" d="M2956 525h33v28h-33z"/><path fill="#9191ff" d="M2989 525h33v28h-33zM3452 581h66v28h-66zM3386 975h33v28h-33z"/><path fill="#d6d6ff" d="M3022 525h66v28h-66zM3353 525h33v28h-33zM3022 666h33v28h-33zM3485 722h33v28h-33zM2989 750h33v28h-33zM3188 919h33v28h-33zM2857 947h33v28h-33zM3188 947h33v28h-33zM3485 1003h33v28h-33zM2890 1060h33v28h-33zM3452 1060h33v28h-33zM2923 1088h33v28h-33zM3485 1116h33v28h-33z"/><path fill="#ababff" d="M3088 525h67v28h-67zM2791 609h33v29h-33zM3088 609h33v29h-33zM3155 694h33v28h-33zM2824 722h33v28h-33zM3419 750h33v28h-33zM3188 835h33v28h-33zM3287 1116h33v28h-33zM3419 1116h33v28h-33z"/><path fill="#6e6eff" d="M3155 525h33v28h-33zM2923 778h33v28h-33z"/><path fill="#7a7aff" d="M3188 525h33v28h-33zM3221 835h33v28h-33zM3353 863h33v28h-33zM3353 1003h33v28h-33zM3320 1060h33v28h-33z"/><path fill="#6363ff" d="M3221 525h33v28h-33zM3088 581h33v28h-33zM2989 609h33v29h-33zM3386 609h33v29h-33zM3155 638h33v28h-33zM3254 835h33v28h-33z"/><path fill="#7d7dff" d="M3254 525h33v28h-33zM2989 638h33v28h-33zM3386 694h33v28h-33zM3287 891h33v28h-33zM3353 1060h33v28h-33zM3287 1088h33v28h-33zM3353 1116h33v28h-33z"/><path fill="#00f" d="M3287 525h33v28h-33z"/><path fill="#4f4fff" d="M3320 525h33v28h-33zM3221 722h33v28h-33zM2923 750h33v28h-33zM3221 750h33v28h-33zM3254 806h33v29h-33z"/><path fill="#ffdbdb" d="M2294 553h34v28h-34zM2394 778h33v28h-33zM2493 891h33v28h-33zM2824 975h33v28h-33zM2460 1003h33v28h-33zM2493 1088h33v28h-33z"/><path fill="#ffc7c7" d="M2427 553h33v28h-33zM3651 553h33v28h-33zM2427 581h33v28h-33zM2427 778h33v28h-33zM2493 778h33v28h-33zM2460 919h66v28h-66zM2493 947h33v28h-33zM3121 947h34v28h-34zM2493 1003h33v28h-33zM2989 1031h33v29h-33zM2460 1060h33v28h-33zM2526 1088h33v28h-33z"/><path fill="#ffa8a8" d="M2493 553h33v28h-33zM2526 806h33v29h-33zM2526 835h33v28h-33zM3022 1116h33v28h-33z"/><path fill="#ff8282" d="M2526 553h33v28h-33zM2791 806h33v29h-33z"/><path fill="#ff3838" d="M2559 553h33v28h-33zM2559 581h33v28h-33zM2691 609h34v29h-34z"/><path fill="#f33" d="M2592 553h33v28h-33zM2592 609h33v29h-33zM2725 638h33v28h-33zM2791 1003h33v28h-33zM2658 1060h33v28h-33z"/><path fill="#fe0000" d="M2625 553h33v28h-33zM2725 975h33v28h-33z"/><path fill="#ff1212" d="M2658 553h33v28h-33zM2625 750h33v28h-33zM2625 863h33v28h-33zM2691 863h34v28h-34zM2658 919h33v28h-33zM2658 1003h33v28h-33z"/><path fill="#ff2626" d="M2691 553h34v28h-34zM2592 581h33v28h-33zM2658 694h33v28h-33zM2725 750h33v28h-33zM2725 806h33v29h-33z"/><path fill="#ff6363" d="M2725 553h33v28h-33zM2559 806h33v29h-33zM2791 891h33v28h-33zM2592 1031h33v29h-33zM2592 1060h33v28h-33z"/><path fill="#6969ff" d="M2791 553h33v28h-33zM3188 694h33v28h-33zM3353 778h33v28h-33zM3353 806h33v29h-33zM3287 835h33v28h-33zM3287 919h33v28h-33z"/><path fill="#0000bf" d="M2824 553h33v28h-33zM2989 553h33v28h-33zM3221 581h33v28h-33z"/><path fill="#000050" d="M2857 553h99v28h-99z"/><path fill="#00007d" d="M2956 553h33v28h-33zM3287 553h33v28h-33z"/><path fill="#1212ff" d="M3022 553h33v28h-33z"/><path fill="#0505ff" d="M3088 553h33v28h-33zM3353 581h33v28h-33z"/><path fill="#0000e1" d="M3121 553h34v28h-34zM3254 609h33v29h-33z"/><path fill="#0000c8" d="M3155 553h33v28h-33z"/><path fill="#00008d" d="M3188 553h33v28h-33z"/><path fill="#007" d="M3221 553h33v28h-33z"/><path fill="#000064" d="M3254 553h33v28h-33z"/><path fill="#0000b4" d="M3320 553h33v28h-33zM3254 581h33v28h-33zM2923 609h33v29h-33z"/><path fill="#000096" d="M3353 553h33v28h-33zM2890 581h33v28h-33z"/><path fill="#0000e6" d="M3386 553h33v28h-33zM3320 609h33v29h-33z"/><path fill="#0000e8" d="M3419 553h33v28h-33z"/><path fill="#0000fa" d="M3452 553h33v28h-33zM2824 581h33v28h-33zM3221 638h33v28h-33zM2923 666h33v28h-33z"/><path fill="#8787ff" d="M3485 553h33v28h-33zM2824 694h33v28h-33zM2956 722h33v28h-33zM3188 778h33v28h-33zM3386 778h33v28h-33zM2923 806h33v29h-33zM3254 975h33v28h-33zM3287 1003h33v28h-33zM3287 1060h33v28h-33zM3353 1088h33v28h-33z"/><path fill="#ffb8b8" d="M3618 553h33v28h-33zM2460 694h33v28h-33zM3022 863h33v28h-33z"/><path fill="#ffabab" d="M2493 581h33v28h-33zM2460 638h33v28h-33zM2758 638h33v28h-33zM2493 750h33v28h-33zM2526 891h33v28h-33zM3121 919h34v28h-34zM3022 1031h33v29h-33z"/><path fill="#ff7d7d" d="M2526 581h33v28h-33zM2791 835h33v28h-33zM3055 1060h33v28h-33zM3088 1088h33v28h-33z"/><path fill="#f70000" d="M2625 581h33v28h-33zM2658 609h33v29h-33zM2625 722h33v28h-33zM2625 778h33v28h-33zM2691 835h34v28h-34zM2658 891h33v28h-33zM2691 1031h34v29h-34zM2758 1116h33v28h-33z"/><path fill="#fc0000" d="M2658 581h33v28h-33zM2691 750h34v28h-34zM2691 806h34v29h-34zM2725 863h33v28h-33zM2691 975h34v28h-34zM2758 1031h33v29h-33z"/><path fill="#ff1f1f" d="M2691 581h34v28h-34zM2758 919h33v28h-33zM2625 1003h33v28h-33z"/><path fill="#ff5252" d="M2725 581h33v28h-33z"/><path fill="#a6a6ff" d="M2791 581h33v28h-33zM3419 778h33v28h-33zM3188 806h33v29h-33zM2923 835h33v28h-33z"/><path fill="#0000a6" d="M2857 581h33v28h-33z"/><path fill="#00009b" d="M2923 581h33v28h-33z"/><path fill="#0000eb" d="M2956 581h33v28h-33zM3221 609h33v29h-33zM2923 638h33v28h-33z"/><path fill="#2929ff" d="M2989 581h33v28h-33zM3221 694h33v28h-33z"/><path fill="#7373ff" d="M3022 581h33v28h-33zM2956 694h33v28h-33zM2857 750h33v28h-33zM3353 975h33v28h-33z"/><path fill="#7878ff" d="M3055 581h33v28h-33zM2890 806h33v29h-33zM3320 1003h33v28h-33zM3353 1031h33v29h-33z"/><path fill="#3d3dff" d="M3121 581h34v28h-34zM3155 609h33v29h-33zM2857 722h33v28h-33zM3287 722h33v28h-33zM3320 750h33v28h-33zM3320 778h33v28h-33z"/><path fill="#0f0fff" d="M3155 581h33v28h-33zM3353 638h33v28h-33z"/><path fill="#4a4aff" d="M3386 581h66v28h-66zM3287 750h33v28h-33zM3287 778h33v28h-33z"/><path fill="#ccf" d="M3518 581h34v28h-34zM2328 975h33v28h-33zM3188 975h33v28h-33zM3452 1003h33v28h-33zM3452 1031h33v29h-33zM3221 1116h33v28h-33zM3452 1116h33v28h-33z"/><path fill="#e3e3ff" d="M3552 581h33v28h-33zM2956 919h33v28h-33zM3188 1003h33v28h-33z"/><path fill="#ffc9c9" d="M2460 609h33v29h-33z"/><path fill="#ff8c8c" d="M2526 609h33v29h-33zM2526 778h33v28h-33zM2526 975h33v28h-33zM2526 1003h33v28h-33zM2559 1088h33v28h-33z"/><path fill="#ff3d3d" d="M2559 609h33v29h-33zM2592 638h33v28h-33zM2592 666h33v28h-33zM2592 694h33v28h-33zM2725 694h33v28h-33zM2725 722h33v28h-33zM2592 891h33v28h-33z"/><path fill="#f90000" d="M2625 609h33v29h-33z"/><path fill="#ff3b3b" d="M2725 609h33v29h-33zM2791 1088h33v28h-33z"/><path fill="#ffbfbf" d="M2758 609h33v29h-33zM2824 1031h33v29h-33z"/><path fill="#0d0dff" d="M2824 609h33v29h-33z"/><path fill="#0000db" d="M2857 609h33v29h-33zM3287 609h33v29h-33zM2857 638h33v28h-33z"/><path fill="#0000af" d="M2890 609h33v29h-33z"/><path fill="#a1a1ff" d="M3022 609h33v29h-33zM3452 609h33v29h-33zM3419 694h33v28h-33zM2956 778h33v28h-33zM2857 806h33v29h-33zM3386 863h33v28h-33zM3386 1003h33v28h-33zM3386 1088h33v28h-33zM3386 1116h33v28h-33z"/><path fill="#b2b2ff" d="M3055 609h33v29h-33zM3155 750h33v28h-33zM3221 1003h33v28h-33zM3419 1031h33v29h-33zM3419 1060h33v28h-33z"/><path fill="#8282ff" d="M3121 609h34v29h-34zM3155 666h33v28h-33zM3386 722h33v28h-33zM3320 891h33v28h-33zM3353 919h33v28h-33z"/><path fill="#0000f4" d="M3188 609h33v29h-33zM3287 638h33v28h-33z"/><path fill="#1919ff" d="M3353 609h33v29h-33zM3287 666h33v28h-33z"/><path fill="#7070ff" d="M3419 609h33v29h-33zM3221 806h33v29h-33zM3254 863h33v28h-33zM3320 975h33v28h-33zM3320 1031h33v29h-33z"/><path fill="#c2c2ff" d="M3485 609h33v29h-33zM3485 638h33v28h-33zM2989 722h33v28h-33zM3452 835h33v28h-33zM3188 863h33v28h-33zM2890 947h33v28h-33z"/><path fill="#ffa1a1" d="M2493 638h33v28h-33zM2758 666h33v28h-33zM3055 891h33v28h-33zM2526 947h33v28h-33z"/><path fill="#ff7070" d="M2526 638h33v28h-33zM2559 947h33v28h-33z"/><path fill="#ff5454" d="M2559 638h33v28h-33zM2758 722h33v28h-33zM2559 891h33v28h-33z"/><path fill="#f50000" d="M2625 638h33v28h-33zM2725 1003h33v28h-33zM2725 1060h33v28h-33zM2758 1088h33v28h-33zM2725 1116h33v28h-33z"/><path fill="#f00" d="M2658 638h33v28h-33zM2658 666h33v28h-33zM2625 694h33v28h-33zM2691 694h34v28h-34zM2691 722h34v28h-34zM2625 806h33v29h-33zM2725 835h33v28h-33zM2691 891h34v28h-34zM2691 947h100v28h-100zM2758 1003h33v28h-33zM2625 1031h66v29h-66zM2691 1116h34v28h-34z"/><path fill="#ff1c1c" d="M2691 638h34v28h-34zM2691 666h34v28h-34zM2658 863h33v28h-33z"/><path fill="#4545ff" d="M2824 638h33v28h-33zM3188 666h33v28h-33zM3353 694h33v28h-33z"/><path fill="#3030ff" d="M2956 638h33v28h-33zM2890 722h33v28h-33z"/><path fill="#b0b0ff" d="M3022 638h33v28h-33zM3088 638h33v28h-33zM3452 638h33v28h-33zM2989 694h33v28h-33zM3155 722h33v28h-33zM3419 835h33v28h-33zM2923 891h33v28h-33zM3419 891h33v28h-33zM2923 947h33v28h-33zM2890 975h33v28h-33z"/><path fill="#c7c7ff" d="M3055 638h33v28h-33zM3121 666h34v28h-34zM3452 694h33v28h-33zM3452 750h33v28h-33zM2328 778h33v28h-33zM3452 778h33v28h-33zM2956 806h33v29h-33zM2956 835h33v28h-33zM3452 863h33v28h-33zM2890 919h33v28h-33zM3452 919h33v28h-33zM2328 947h33v28h-33zM3452 947h33v28h-33zM2857 975h33v28h-33zM3452 975h33v28h-33zM3452 1088h33v28h-33z"/><path fill="#9696ff" d="M3121 638h34v28h-34zM3419 722h33v28h-33zM3221 891h33v28h-33zM3386 891h33v28h-33zM3221 919h33v28h-33zM3386 919h33v28h-33z"/><path fill="#3838ff" d="M3188 638h33v28h-33zM2857 694h33v28h-33zM3254 750h33v28h-33z"/><path fill="#5959ff" d="M3386 638h33v28h-33zM2890 750h33v28h-33zM3320 863h33v28h-33z"/><path fill="#8c8cff" d="M3419 638h33v28h-33zM2956 750h33v28h-33zM3353 891h33v28h-33z"/><path fill="#ffbaba" d="M2394 666h33v28h-33zM2493 722h33v28h-33zM3055 835h33v28h-33zM3022 919h33v28h-33zM2824 1003h33v28h-33zM3121 1003h34v28h-34zM2824 1116h33v28h-33z"/><path fill="#ffb2b2" d="M2460 666h33v28h-33zM2526 863h33v28h-33zM2526 1031h33v29h-33zM2526 1116h33v28h-33z"/><path fill="#ffa3a3" d="M2493 666h33v28h-33zM2526 919h33v28h-33zM3055 975h33v28h-33zM3121 1031h34v29h-34z"/><path fill="#ff9494" d="M2526 666h33v28h-33zM2526 694h33v28h-33zM2758 694h33v28h-33zM2526 750h33v28h-33zM2559 975h33v28h-33zM2559 1003h33v28h-33zM3022 1088h33v28h-33z"/><path fill="#ff5c5c" d="M2559 666h33v28h-33z"/><path fill="#ff0505" d="M2625 666h33v28h-33zM2625 947h33v28h-33zM2725 1031h33v29h-33z"/><path fill="#ff1717" d="M2725 666h33v28h-33zM2725 778h33v28h-33zM2758 891h33v28h-33zM2758 975h33v28h-33z"/><path fill="#7575ff" d="M2824 666h33v28h-33zM3353 835h33v28h-33zM3254 891h33v28h-33zM3320 1088h33v28h-33z"/><path fill="#0a0aff" d="M2857 666h33v28h-33z"/><path fill="#0000f1" d="M2890 666h33v28h-33z"/><path fill="#5252ff" d="M2956 666h33v28h-33zM2890 778h33v28h-33z"/><path fill="#9494ff" d="M2989 666h33v28h-33zM3419 666h33v28h-33zM2890 835h33v28h-33zM3254 1003h33v28h-33zM3254 1031h33v29h-33z"/><path fill="#2424ff" d="M3221 666h33v28h-33zM2923 694h33v28h-33zM3254 722h33v28h-33z"/><path fill="#1c1cff" d="M3320 666h33v28h-33zM2890 694h33v28h-33z"/><path fill="#33f" d="M3353 666h33v28h-33zM2923 722h33v28h-33zM3320 722h33v28h-33z"/><path fill="#5e5eff" d="M3386 666h33v28h-33zM3353 722h33v28h-33zM3353 750h33v28h-33zM3320 806h33v29h-33zM3320 947h33v28h-33z"/><path fill="#b5b5ff" d="M3452 666h33v28h-33zM3419 863h33v28h-33zM2923 919h33v28h-33zM3419 919h33v28h-33zM3419 947h33v28h-33zM3221 1088h33v28h-33zM3419 1088h33v28h-33z"/><path fill="#ff9e9e" d="M2493 694h33v28h-33zM3088 919h33v28h-33zM3055 947h33v28h-33zM3088 975h33v28h-33zM3088 1003h33v28h-33zM3121 1116h34v28h-34z"/><path fill="#ff5959" d="M2559 694h33v28h-33zM2559 863h66v28h-66zM2791 919h33v28h-33z"/><path fill="#2626ff" d="M3287 694h33v28h-33z"/><path fill="#3b3bff" d="M3320 694h33v28h-33z"/><path fill="#d9d9ff" d="M3485 694h33v28h-33zM2824 806h33v29h-33zM3155 806h33v29h-33zM2923 1031h33v29h-33z"/><path fill="#ff9696" d="M2526 722h33v28h-33z"/><path fill="#ff6969" d="M2559 722h33v28h-33zM2559 750h33v28h-33zM2559 835h33v28h-33z"/><path fill="#ff4545" d="M2592 722h33v28h-33zM2791 947h33v28h-33z"/><path fill="#ff0f0f" d="M2658 722h33v28h-33zM2625 1060h33v28h-33zM2625 1088h33v28h-33zM2625 1116h33v28h-33z"/><path fill="#8585ff" d="M3188 722h33v28h-33zM3188 750h33v28h-33zM3386 750h33v28h-33zM3254 919h33v28h-33zM3254 947h33v28h-33z"/><path fill="#babaff" d="M3452 722h33v28h-33zM3419 806h33v29h-33zM2857 835h33v28h-33zM3188 891h33v28h-33zM3419 975h33v28h-33zM3221 1031h33v29h-33z"/><path fill="#ffe3e3" d="M3618 722h33v28h-33zM3618 806h33v29h-33zM3618 863h33v28h-33zM3651 891h33v28h-33zM3651 947h33v28h-33zM3651 1088h66v28h-66zM2956 1116h33v28h-33z"/><path fill="#ff1919" d="M2592 750h33v28h-33zM2658 1116h33v28h-33z"/><path fill="#fb0000" d="M2658 750h33v28h-33zM2658 835h33v28h-33zM2725 919h33v28h-33zM2658 947h33v28h-33z"/><path fill="#ff7878" d="M2758 750h33v28h-33z"/><path fill="#bfbfff" d="M2824 750h33v28h-33zM2824 778h33v28h-33zM2857 891h33v28h-33zM2923 975h33v28h-33zM3221 1060h33v28h-33z"/><path fill="#ffd9d9" d="M3684 750h33v28h-33zM2261 778h33v28h-33zM3618 835h33v28h-33zM3121 863h34v28h-34zM2989 947h33v28h-33zM3684 1031h33v29h-33z"/><path fill="#ff5e5e" d="M2559 778h33v28h-33zM2592 947h33v28h-33z"/><path fill="#ff4040" d="M2592 778h33v28h-33zM2658 806h33v29h-33zM2592 919h33v28h-33zM2592 975h33v28h-33z"/><path fill="#ff2929" d="M2658 778h33v28h-33zM2625 835h33v28h-33zM2758 835h33v28h-33zM2758 863h33v28h-33z"/><path fill="#ff0808" d="M2691 778h34v28h-34zM2691 1003h34v28h-34zM2691 1060h34v28h-34zM2758 1060h33v28h-33z"/><path fill="#ff4747" d="M2758 778h33v28h-33zM2592 1003h33v28h-33zM2791 1060h33v28h-33z"/><path fill="#ffbdbd" d="M2791 778h33v28h-33zM2493 806h33v29h-33z"/><path fill="#66f" d="M2857 778h33v28h-33z"/><path fill="#6161ff" d="M3221 778h33v28h-33z"/><path fill="#4747ff" d="M3254 778h33v28h-33zM3287 806h33v29h-33z"/><path fill="#ff4a4a" d="M2592 806h33v29h-33zM2791 975h33v28h-33zM2592 1088h33v28h-33zM2592 1116h33v28h-33z"/><path fill="#ff4f4f" d="M2758 806h33v29h-33z"/><path fill="#8a8aff" d="M3386 806h33v29h-33zM3287 947h33v28h-33zM3287 975h33v28h-33z"/><path fill="#ff6161" d="M2592 835h33v28h-33z"/><path fill="#5454ff" d="M3320 835h33v28h-33z"/><path fill="#8f8fff" d="M3386 835h33v28h-33zM3254 1116h33v28h-33z"/><path fill="#d4d4ff" d="M3485 835h33v28h-33zM3452 891h33v28h-33zM2328 919h33v28h-33zM2923 1060h33v28h-33z"/><path fill="#ff7373" d="M2791 863h33v28h-33zM2559 919h33v28h-33zM2559 1116h33v28h-33zM3055 1116h33v28h-33z"/><path fill="#9c9cff" d="M2857 863h33v28h-33zM3221 947h33v28h-33zM3221 975h33v28h-33zM3386 1031h33v29h-33zM3386 1060h33v28h-33zM3254 1088h33v28h-33z"/><path fill="#a8a8ff" d="M2890 863h33v28h-33z"/><path fill="#a3a3ff" d="M2923 863h33v28h-33zM2890 891h33v28h-33z"/><path fill="#ffadad" d="M3055 863h33v28h-33zM3055 919h33v28h-33zM3022 947h33v28h-33z"/><path fill="#6b6bff" d="M3287 863h33v28h-33zM3320 919h33v28h-33z"/><path fill="#ffcfcf" d="M2361 891h33v28h-33zM2989 1060h33v28h-33zM2427 1088h33v28h-33zM2989 1116h33v28h-33zM3155 1116h33v28h-33z"/><path fill="#ff0a0a" d="M2625 891h33v28h-33z"/><path fill="#fa0000" d="M2725 891h33v28h-33zM2691 919h34v28h-34z"/><path fill="#ffb5b5" d="M3088 891h67v28h-67zM3121 975h34v28h-34z"/><path fill="#ff1414" d="M2625 919h33v28h-33z"/><path fill="#ffd4d4" d="M2824 919h33v28h-33zM2460 947h33v28h-33z"/><path fill="#99f" d="M3386 947h33v28h-33z"/><path fill="#ff2424" d="M2625 975h33v28h-33zM2791 1031h33v29h-33zM2791 1116h33v28h-33z"/><path fill="#ff2e2e" d="M2658 975h33v28h-33z"/><path fill="#f99" d="M3022 1003h66v28h-66zM3088 1031h33v29h-33zM2526 1060h33v28h-33z"/><path fill="#bdbdff" d="M3419 1003h33v28h-33z"/><path fill="#ff6e6e" d="M2559 1031h33v29h-33z"/><path fill="#ff9c9c" d="M2824 1060h33v28h-33zM3022 1060h33v28h-33zM3121 1060h34v28h-34zM3121 1088h34v28h-34z"/><path fill="#9e9eff" d="M3254 1060h33v28h-33z"/><path fill="#c4c4ff" d="M2328 1088h33v28h-33z"/><path fill="#ff3030" d="M2658 1088h33v28h-33z"/><path fill="#f60000" d="M2691 1088h34v28h-34z"/><path fill="#f00000" d="M2725 1088h33v28h-33z"/><path fill="#ff8f8f" d="M2824 1088h33v28h-33z"/><path fill="#ff8585" d="M3055 1088h33v28h-33z"/><path fill="#ff7575" d="M3088 1116h33v28h-33z"/></g><g shape-rendering="crispEdges"><path fill="#fcfcff" d="M2063 1219h66v28h-66zM2195 1219h33v28h-33zM3419 1275h33v28h-33zM3254 1331h33v28h-33zM2824 1359h33v29h-33zM2096 1500h33v28h-33zM2096 1556h33v28h-33zM2195 1612h33v28h-33z"/><path fill="#fff7f7" d="M2129 1219h66v28h-66zM2228 1219h33v28h-33zM2592 1247h33v28h-33zM2989 1247h33v28h-33zM3088 1247h33v28h-33zM2427 1275h33v28h-33zM2559 1275h66v28h-66zM3353 1275h33v28h-33zM2526 1303h33v28h-33zM3055 1303h33v28h-33zM3121 1303h34v28h-34zM3221 1303h33v28h-33zM3419 1303h33v28h-33zM2063 1331h33v28h-33zM2526 1331h33v28h-33zM2890 1331h33v28h-33zM3585 1331h33v28h-33zM2228 1359h33v29h-33zM2791 1359h33v29h-33zM2989 1359h33v29h-33zM3287 1359h33v29h-33zM3585 1359h66v29h-66zM2228 1388h33v28h-33zM2758 1388h33v28h-33zM3121 1388h34v28h-34zM3287 1388h33v28h-33zM3452 1388h66v28h-66zM3651 1388h33v28h-33zM3221 1416h33v28h-33zM3386 1416h33v28h-33zM3585 1416h33v28h-33zM2691 1444h34v28h-34zM3552 1444h33v28h-33zM3618 1444h33v28h-33zM2129 1472h33v28h-33zM2228 1472h33v28h-33zM2228 1500h33v28h-33zM2394 1500h33v28h-33zM3717 1556h33v28h-33zM2063 1584h33v28h-33zM2791 1584h33v28h-33zM3552 1584h33v28h-33zM2791 1612h33v28h-33zM2096 1640h66v29h-66zM3585 1640h33v29h-33zM3121 1697h34v28h-34zM3552 1725h33v28h-33zM3552 1753h33v28h-33zM3552 1781h33v28h-33zM2063 1809h33v28h-33zM3585 1837h33v28h-33zM2162 1865h33v28h-33zM2228 1893h33v28h-33zM2228 1921h33v29h-33zM2228 1978h66v28h-66zM2956 1978h33v28h-33zM2857 2006h33v28h-33zM2228 2034h33v28h-33z"/><path fill="#f2f2ff" d="M2294 1219h34v28h-34zM2989 1219h66v28h-66zM2493 1247h33v28h-33zM2592 1303h33v28h-33zM2261 1388h33v28h-33zM3386 1388h33v28h-33zM2096 1444h33v28h-33zM2294 1669h34v28h-34zM2361 1669h33v28h-33zM2228 1837h33v28h-33zM2294 1865h34v28h-34zM3552 1950h33v28h-33z"/><path fill="#f7f7ff" d="M2328 1219h33v28h-33zM2427 1219h33v28h-33zM2592 1219h33v28h-33zM2691 1219h34v28h-34zM2857 1219h33v28h-33zM2129 1247h33v28h-33zM2923 1247h33v28h-33zM2758 1275h33v28h-33zM2890 1275h33v28h-33zM2493 1303h33v28h-33zM3386 1303h33v28h-33zM2195 1359h33v29h-33zM3055 1359h33v29h-33zM3121 1359h67v29h-67zM2328 1388h33v28h-33zM2857 1388h33v28h-33zM3221 1388h33v28h-33zM2394 1416h33v28h-33zM2460 1416h33v28h-33zM2328 1444h33v28h-33zM2361 1472h33v28h-33zM2328 1500h66v28h-66zM2261 1612h67v28h-67zM2261 1725h33v28h-33zM3518 1753h34v28h-34zM2129 1865h33v28h-33zM2195 1865h33v28h-33zM2129 1893h33v28h-33zM2261 1893h33v28h-33z"/><path fill="#fff0f0" d="M2361 1219h33v28h-33zM2956 1219h33v28h-33zM2361 1247h33v28h-33zM2063 1275h33v28h-33zM3386 1275h33v28h-33zM2625 1303h33v28h-33zM2725 1303h33v28h-33zM3022 1303h33v28h-33zM2261 1331h33v28h-33zM2361 1331h33v28h-33zM2063 1388h33v28h-33zM2162 1388h33v28h-33zM2989 1416h66v28h-66zM3452 1416h33v28h-33zM3651 1556h33v28h-33zM3651 1612h33v28h-33zM3585 1669h33v28h-33zM3585 1697h33v28h-33zM3155 1781h33v28h-33zM2261 1809h67v28h-67zM2394 1809h33v28h-33zM2294 1893h34v28h-34zM3585 1921h99v29h-99zM2063 1950h33v28h-33zM2427 2034h66v28h-66zM3651 2034h33v28h-33z"/><path fill="#ffe0e0" d="M2394 1219h33v28h-33zM2294 1388h34v28h-34zM2725 1416h33v28h-33zM2791 1416h33v28h-33zM2294 1444h34v28h-34zM3717 1472h33v28h-33zM2294 1500h34v28h-34zM2758 1500h33v28h-33zM2261 1528h33v28h-33zM2791 1640h33v29h-33zM3022 1697h66v28h-66zM2394 1725h33v28h-33zM3684 1725h33v28h-33zM2427 1753h33v28h-33zM2294 1781h34v28h-34zM2460 1781h66v28h-66zM2460 1809h33v28h-33zM2989 1809h33v28h-33zM2394 1837h66v28h-66zM3618 1837h66v28h-66zM3717 1837h33v28h-33zM2427 1893h66v28h-66zM3618 1893h66v28h-66zM3717 1921h33v29h-33zM2394 1950h33v28h-33zM3618 1950h33v28h-33zM3717 1950h33v28h-33zM2427 1978h33v28h-33zM2857 1978h33v28h-33zM3651 1978h66v28h-66zM3155 2006h33v28h-33zM2261 2034h33v28h-33z"/><path fill="#fffafa" d="M2460 1219h33v28h-33zM3452 1247h33v28h-33zM3585 1247h33v28h-33zM2460 1303h33v28h-33zM2526 1416h33v28h-33zM2129 1556h66v28h-66zM2162 1584h33v28h-33zM2063 1669h33v28h-33zM2228 1669h33v28h-33zM2328 1669h33v28h-33zM2063 1697h33v28h-33zM2063 1725h33v28h-33zM2228 1725h33v28h-33zM2228 1753h33v28h-33zM2394 1753h33v28h-33zM3585 1781h33v28h-33zM2824 1809h33v28h-33zM2096 1865h33v28h-33zM2096 1893h33v28h-33zM2096 2006h33v28h-33zM2162 2006h33v28h-33zM2294 2006h34v28h-34zM2063 2034h33v28h-33zM2294 2034h34v28h-34z"/><path fill="#fff2f2" d="M2625 1219h33v28h-33zM2791 1219h33v28h-33zM2923 1219h33v28h-33zM2824 1247h66v28h-66zM2328 1275h33v28h-33zM3552 1275h33v28h-33zM2361 1303h33v28h-33zM2890 1303h33v28h-33zM2394 1331h33v28h-33zM3618 1331h33v28h-33zM3684 1331h33v28h-33zM2063 1359h33v29h-33zM2890 1359h66v29h-66zM3188 1359h33v29h-33zM3518 1359h34v29h-34zM2427 1416h33v28h-33zM2758 1416h33v28h-33zM2394 1612h33v28h-33zM2294 1640h34v29h-34zM2294 1697h34v28h-34zM3585 1725h33v28h-33zM2824 1753h33v28h-33zM3585 1753h33v28h-33zM2261 1781h33v28h-33zM2162 1837h33v28h-33zM3552 1837h33v28h-33zM2162 1893h33v28h-33zM3585 1950h33v28h-33zM2361 1978h66v28h-66zM3585 2006h33v28h-33zM2195 2034h33v28h-33zM2857 2034h33v28h-33zM3585 2034h33v28h-33zM3717 2034h33v28h-33z"/><path fill="#ffe8e8" d="M2725 1219h33v28h-33zM2658 1247h33v28h-33zM2758 1247h33v28h-33zM3022 1275h33v28h-33zM2791 1331h33v28h-33zM2394 1388h33v28h-33zM2559 1388h33v28h-33zM2625 1388h33v28h-33zM2394 1472h33v28h-33zM3684 1500h33v28h-33zM2063 1556h33v28h-33zM3121 1725h34v28h-34zM3717 1753h33v28h-33zM2427 1781h33v28h-33zM2989 1781h33v28h-33zM3717 1781h33v28h-33zM3618 1865h33v28h-33zM3684 1893h66v28h-66zM3651 1950h33v28h-33zM3618 2006h33v28h-33zM3717 2006h33v28h-33z"/><path fill="#f5f5ff" d="M2824 1219h33v28h-33zM2890 1219h33v28h-33zM3055 1219h33v28h-33zM3188 1219h33v28h-33zM3552 1219h33v28h-33zM3717 1219h33v28h-33zM2725 1247h33v28h-33zM3055 1247h33v28h-33zM3155 1247h33v28h-33zM2526 1275h33v28h-33zM2658 1275h33v28h-33zM2857 1275h33v28h-33zM3155 1275h33v28h-33zM2857 1303h33v28h-33zM2956 1303h33v28h-33zM3188 1303h33v28h-33zM3452 1303h33v28h-33zM2691 1331h34v28h-34zM3188 1331h66v28h-66zM3320 1331h33v28h-33zM3419 1331h33v28h-33zM3518 1331h34v28h-34zM2460 1359h33v29h-33zM3353 1359h33v29h-33zM3552 1359h33v29h-33zM2725 1388h33v28h-33zM2956 1388h66v28h-66zM3088 1388h33v28h-33zM3320 1388h33v28h-33zM2923 1416h33v28h-33zM3353 1416h33v28h-33zM2195 1472h33v28h-33zM3552 1472h33v28h-33zM2096 1584h33v28h-33zM3055 1584h33v28h-33zM3055 1612h33v28h-33zM2129 1669h33v28h-33zM2361 1697h33v28h-33zM2195 1781h33v28h-33zM2824 1781h33v28h-33zM3518 1809h34v28h-34zM3518 1893h34v28h-34zM2096 1950h33v28h-33zM2228 1950h33v28h-33zM2956 1950h33v28h-33zM2195 1978h33v28h-33zM2956 2006h33v28h-33zM3518 2006h34v28h-34z"/><path fill="#ebebff" d="M3088 1219h33v28h-33zM2294 1303h34v28h-34zM2791 1303h33v28h-33zM2857 1331h33v28h-33zM2195 1388h33v28h-33zM3022 1612h33v28h-33zM3088 1612h33v28h-33zM3518 1669h34v28h-34zM3155 1753h33v28h-33zM2956 1809h33v28h-33zM2261 1865h33v28h-33zM3485 1978h33v28h-33z"/><path fill="#fff5f5" d="M3221 1219h33v28h-33zM2294 1247h34v28h-34zM3121 1247h34v28h-34zM3121 1275h34v28h-34zM2824 1303h33v28h-33zM2923 1303h33v28h-33zM2625 1331h66v28h-66zM3055 1331h33v28h-33zM3121 1331h34v28h-34zM3651 1331h33v28h-33zM2394 1359h33v29h-33zM2592 1388h33v28h-33zM3618 1388h33v28h-33zM3618 1416h99v28h-99zM3684 1444h33v28h-33zM2261 1584h33v28h-33zM3585 1584h33v28h-33zM2228 1612h33v28h-33zM3585 1612h33v28h-33zM2261 1640h33v29h-33zM3022 1669h33v28h-33zM2294 1725h34v28h-34zM2228 1781h33v28h-33zM2129 1809h33v28h-33zM3717 1809h33v28h-33zM2294 1978h34v28h-34zM3717 1978h33v28h-33z"/><path fill="#fafaff" d="M3452 1219h33v28h-33zM3684 1219h33v28h-33zM3221 1247h33v28h-33zM3353 1247h33v28h-33zM3419 1247h33v28h-33zM3518 1247h34v28h-34zM2195 1275h33v28h-33zM2063 1303h33v28h-33zM3320 1303h33v28h-33zM3518 1303h34v28h-34zM2294 1331h67v28h-67zM3353 1331h33v28h-33zM3485 1331h33v28h-33zM3518 1388h34v28h-34zM2162 1416h33v28h-33zM2658 1416h33v28h-33zM3088 1416h33v28h-33zM3188 1416h33v28h-33zM3552 1416h33v28h-33zM2162 1444h33v28h-33zM2427 1444h33v28h-33zM3518 1444h34v28h-34zM3585 1444h33v28h-33zM2063 1472h33v28h-33zM2162 1500h33v28h-33zM3717 1500h33v28h-33zM2195 1556h33v28h-33zM2261 1556h33v28h-33zM2328 1556h33v28h-33zM3585 1556h33v28h-33zM2195 1584h33v28h-33zM2328 1584h33v28h-33zM2129 1612h33v28h-33zM2328 1612h33v28h-33zM2228 1640h33v29h-33zM2096 1669h33v28h-33zM3552 1669h33v28h-33zM2129 1697h132v28h-132zM3518 1697h34v28h-34zM2129 1725h33v28h-33zM2195 1725h33v28h-33zM2063 1753h33v28h-33zM2328 1753h33v28h-33zM2328 1781h33v28h-33zM3518 1865h34v28h-34zM2956 1921h33v29h-33zM3518 1921h67v29h-67zM2096 1978h99v28h-99zM3188 1978h33v28h-33zM3518 1978h34v28h-34zM2261 2006h33v28h-33zM3552 2006h33v28h-33zM2129 2034h33v28h-33zM3552 2034h33v28h-33z"/><path fill="#ffebeb" d="M2328 1247h33v28h-33zM2890 1247h33v28h-33zM2791 1275h33v28h-33zM2923 1275h33v28h-33zM3618 1275h33v28h-33zM3254 1303h33v28h-33zM2725 1331h33v28h-33zM3287 1331h33v28h-33zM2294 1359h34v29h-34zM2625 1359h33v29h-33zM2725 1359h33v29h-33zM2857 1359h33v29h-33zM2890 1388h33v28h-33zM2559 1416h66v28h-66zM2261 1444h33v28h-33zM2361 1528h33v28h-33zM3618 1528h66v28h-66zM3717 1528h33v28h-33zM3651 1584h33v28h-33zM3651 1640h99v29h-99zM2427 1669h33v28h-33zM3618 1669h33v28h-33zM3618 1697h33v28h-33zM3684 1753h33v28h-33zM2195 1893h33v28h-33zM3585 1893h33v28h-33zM2129 1921h33v29h-33zM3618 1978h33v28h-33z"/><path fill="#e0e0ff" d="M2394 1247h33v28h-33zM2493 1275h33v28h-33zM2394 1303h33v28h-33zM2658 1303h33v28h-33zM2758 1331h33v28h-33zM2956 1331h33v28h-33zM3518 1528h34v28h-34zM3485 1584h33v28h-33zM2989 1697h33v28h-33zM2328 1809h33v28h-33zM3485 1809h33v28h-33zM3485 1837h33v28h-33zM2956 1893h33v28h-33z"/><path fill="#ffe6e6" d="M2691 1247h34v28h-34zM2460 1275h33v28h-33zM2691 1303h34v28h-34zM2559 1331h66v28h-66zM3022 1331h33v28h-33zM2526 1359h33v29h-33zM3022 1359h33v29h-33zM2427 1388h33v28h-33zM2261 1416h33v28h-33zM2394 1528h33v28h-33zM3618 1556h33v28h-33zM3684 1556h33v28h-33zM3618 1584h33v28h-33zM3684 1584h33v28h-33zM3684 1612h66v28h-66zM2394 1640h33v29h-33zM3651 1669h33v28h-33zM3717 1669h33v28h-33zM3088 1697h33v28h-33zM3552 1697h33v28h-33zM3651 1697h33v28h-33zM3651 1725h33v28h-33zM3651 1781h33v28h-33zM2989 1837h33v28h-33zM2162 1921h33v29h-33zM2294 1921h34v29h-34zM3155 1921h33v29h-33zM2493 1950h33v28h-33zM3155 1950h33v28h-33zM2361 2034h33v28h-33zM3684 2034h33v28h-33z"/><path fill="#e6e6ff" d="M2791 1247h33v28h-33zM2361 1359h33v29h-33zM2361 1388h33v28h-33zM2824 1388h33v28h-33zM2956 1416h33v28h-33zM3485 1416h33v28h-33zM3518 1556h34v28h-34zM3518 1584h34v28h-34zM3485 1669h33v28h-33zM3485 1725h33v28h-33zM3485 1781h33v28h-33zM2857 1837h33v28h-33zM3485 2006h33v28h-33z"/><path fill="#ededff" d="M2956 1247h33v28h-33zM3088 1275h33v28h-33zM2758 1303h33v28h-33zM2824 1331h33v28h-33zM2658 1359h33v29h-33zM2956 1359h33v29h-33zM2493 1388h33v28h-33zM2758 1472h33v28h-33zM2361 1556h33v28h-33zM2361 1584h33v28h-33zM3518 1612h34v28h-34zM3088 1640h67v29h-67zM3518 1640h34v29h-34zM2956 1865h33v28h-33zM3485 1950h67v28h-67zM2890 2006h33v28h-33zM3188 2006h33v28h-33zM2923 2034h33v28h-33z"/><path fill="#ffeded" d="M2394 1275h33v28h-33zM2725 1275h33v28h-33zM2956 1275h33v28h-33zM2427 1331h33v28h-33zM2559 1359h66v29h-66zM2526 1388h33v28h-33zM3188 1388h33v28h-33zM3386 1444h33v28h-33zM2261 1472h33v28h-33zM3618 1500h66v28h-66zM3717 1584h33v28h-33zM3055 1640h33v29h-33zM3088 1669h33v28h-33zM3717 1697h33v28h-33zM3717 1725h33v28h-33zM3651 1753h33v28h-33zM3684 1781h33v28h-33zM2195 1809h33v28h-33zM3552 1809h66v28h-66zM3684 1809h33v28h-33zM2394 1865h66v28h-66zM3585 1865h33v28h-33zM3684 1865h66v28h-66zM2989 1893h33v28h-33zM2328 1950h33v28h-33zM2361 2006h33v28h-33zM2328 2034h33v28h-33z"/><path fill="#e8e8ff" d="M2989 1275h33v28h-33zM2328 1303h33v28h-33zM3088 1359h33v29h-33zM2658 1388h33v28h-33zM3254 1416h33v28h-33zM2228 1444h33v28h-33zM3552 1528h33v28h-33zM2294 1556h34v28h-34zM3088 1584h33v28h-33zM2361 1640h33v29h-33zM2989 1725h33v28h-33zM3518 1725h34v28h-34zM2361 1865h33v28h-33zM3485 1893h33v28h-33zM2328 1978h33v28h-33z"/><path fill="#f0f0ff" d="M3188 1275h33v28h-33zM3320 1275h33v28h-33zM2559 1303h33v28h-33zM3353 1303h33v28h-33zM2493 1331h33v28h-33zM3320 1359h33v29h-33zM3485 1359h33v29h-33zM3055 1388h33v28h-33zM3585 1388h33v28h-33zM3717 1388h33v28h-33zM2228 1416h33v28h-33zM2361 1416h33v28h-33zM3452 1444h66v28h-66zM3518 1472h34v28h-34zM2129 1500h33v28h-33zM2294 1528h34v28h-34zM2129 1584h33v28h-33zM2162 1612h33v28h-33zM2361 1612h33v28h-33zM2195 1640h33v29h-33zM3155 1809h33v28h-33zM2261 1950h33v28h-33zM3188 2034h33v28h-33zM3518 2034h34v28h-34z"/><path fill="#fcc" d="M2261 1359h33v29h-33zM3684 1472h33v28h-33zM2394 1669h33v28h-33zM3055 1725h66v28h-66zM2460 1753h33v28h-33zM2427 1809h33v28h-33zM3022 1809h33v28h-33zM2294 1837h34v28h-34z"/><path fill="#c9c9ff" d="M2328 1359h33v29h-33z"/><path fill="#ffd6d6" d="M2427 1359h33v29h-33zM3585 1472h33v28h-33zM3684 1528h33v28h-33zM2427 1584h33v28h-33zM2427 1612h33v28h-33zM3618 1612h33v28h-33zM2427 1725h66v28h-66zM3022 1725h33v28h-33zM2493 1753h33v28h-33zM3121 1753h34v28h-34zM2394 1781h33v28h-33zM2261 1837h33v28h-33zM2824 1865h33v28h-33zM2493 1893h33v28h-33zM2394 1921h33v29h-33zM2989 1921h33v29h-33zM2427 1950h66v28h-66zM2460 2006h33v28h-33z"/><path fill="#dedeff" d="M2493 1359h33v29h-33zM2691 1359h34v29h-34zM2460 1388h33v28h-33zM2824 1416h66v28h-66zM2361 1444h33v28h-33zM2791 1556h33v28h-33zM2328 1640h33v29h-33zM3485 1697h33v28h-33zM2328 1725h33v28h-33zM3452 1725h33v28h-33zM2294 1753h34v28h-34zM2890 1921h33v29h-33zM2890 1950h33v28h-33zM3188 1950h33v28h-33z"/><path fill="#ffd1d1" d="M2791 1388h33v28h-33zM2526 1444h33v28h-33zM2427 1640h66v29h-66zM2460 1697h33v28h-33zM3022 1753h33v28h-33zM2493 2034h33v28h-33z"/><path fill="#fffcfc" d="M2096 1416h33v28h-33zM2195 1416h33v28h-33zM2063 1444h33v28h-33z"/><path fill="#d1d1ff" d="M2493 1416h33v28h-33zM2328 1472h33v28h-33zM3121 1612h34v28h-34zM3155 1697h33v28h-33zM2956 1781h33v28h-33zM2923 1921h33v29h-33z"/><path fill="#ffdede" d="M2625 1416h33v28h-33zM2394 1556h33v28h-33zM3055 1669h33v28h-33zM3684 1697h33v28h-33zM3618 1809h33v28h-33zM3155 1837h33v28h-33zM3684 1837h33v28h-33zM2394 1893h33v28h-33zM3155 1893h33v28h-33zM2427 1921h33v29h-33zM3684 1921h33v29h-33zM3155 1978h33v28h-33zM2394 2034h33v28h-33zM3618 2034h33v28h-33z"/><path fill="#ffb0b0" d="M2559 1444h33v28h-33zM2460 1500h33v28h-33zM2493 1528h33v28h-33zM3088 1781h33v28h-33zM3088 1865h33v28h-33zM3022 1893h33v28h-33z"/><path fill="#ffa6a6" d="M2592 1444h33v28h-33zM2460 1472h33v28h-33z"/><path fill="#ff8080" d="M2625 1444h33v28h-33zM3055 1950h33v28h-33zM2559 1978h33v28h-33zM3088 1978h33v28h-33z"/><path fill="#ffc2c2" d="M2658 1444h33v28h-33zM2427 1528h33v28h-33zM2427 1556h33v28h-33zM2460 1669h33v28h-33zM2791 1669h33v28h-33zM3088 1753h33v28h-33zM2493 1978h33v28h-33zM2989 2006h33v28h-33z"/><path fill="#dbdbff" d="M2725 1444h33v28h-33zM3485 1865h33v28h-33zM2328 1921h33v29h-33z"/><path fill="#8080ff" d="M2758 1444h33v28h-33zM3221 1781h33v28h-33zM3353 1865h33v28h-33zM3287 1950h33v28h-33zM3320 2034h33v28h-33z"/><path fill="#1f1fff" d="M2791 1444h33v28h-33zM3320 1556h33v28h-33zM3254 1612h33v28h-33z"/><path fill="#0000c2" d="M2824 1444h33v28h-33z"/><path fill="#0000a0" d="M2857 1444h33v28h-33z"/><path fill="#0000d8" d="M2890 1444h33v28h-33zM3188 1500h33v28h-33zM3287 1500h66v28h-66zM2890 1556h33v28h-33zM3254 1556h33v28h-33z"/><path fill="#0000fb" d="M2923 1444h33v28h-33zM3055 1472h33v28h-33zM2956 1528h33v28h-33zM3254 1584h33v28h-33z"/><path fill="#5c5cff" d="M2956 1444h33v28h-33z"/><path fill="#9191ff" d="M2989 1444h33v28h-33zM3452 1500h66v28h-66zM3386 1893h33v28h-33z"/><path fill="#d6d6ff" d="M3022 1444h66v28h-66zM3353 1444h33v28h-33zM3022 1584h33v28h-33zM3485 1640h33v29h-33zM2989 1669h33v28h-33zM3188 1837h33v28h-33zM2857 1865h33v28h-33zM3188 1865h33v28h-33zM3485 1921h33v29h-33zM2890 1978h33v28h-33zM3452 1978h33v28h-33zM2923 2006h33v28h-33zM3485 2034h33v28h-33z"/><path fill="#ababff" d="M3088 1444h67v28h-67zM2791 1528h33v28h-33zM3088 1528h33v28h-33zM3155 1612h33v28h-33zM2824 1640h33v29h-33zM3419 1669h33v28h-33zM3188 1753h33v28h-33zM3287 2034h33v28h-33zM3419 2034h33v28h-33z"/><path fill="#6e6eff" d="M3155 1444h33v28h-33zM2923 1697h33v28h-33z"/><path fill="#7a7aff" d="M3188 1444h33v28h-33zM3221 1753h33v28h-33zM3353 1781h33v28h-33zM3353 1921h33v29h-33zM3320 1978h33v28h-33z"/><path fill="#6363ff" d="M3221 1444h33v28h-33zM3088 1500h33v28h-33zM2989 1528h33v28h-33zM3386 1528h33v28h-33zM3155 1556h33v28h-33zM3254 1753h33v28h-33z"/><path fill="#7d7dff" d="M3254 1444h33v28h-33zM2989 1556h33v28h-33zM3386 1612h33v28h-33zM3287 1809h33v28h-33zM3353 1978h33v28h-33zM3287 2006h33v28h-33zM3353 2034h33v28h-33z"/><path fill="#00f" d="M3287 1444h33v28h-33z"/><path fill="#4f4fff" d="M3320 1444h33v28h-33zM3221 1640h33v29h-33zM2923 1669h33v28h-33zM3221 1669h33v28h-33zM3254 1725h33v28h-33z"/><path fill="#ffdbdb" d="M2294 1472h34v28h-34zM2394 1697h33v28h-33zM2493 1809h33v28h-33zM2824 1893h33v28h-33zM2460 1921h33v29h-33zM2493 2006h33v28h-33z"/><path fill="#ffc7c7" d="M2427 1472h33v28h-33zM3651 1472h33v28h-33zM2427 1500h33v28h-33zM2427 1697h33v28h-33zM2493 1697h33v28h-33zM2460 1837h66v28h-66zM2493 1865h33v28h-33zM3121 1865h34v28h-34zM2493 1921h33v29h-33zM2989 1950h33v28h-33zM2460 1978h33v28h-33zM2526 2006h33v28h-33z"/><path fill="#ffa8a8" d="M2493 1472h33v28h-33zM2526 1725h33v28h-33zM2526 1753h33v28h-33zM3022 2034h33v28h-33z"/><path fill="#ff8282" d="M2526 1472h33v28h-33zM2791 1725h33v28h-33z"/><path fill="#ff3838" d="M2559 1472h33v28h-33zM2559 1500h33v28h-33zM2691 1528h34v28h-34z"/><path fill="#f33" d="M2592 1472h33v28h-33zM2592 1528h33v28h-33zM2725 1556h33v28h-33zM2791 1921h33v29h-33zM2658 1978h33v28h-33z"/><path fill="#fe0000" d="M2625 1472h33v28h-33zM2725 1893h33v28h-33z"/><path fill="#ff1212" d="M2658 1472h33v28h-33zM2625 1669h33v28h-33zM2625 1781h33v28h-33zM2691 1781h34v28h-34zM2658 1837h33v28h-33zM2658 1921h33v29h-33z"/><path fill="#ff2626" d="M2691 1472h34v28h-34zM2592 1500h33v28h-33zM2658 1612h33v28h-33zM2725 1669h33v28h-33zM2725 1725h33v28h-33z"/><path fill="#ff6363" d="M2725 1472h33v28h-33zM2559 1725h33v28h-33zM2791 1809h33v28h-33zM2592 1950h33v28h-33zM2592 1978h33v28h-33z"/><path fill="#6969ff" d="M2791 1472h33v28h-33zM3188 1612h33v28h-33zM3353 1697h33v28h-33zM3353 1725h33v28h-33zM3287 1753h33v28h-33zM3287 1837h33v28h-33z"/><path fill="#0000bf" d="M2824 1472h33v28h-33zM2989 1472h33v28h-33zM3221 1500h33v28h-33z"/><path fill="#000050" d="M2857 1472h99v28h-99z"/><path fill="#00007d" d="M2956 1472h33v28h-33zM3287 1472h33v28h-33z"/><path fill="#1212ff" d="M3022 1472h33v28h-33z"/><path fill="#0505ff" d="M3088 1472h33v28h-33zM3353 1500h33v28h-33z"/><path fill="#0000e1" d="M3121 1472h34v28h-34zM3254 1528h33v28h-33z"/><path fill="#0000c8" d="M3155 1472h33v28h-33z"/><path fill="#00008d" d="M3188 1472h33v28h-33z"/><path fill="#007" d="M3221 1472h33v28h-33z"/><path fill="#000064" d="M3254 1472h33v28h-33z"/><path fill="#0000b4" d="M3320 1472h33v28h-33zM3254 1500h33v28h-33zM2923 1528h33v28h-33z"/><path fill="#000096" d="M3353 1472h33v28h-33zM2890 1500h33v28h-33z"/><path fill="#0000e6" d="M3386 1472h33v28h-33zM3320 1528h33v28h-33z"/><path fill="#0000e8" d="M3419 1472h33v28h-33z"/><path fill="#0000fa" d="M3452 1472h33v28h-33zM2824 1500h33v28h-33zM3221 1556h33v28h-33zM2923 1584h33v28h-33z"/><path fill="#8787ff" d="M3485 1472h33v28h-33zM2824 1612h33v28h-33zM2956 1640h33v29h-33zM3188 1697h33v28h-33zM3386 1697h33v28h-33zM2923 1725h33v28h-33zM3254 1893h33v28h-33zM3287 1921h33v29h-33zM3287 1978h33v28h-33zM3353 2006h33v28h-33z"/><path fill="#ffb8b8" d="M3618 1472h33v28h-33zM2460 1612h33v28h-33zM3022 1781h33v28h-33z"/><path fill="#ffabab" d="M2493 1500h33v28h-33zM2460 1556h33v28h-33zM2758 1556h33v28h-33zM2493 1669h33v28h-33zM2526 1809h33v28h-33zM3121 1837h34v28h-34zM3022 1950h33v28h-33z"/><path fill="#ff7d7d" d="M2526 1500h33v28h-33zM2791 1753h33v28h-33zM3055 1978h33v28h-33zM3088 2006h33v28h-33z"/><path fill="#f70000" d="M2625 1500h33v28h-33zM2658 1528h33v28h-33zM2625 1640h33v29h-33zM2625 1697h33v28h-33zM2691 1753h34v28h-34zM2658 1809h33v28h-33zM2691 1950h34v28h-34zM2758 2034h33v28h-33z"/><path fill="#fc0000" d="M2658 1500h33v28h-33zM2691 1669h34v28h-34zM2691 1725h34v28h-34zM2725 1781h33v28h-33zM2691 1893h34v28h-34zM2758 1950h33v28h-33z"/><path fill="#ff1f1f" d="M2691 1500h34v28h-34zM2758 1837h33v28h-33zM2625 1921h33v29h-33z"/><path fill="#ff5252" d="M2725 1500h33v28h-33z"/><path fill="#a6a6ff" d="M2791 1500h33v28h-33zM3419 1697h33v28h-33zM3188 1725h33v28h-33zM2923 1753h33v28h-33z"/><path fill="#0000a6" d="M2857 1500h33v28h-33z"/><path fill="#00009b" d="M2923 1500h33v28h-33z"/><path fill="#0000eb" d="M2956 1500h33v28h-33zM3221 1528h33v28h-33zM2923 1556h33v28h-33z"/><path fill="#2929ff" d="M2989 1500h33v28h-33zM3221 1612h33v28h-33z"/><path fill="#7373ff" d="M3022 1500h33v28h-33zM2956 1612h33v28h-33zM2857 1669h33v28h-33zM3353 1893h33v28h-33z"/><path fill="#7878ff" d="M3055 1500h33v28h-33zM2890 1725h33v28h-33zM3320 1921h33v29h-33zM3353 1950h33v28h-33z"/><path fill="#3d3dff" d="M3121 1500h34v28h-34zM3155 1528h33v28h-33zM2857 1640h33v29h-33zM3287 1640h33v29h-33zM3320 1669h33v28h-33zM3320 1697h33v28h-33z"/><path fill="#0f0fff" d="M3155 1500h33v28h-33zM3353 1556h33v28h-33z"/><path fill="#4a4aff" d="M3386 1500h66v28h-66zM3287 1669h33v28h-33zM3287 1697h33v28h-33z"/><path fill="#ccf" d="M3518 1500h34v28h-34zM2328 1893h33v28h-33zM3188 1893h33v28h-33zM3452 1921h33v29h-33zM3452 1950h33v28h-33zM3221 2034h33v28h-33zM3452 2034h33v28h-33z"/><path fill="#e3e3ff" d="M3552 1500h33v28h-33zM2956 1837h33v28h-33zM3188 1921h33v29h-33z"/><path fill="#ffc9c9" d="M2460 1528h33v28h-33z"/><path fill="#ff8c8c" d="M2526 1528h33v28h-33zM2526 1697h33v28h-33zM2526 1893h33v28h-33zM2526 1921h33v29h-33zM2559 2006h33v28h-33z"/><path fill="#ff3d3d" d="M2559 1528h33v28h-33zM2592 1556h33v28h-33zM2592 1584h33v28h-33zM2592 1612h33v28h-33zM2725 1612h33v28h-33zM2725 1640h33v29h-33zM2592 1809h33v28h-33z"/><path fill="#f90000" d="M2625 1528h33v28h-33z"/><path fill="#ff3b3b" d="M2725 1528h33v28h-33zM2791 2006h33v28h-33z"/><path fill="#ffbfbf" d="M2758 1528h33v28h-33zM2824 1950h33v28h-33z"/><path fill="#0d0dff" d="M2824 1528h33v28h-33z"/><path fill="#0000db" d="M2857 1528h33v28h-33zM3287 1528h33v28h-33zM2857 1556h33v28h-33z"/><path fill="#0000af" d="M2890 1528h33v28h-33z"/><path fill="#a1a1ff" d="M3022 1528h33v28h-33zM3452 1528h33v28h-33zM3419 1612h33v28h-33zM2956 1697h33v28h-33zM2857 1725h33v28h-33zM3386 1781h33v28h-33zM3386 1921h33v29h-33zM3386 2006h33v28h-33zM3386 2034h33v28h-33z"/><path fill="#b2b2ff" d="M3055 1528h33v28h-33zM3155 1669h33v28h-33zM3221 1921h33v29h-33zM3419 1950h33v28h-33zM3419 1978h33v28h-33z"/><path fill="#8282ff" d="M3121 1528h34v28h-34zM3155 1584h33v28h-33zM3386 1640h33v29h-33zM3320 1809h33v28h-33zM3353 1837h33v28h-33z"/><path fill="#0000f4" d="M3188 1528h33v28h-33zM3287 1556h33v28h-33z"/><path fill="#1919ff" d="M3353 1528h33v28h-33zM3287 1584h33v28h-33z"/><path fill="#7070ff" d="M3419 1528h33v28h-33zM3221 1725h33v28h-33zM3254 1781h33v28h-33zM3320 1893h33v28h-33zM3320 1950h33v28h-33z"/><path fill="#c2c2ff" d="M3485 1528h33v28h-33zM3485 1556h33v28h-33zM2989 1640h33v29h-33zM3452 1753h33v28h-33zM3188 1781h33v28h-33zM2890 1865h33v28h-33z"/><path fill="#ffa1a1" d="M2493 1556h33v28h-33zM2758 1584h33v28h-33zM3055 1809h33v28h-33zM2526 1865h33v28h-33z"/><path fill="#ff7070" d="M2526 1556h33v28h-33zM2559 1865h33v28h-33z"/><path fill="#ff5454" d="M2559 1556h33v28h-33zM2758 1640h33v29h-33zM2559 1809h33v28h-33z"/><path fill="#f50000" d="M2625 1556h33v28h-33zM2725 1921h33v29h-33zM2725 1978h33v28h-33zM2758 2006h33v28h-33zM2725 2034h33v28h-33z"/><path fill="#f00" d="M2658 1556h33v28h-33zM2658 1584h33v28h-33zM2625 1612h33v28h-33zM2691 1612h34v28h-34zM2691 1640h34v29h-34zM2625 1725h33v28h-33zM2725 1753h33v28h-33zM2691 1809h34v28h-34zM2691 1865h100v28h-100zM2758 1921h33v29h-33zM2625 1950h66v28h-66zM2691 2034h34v28h-34z"/><path fill="#ff1c1c" d="M2691 1556h34v28h-34zM2691 1584h34v28h-34zM2658 1781h33v28h-33z"/><path fill="#4545ff" d="M2824 1556h33v28h-33zM3188 1584h33v28h-33zM3353 1612h33v28h-33z"/><path fill="#3030ff" d="M2956 1556h33v28h-33zM2890 1640h33v29h-33z"/><path fill="#b0b0ff" d="M3022 1556h33v28h-33zM3088 1556h33v28h-33zM3452 1556h33v28h-33zM2989 1612h33v28h-33zM3155 1640h33v29h-33zM3419 1753h33v28h-33zM2923 1809h33v28h-33zM3419 1809h33v28h-33zM2923 1865h33v28h-33zM2890 1893h33v28h-33z"/><path fill="#c7c7ff" d="M3055 1556h33v28h-33zM3121 1584h34v28h-34zM3452 1612h33v28h-33zM3452 1669h33v28h-33zM2328 1697h33v28h-33zM3452 1697h33v28h-33zM2956 1725h33v28h-33zM2956 1753h33v28h-33zM3452 1781h33v28h-33zM2890 1837h33v28h-33zM3452 1837h33v28h-33zM2328 1865h33v28h-33zM3452 1865h33v28h-33zM2857 1893h33v28h-33zM3452 1893h33v28h-33zM3452 2006h33v28h-33z"/><path fill="#9696ff" d="M3121 1556h34v28h-34zM3419 1640h33v29h-33zM3221 1809h33v28h-33zM3386 1809h33v28h-33zM3221 1837h33v28h-33zM3386 1837h33v28h-33z"/><path fill="#3838ff" d="M3188 1556h33v28h-33zM2857 1612h33v28h-33zM3254 1669h33v28h-33z"/><path fill="#5959ff" d="M3386 1556h33v28h-33zM2890 1669h33v28h-33zM3320 1781h33v28h-33z"/><path fill="#8c8cff" d="M3419 1556h33v28h-33zM2956 1669h33v28h-33zM3353 1809h33v28h-33z"/><path fill="#ffbaba" d="M2394 1584h33v28h-33zM2493 1640h33v29h-33zM3055 1753h33v28h-33zM3022 1837h33v28h-33zM2824 1921h33v29h-33zM3121 1921h34v29h-34zM2824 2034h33v28h-33z"/><path fill="#ffb2b2" d="M2460 1584h33v28h-33zM2526 1781h33v28h-33zM2526 1950h33v28h-33zM2526 2034h33v28h-33z"/><path fill="#ffa3a3" d="M2493 1584h33v28h-33zM2526 1837h33v28h-33zM3055 1893h33v28h-33zM3121 1950h34v28h-34z"/><path fill="#ff9494" d="M2526 1584h33v28h-33zM2526 1612h33v28h-33zM2758 1612h33v28h-33zM2526 1669h33v28h-33zM2559 1893h33v28h-33zM2559 1921h33v29h-33zM3022 2006h33v28h-33z"/><path fill="#ff5c5c" d="M2559 1584h33v28h-33z"/><path fill="#ff0505" d="M2625 1584h33v28h-33zM2625 1865h33v28h-33zM2725 1950h33v28h-33z"/><path fill="#ff1717" d="M2725 1584h33v28h-33zM2725 1697h33v28h-33zM2758 1809h33v28h-33zM2758 1893h33v28h-33z"/><path fill="#7575ff" d="M2824 1584h33v28h-33zM3353 1753h33v28h-33zM3254 1809h33v28h-33zM3320 2006h33v28h-33z"/><path fill="#0a0aff" d="M2857 1584h33v28h-33z"/><path fill="#0000f1" d="M2890 1584h33v28h-33z"/><path fill="#5252ff" d="M2956 1584h33v28h-33zM2890 1697h33v28h-33z"/><path fill="#9494ff" d="M2989 1584h33v28h-33zM3419 1584h33v28h-33zM2890 1753h33v28h-33zM3254 1921h33v29h-33zM3254 1950h33v28h-33z"/><path fill="#2424ff" d="M3221 1584h33v28h-33zM2923 1612h33v28h-33zM3254 1640h33v29h-33z"/><path fill="#1c1cff" d="M3320 1584h33v28h-33zM2890 1612h33v28h-33z"/><path fill="#33f" d="M3353 1584h33v28h-33zM2923 1640h33v29h-33zM3320 1640h33v29h-33z"/><path fill="#5e5eff" d="M3386 1584h33v28h-33zM3353 1640h33v29h-33zM3353 1669h33v28h-33zM3320 1725h33v28h-33zM3320 1865h33v28h-33z"/><path fill="#b5b5ff" d="M3452 1584h33v28h-33zM3419 1781h33v28h-33zM2923 1837h33v28h-33zM3419 1837h33v28h-33zM3419 1865h33v28h-33zM3221 2006h33v28h-33zM3419 2006h33v28h-33z"/><path fill="#ff9e9e" d="M2493 1612h33v28h-33zM3088 1837h33v28h-33zM3055 1865h33v28h-33zM3088 1893h33v28h-33zM3088 1921h33v29h-33zM3121 2034h34v28h-34z"/><path fill="#ff5959" d="M2559 1612h33v28h-33zM2559 1781h66v28h-66zM2791 1837h33v28h-33z"/><path fill="#2626ff" d="M3287 1612h33v28h-33z"/><path fill="#3b3bff" d="M3320 1612h33v28h-33z"/><path fill="#d9d9ff" d="M3485 1612h33v28h-33zM2824 1725h33v28h-33zM3155 1725h33v28h-33zM2923 1950h33v28h-33z"/><path fill="#ff9696" d="M2526 1640h33v29h-33z"/><path fill="#ff6969" d="M2559 1640h33v29h-33zM2559 1669h33v28h-33zM2559 1753h33v28h-33z"/><path fill="#ff4545" d="M2592 1640h33v29h-33zM2791 1865h33v28h-33z"/><path fill="#ff0f0f" d="M2658 1640h33v29h-33zM2625 1978h33v28h-33zM2625 2006h33v28h-33zM2625 2034h33v28h-33z"/><path fill="#8585ff" d="M3188 1640h33v29h-33zM3188 1669h33v28h-33zM3386 1669h33v28h-33zM3254 1837h33v28h-33zM3254 1865h33v28h-33z"/><path fill="#babaff" d="M3452 1640h33v29h-33zM3419 1725h33v28h-33zM2857 1753h33v28h-33zM3188 1809h33v28h-33zM3419 1893h33v28h-33zM3221 1950h33v28h-33z"/><path fill="#ffe3e3" d="M3618 1640h33v29h-33zM3618 1725h33v28h-33zM3618 1781h33v28h-33zM3651 1809h33v28h-33zM3651 1865h33v28h-33zM3651 2006h66v28h-66zM2956 2034h33v28h-33z"/><path fill="#ff1919" d="M2592 1669h33v28h-33zM2658 2034h33v28h-33z"/><path fill="#fb0000" d="M2658 1669h33v28h-33zM2658 1753h33v28h-33zM2725 1837h33v28h-33zM2658 1865h33v28h-33z"/><path fill="#ff7878" d="M2758 1669h33v28h-33z"/><path fill="#bfbfff" d="M2824 1669h33v28h-33zM2824 1697h33v28h-33zM2857 1809h33v28h-33zM2923 1893h33v28h-33zM3221 1978h33v28h-33z"/><path fill="#ffd9d9" d="M3684 1669h33v28h-33zM2261 1697h33v28h-33zM3618 1753h33v28h-33zM3121 1781h34v28h-34zM2989 1865h33v28h-33zM3684 1950h33v28h-33z"/><path fill="#ff5e5e" d="M2559 1697h33v28h-33zM2592 1865h33v28h-33z"/><path fill="#ff4040" d="M2592 1697h33v28h-33zM2658 1725h33v28h-33zM2592 1837h33v28h-33zM2592 1893h33v28h-33z"/><path fill="#ff2929" d="M2658 1697h33v28h-33zM2625 1753h33v28h-33zM2758 1753h33v28h-33zM2758 1781h33v28h-33z"/><path fill="#ff0808" d="M2691 1697h34v28h-34zM2691 1921h34v29h-34zM2691 1978h34v28h-34zM2758 1978h33v28h-33z"/><path fill="#ff4747" d="M2758 1697h33v28h-33zM2592 1921h33v29h-33zM2791 1978h33v28h-33z"/><path fill="#ffbdbd" d="M2791 1697h33v28h-33zM2493 1725h33v28h-33z"/><path fill="#66f" d="M2857 1697h33v28h-33z"/><path fill="#6161ff" d="M3221 1697h33v28h-33z"/><path fill="#4747ff" d="M3254 1697h33v28h-33zM3287 1725h33v28h-33z"/><path fill="#ff4a4a" d="M2592 1725h33v28h-33zM2791 1893h33v28h-33zM2592 2006h33v28h-33zM2592 2034h33v28h-33z"/><path fill="#ff4f4f" d="M2758 1725h33v28h-33z"/><path fill="#8a8aff" d="M3386 1725h33v28h-33zM3287 1865h33v28h-33zM3287 1893h33v28h-33z"/><path fill="#ff6161" d="M2592 1753h33v28h-33z"/><path fill="#5454ff" d="M3320 1753h33v28h-33z"/><path fill="#8f8fff" d="M3386 1753h33v28h-33zM3254 2034h33v28h-33z"/><path fill="#d4d4ff" d="M3485 1753h33v28h-33zM3452 1809h33v28h-33zM2328 1837h33v28h-33zM2923 1978h33v28h-33z"/><path fill="#ff7373" d="M2791 1781h33v28h-33zM2559 1837h33v28h-33zM2559 2034h33v28h-33zM3055 2034h33v28h-33z"/><path fill="#9c9cff" d="M2857 1781h33v28h-33zM3221 1865h33v28h-33zM3221 1893h33v28h-33zM3386 1950h33v28h-33zM3386 1978h33v28h-33zM3254 2006h33v28h-33z"/><path fill="#a8a8ff" d="M2890 1781h33v28h-33z"/><path fill="#a3a3ff" d="M2923 1781h33v28h-33zM2890 1809h33v28h-33z"/><path fill="#ffadad" d="M3055 1781h33v28h-33zM3055 1837h33v28h-33zM3022 1865h33v28h-33z"/><path fill="#6b6bff" d="M3287 1781h33v28h-33zM3320 1837h33v28h-33z"/><path fill="#ffcfcf" d="M2361 1809h33v28h-33zM2989 1978h33v28h-33zM2427 2006h33v28h-33zM2989 2034h33v28h-33zM3155 2034h33v28h-33z"/><path fill="#ff0a0a" d="M2625 1809h33v28h-33z"/><path fill="#fa0000" d="M2725 1809h33v28h-33zM2691 1837h34v28h-34z"/><path fill="#ffb5b5" d="M3088 1809h67v28h-67zM3121 1893h34v28h-34z"/><path fill="#ff1414" d="M2625 1837h33v28h-33z"/><path fill="#ffd4d4" d="M2824 1837h33v28h-33zM2460 1865h33v28h-33z"/><path fill="#99f" d="M3386 1865h33v28h-33z"/><path fill="#ff2424" d="M2625 1893h33v28h-33zM2791 1950h33v28h-33zM2791 2034h33v28h-33z"/><path fill="#ff2e2e" d="M2658 1893h33v28h-33z"/><path fill="#f99" d="M3022 1921h66v29h-66zM3088 1950h33v28h-33zM2526 1978h33v28h-33z"/><path fill="#bdbdff" d="M3419 1921h33v29h-33z"/><path fill="#ff6e6e" d="M2559 1950h33v28h-33z"/><path fill="#ff9c9c" d="M2824 1978h33v28h-33zM3022 1978h33v28h-33zM3121 1978h34v28h-34zM3121 2006h34v28h-34z"/><path fill="#9e9eff" d="M3254 1978h33v28h-33z"/><path fill="#c4c4ff" d="M2328 2006h33v28h-33z"/><path fill="#ff3030" d="M2658 2006h33v28h-33z"/><path fill="#f60000" d="M2691 2006h34v28h-34z"/><path fill="#f00000" d="M2725 2006h33v28h-33z"/><path fill="#ff8f8f" d="M2824 2006h33v28h-33z"/><path fill="#ff8585" d="M3055 2006h33v28h-33z"/><path fill="#ff7575" d="M3088 2034h33v28h-33z"/></g><g shape-rendering="crispEdges"><path fill="#fdfdff" d="M2063 2137h33v28h-33zM2824 2137h33v28h-33zM3452 2137h33v28h-33zM3518 2137h34v28h-34zM2989 2165h66v28h-66zM3320 2165h33v28h-33zM3717 2165h33v28h-33zM3088 2193h33v28h-33zM2658 2221h33v28h-33zM2824 2221h33v28h-33zM3155 2221h33v28h-33zM3386 2221h33v28h-33zM3518 2221h34v28h-34zM3221 2249h33v29h-33zM2195 2278h33v28h-33zM3419 2278h33v28h-33zM3717 2278h33v28h-33zM3485 2306h100v28h-100zM2228 2334h33v28h-33zM2162 2362h33v28h-33zM2228 2362h33v28h-33zM2063 2390h66v28h-66zM2162 2390h33v28h-33zM2096 2418h33v28h-33zM2096 2503h33v28h-33zM2195 2503h33v28h-33zM3552 2531h33v28h-33zM2294 2559h34v28h-34zM3552 2559h33v28h-33zM2195 2587h33v28h-33zM2294 2587h34v28h-34zM2195 2615h33v28h-33zM2294 2615h34v28h-34zM3121 2615h34v28h-34zM2129 2643h99v28h-99zM2328 2728h33v28h-33zM2228 2868h66v29h-66zM2129 2897h99v28h-99zM2294 2925h34v28h-34zM3552 2925h33v28h-33z"/><path fill="#fffcfc" d="M2129 2137h66v28h-66zM2294 2165h34v28h-34zM2592 2165h33v28h-33zM2857 2165h33v28h-33zM2923 2165h33v28h-33zM3618 2165h33v28h-33zM2460 2193h33v28h-33zM2890 2193h33v28h-33zM3552 2193h33v28h-33zM3651 2193h33v28h-33zM2427 2221h33v28h-33zM2592 2221h33v28h-33zM2890 2221h33v28h-33zM3121 2221h34v28h-34zM3585 2221h33v28h-33zM2725 2249h33v29h-33zM3254 2249h33v29h-33zM2096 2278h33v28h-33zM2096 2306h33v28h-33zM2063 2334h33v28h-33zM2228 2390h33v28h-33zM3055 2559h33v28h-33zM2063 2587h33v28h-33zM2063 2615h33v28h-33zM2228 2615h33v28h-33zM2261 2643h33v28h-33zM2228 2671h33v29h-33zM2361 2671h33v29h-33zM2063 2728h33v28h-33zM2129 2728h33v28h-33zM2129 2756h33v28h-33zM2228 2756h33v28h-33zM2195 2784h33v28h-33zM2228 2812h33v28h-33zM2063 2840h66v28h-66zM2361 2840h33v28h-33zM2162 2868h33v29h-33zM2063 2953h33v28h-33z"/><path fill="#fffdfd" d="M2195 2137h66v28h-66zM2328 2137h33v28h-33zM2427 2137h33v28h-33zM2791 2137h33v28h-33zM2063 2165h33v28h-33zM2824 2165h33v28h-33zM3585 2165h33v28h-33zM2592 2193h33v28h-33zM2956 2193h33v28h-33zM3254 2193h33v28h-33zM3386 2193h33v28h-33zM2063 2221h33v28h-33zM2460 2221h33v28h-33zM2625 2221h33v28h-33zM3287 2221h33v28h-33zM3684 2221h33v28h-33zM2096 2249h33v29h-33zM2857 2278h33v28h-33zM2923 2278h33v28h-33zM3188 2278h33v28h-33zM3287 2278h33v28h-33zM3585 2278h33v28h-33zM3684 2278h33v28h-33zM2129 2306h33v28h-33zM2725 2306h33v28h-33zM3452 2306h33v28h-33zM3585 2334h33v28h-33zM2361 2503h33v28h-33zM2063 2531h33v28h-33zM2063 2559h33v28h-33zM2261 2559h33v28h-33zM2228 2587h33v28h-33zM2063 2643h33v28h-33zM2228 2643h33v28h-33zM2096 2728h33v28h-33zM3155 2728h33v28h-33zM2063 2756h33v28h-33zM2195 2756h33v28h-33zM2096 2812h33v28h-33zM3552 2812h33v28h-33zM2228 2840h33v28h-33zM2129 2868h33v29h-33zM2063 2897h33v28h-33zM2195 2925h33v28h-33zM2162 2953h33v28h-33z"/><path fill="#fcfcff" d="M2294 2137h34v28h-34zM2857 2137h33v28h-33zM3121 2137h100v28h-100zM3088 2165h33v28h-33zM2956 2221h33v28h-33zM3452 2221h66v28h-66zM2758 2249h33v29h-33zM2857 2249h33v29h-33zM3188 2249h33v29h-33zM3419 2249h66v29h-66zM3518 2249h34v29h-34zM3485 2278h33v28h-33zM2658 2306h33v28h-33zM2890 2306h33v28h-33zM3221 2306h33v28h-33zM2096 2362h33v28h-33zM2195 2390h33v28h-33zM2162 2418h33v28h-33zM2328 2418h33v28h-33zM2162 2503h33v28h-33zM3552 2503h33v28h-33zM2129 2587h66v28h-66zM2361 2615h33v28h-33zM3552 2897h33v28h-33zM2890 2953h33v28h-33zM3552 2953h33v28h-33z"/><path fill="#fff4f4" d="M2361 2137h33v28h-33zM2625 2278h33v28h-33zM2261 2418h33v28h-33zM2294 2728h34v28h-34zM2162 2840h33v28h-33z"/><path fill="#fff5f5" d="M2394 2137h33v28h-33zM3022 2221h33v28h-33zM2261 2306h33v28h-33zM2427 2306h33v28h-33zM3717 2362h33v28h-33zM3585 2503h33v28h-33zM3088 2587h33v28h-33zM2824 2671h33v29h-33zM2361 2700h33v28h-33zM3585 2925h33v28h-33zM2228 2953h33v28h-33z"/><path fill="#fefeff" d="M2493 2137h99v28h-99zM3353 2137h33v28h-33zM3419 2137h33v28h-33zM3485 2137h33v28h-33zM3585 2137h33v28h-33zM3651 2137h33v28h-33zM2129 2165h33v28h-33zM2956 2165h33v28h-33zM3221 2165h33v28h-33zM3287 2165h33v28h-33zM3353 2165h33v28h-33zM3419 2165h33v28h-33zM3518 2165h34v28h-34zM3684 2165h33v28h-33zM2129 2193h99v28h-99zM2989 2193h33v28h-33zM3221 2193h33v28h-33zM3287 2193h33v28h-33zM3353 2193h33v28h-33zM3452 2193h66v28h-66zM2195 2221h33v28h-33zM2394 2221h33v28h-33zM2526 2221h33v28h-33zM3419 2221h33v28h-33zM2294 2249h34v29h-34zM2361 2249h33v29h-33zM2658 2249h67v29h-67zM2791 2249h33v29h-33zM3155 2249h33v29h-33zM3552 2249h33v29h-33zM2824 2278h33v28h-33zM3055 2278h33v28h-33zM3452 2278h33v28h-33zM3518 2278h67v28h-67zM3155 2306h33v28h-33zM2162 2334h33v28h-33zM2394 2334h33v28h-33zM3552 2334h33v28h-33zM2063 2362h33v28h-33zM2129 2362h33v28h-33zM2129 2390h33v28h-33zM2063 2418h33v28h-33zM2195 2418h33v28h-33zM2129 2446h66v29h-66zM2328 2446h33v29h-33zM2129 2475h33v28h-33zM2195 2475h33v28h-33zM2096 2531h33v28h-33zM2228 2559h33v28h-33zM2096 2587h33v28h-33zM2361 2587h33v28h-33zM2096 2615h33v28h-33zM2361 2643h33v28h-33zM2063 2671h132v29h-132zM2989 2671h33v29h-33zM2261 2812h33v28h-33zM3552 2840h33v28h-33zM2096 2897h33v28h-33zM2294 2897h34v28h-34zM2129 2925h33v28h-33zM2129 2953h33v28h-33z"/><path fill="#fffafa" d="M2625 2137h100v28h-100zM2923 2137h33v28h-33zM2625 2165h33v28h-33zM2758 2165h33v28h-33zM2890 2165h33v28h-33zM2063 2193h33v28h-33zM3022 2193h33v28h-33zM2691 2221h34v28h-34zM3618 2221h33v28h-33zM2063 2249h33v29h-33zM2228 2249h33v29h-33zM2526 2249h33v29h-33zM3651 2278h33v28h-33zM3618 2306h33v28h-33zM2228 2418h33v28h-33zM2063 2503h33v28h-33zM2261 2587h33v28h-33zM3552 2643h33v28h-33zM2228 2700h33v28h-33zM2162 2756h33v28h-33zM2361 2897h33v28h-33zM2261 2925h33v28h-33z"/><path fill="#fff6f6" d="M2725 2137h33v28h-33zM2691 2165h34v28h-34zM2261 2249h33v29h-33zM2427 2249h33v29h-33zM2625 2249h33v29h-33zM2063 2278h33v28h-33zM2394 2278h33v28h-33zM2294 2306h34v28h-34zM2261 2334h67v28h-67zM3585 2362h33v28h-33zM2294 2418h34v28h-34zM2063 2475h33v28h-33zM2261 2615h33v28h-33zM2261 2700h33v28h-33zM2162 2812h33v28h-33zM3585 2868h33v29h-33z"/><path fill="#fff8f8" d="M2758 2137h33v28h-33zM2361 2165h33v28h-33zM2725 2165h33v28h-33zM2691 2193h67v28h-67zM2923 2193h33v28h-33zM3618 2249h33v29h-33zM2228 2278h33v28h-33zM2294 2278h34v28h-34zM2526 2306h33v28h-33zM2791 2306h33v28h-33zM3618 2334h33v28h-33zM2791 2531h33v28h-33zM3552 2615h33v28h-33zM3552 2756h33v28h-33zM2195 2840h33v28h-33zM2195 2953h33v28h-33zM2328 2953h33v28h-33z"/><path fill="#fffbfb" d="M2956 2137h33v28h-33zM2328 2193h66v28h-66zM2427 2193h33v28h-33zM3585 2193h33v28h-33zM2923 2221h33v28h-33zM3651 2221h33v28h-33zM2890 2249h33v29h-33zM3287 2249h33v29h-33zM3585 2249h33v29h-33zM3684 2249h33v29h-33zM2758 2278h33v28h-33zM2427 2334h33v28h-33zM2063 2446h33v29h-33zM2228 2446h33v29h-33zM2361 2475h33v28h-33zM3585 2475h33v28h-33zM3552 2671h33v29h-33zM2162 2728h66v28h-66zM2162 2784h33v28h-33zM3552 2784h33v28h-33zM2129 2812h33v28h-33zM2063 2868h33v29h-33zM2956 2897h33v28h-33zM2228 2925h33v28h-33z"/><path fill="#fbfbff" d="M2989 2137h33v28h-33zM3552 2137h33v28h-33zM3684 2137h33v28h-33zM2526 2165h33v28h-33zM3055 2165h33v28h-33zM3155 2165h33v28h-33zM3155 2193h33v28h-33zM3320 2193h33v28h-33zM2791 2221h33v28h-33zM2857 2221h33v28h-33zM2824 2249h33v29h-33zM3320 2249h33v29h-33zM3386 2249h33v29h-33zM3485 2249h33v29h-33zM2460 2278h33v28h-33zM3121 2278h34v28h-34zM3386 2278h33v28h-33zM2195 2306h33v28h-33zM2989 2306h33v28h-33zM3121 2306h34v28h-34zM3386 2306h33v28h-33zM2195 2334h33v28h-33zM2328 2334h33v28h-33zM3419 2334h33v28h-33zM2195 2362h33v28h-33zM2129 2418h33v28h-33zM2294 2503h34v28h-34zM2129 2531h33v28h-33zM2195 2531h33v28h-33zM2294 2531h34v28h-34zM2361 2531h33v28h-33zM2162 2559h33v28h-33zM2129 2615h66v28h-66zM3552 2868h33v29h-33z"/><path fill="#f6f6ff" d="M3022 2137h33v28h-33zM3088 2137h33v28h-33zM2328 2249h33v29h-33zM2691 2278h34v28h-34zM3088 2306h33v28h-33zM2493 2334h33v28h-33zM3386 2334h33v28h-33zM3485 2334h33v28h-33zM3552 2475h33v28h-33zM2328 2531h33v28h-33zM2328 2840h33v28h-33zM2328 2925h33v28h-33z"/><path fill="#f5f5ff" d="M3055 2137h33v28h-33zM2493 2278h33v28h-33zM2460 2306h33v28h-33zM2361 2784h33v28h-33zM3518 2784h34v28h-34z"/><path fill="#fffefe" d="M3221 2137h66v28h-66zM2228 2165h66v28h-66zM2394 2165h66v28h-66zM2559 2165h33v28h-33zM2791 2165h33v28h-33zM3121 2165h34v28h-34zM3386 2165h33v28h-33zM3651 2165h33v28h-33zM2096 2193h33v28h-33zM2394 2193h33v28h-33zM2625 2193h33v28h-33zM2758 2193h99v28h-99zM3055 2193h33v28h-33zM3121 2193h34v28h-34zM3419 2193h33v28h-33zM2096 2221h33v28h-33zM2228 2221h33v28h-33zM2559 2221h33v28h-33zM3088 2221h33v28h-33zM3552 2221h33v28h-33zM3717 2221h33v28h-33zM2989 2249h33v29h-33zM3121 2249h34v29h-34zM3717 2249h33v29h-33zM2129 2278h33v28h-33zM2725 2278h33v28h-33zM2989 2278h33v28h-33zM3254 2278h33v28h-33zM2162 2306h33v28h-33zM2228 2306h33v28h-33zM3022 2306h33v28h-33zM3188 2306h33v28h-33zM3684 2306h33v28h-33zM2361 2418h33v28h-33zM3585 2446h33v29h-33zM2096 2475h33v28h-33zM2228 2475h33v28h-33zM2228 2503h33v28h-33zM2228 2531h66v28h-66zM2096 2559h33v28h-33zM3022 2587h33v28h-33zM3552 2587h33v28h-33zM2261 2671h33v29h-33zM2063 2700h165v28h-165zM2096 2756h33v28h-33zM2063 2784h99v28h-99zM2063 2812h33v28h-33zM2261 2840h67v28h-67zM2857 2840h33v28h-33zM2294 2868h34v29h-34zM2956 2868h33v29h-33zM2261 2897h33v28h-33zM2063 2925h33v28h-33zM2096 2953h33v28h-33z"/><path fill="#f8f8ff" d="M3717 2137h33v28h-33zM3353 2249h33v29h-33zM2956 2278h33v28h-33zM3353 2278h33v28h-33zM3353 2306h33v28h-33zM2460 2334h33v28h-33zM3552 2390h33v28h-33zM2294 2475h34v28h-34zM2328 2503h33v28h-33zM2328 2671h33v29h-33zM3518 2728h34v28h-34zM2294 2812h34v28h-34zM2956 2840h33v28h-33zM2923 2953h33v28h-33z"/><path fill="#fff7f7" d="M2328 2165h33v28h-33zM2658 2165h33v28h-33zM2526 2278h33v28h-33zM2890 2278h33v28h-33zM3022 2278h33v28h-33zM2063 2306h33v28h-33zM2758 2306h33v28h-33zM2691 2334h34v28h-34zM3651 2334h33v28h-33zM2361 2446h33v29h-33zM3552 2728h33v28h-33zM2294 2756h34v28h-34zM2195 2812h33v28h-33zM2129 2840h33v28h-33zM2361 2868h33v29h-33zM3585 2897h33v28h-33zM2956 2925h33v28h-33zM2294 2953h34v28h-34z"/><path fill="#f9f9ff" d="M2493 2165h33v28h-33zM2526 2193h33v28h-33zM3188 2193h33v28h-33zM2294 2221h67v28h-67zM3353 2221h33v28h-33zM2493 2249h33v29h-33zM3320 2278h33v28h-33zM2923 2306h33v28h-33zM3055 2306h33v28h-33zM3254 2306h33v28h-33zM3452 2334h33v28h-33zM2328 2362h33v28h-33zM2328 2475h33v28h-33zM2361 2559h33v28h-33zM2294 2671h34v29h-34zM3155 2700h33v28h-33zM2328 2897h33v28h-33z"/><path fill="#fafaff" d="M3188 2165h33v28h-33zM2493 2221h33v28h-33zM2758 2221h33v28h-33zM3188 2221h33v28h-33zM3320 2221h33v28h-33zM2658 2278h33v28h-33zM2691 2306h34v28h-34zM3287 2306h33v28h-33zM3717 2306h33v28h-33zM3518 2334h34v28h-34zM2129 2503h33v28h-33zM2162 2531h33v28h-33zM2195 2559h33v28h-33zM2294 2643h34v28h-34zM2361 2812h33v28h-33z"/><path fill="#f7f7ff" d="M2493 2193h33v28h-33zM2956 2249h33v29h-33zM3088 2278h33v28h-33zM2328 2306h33v28h-33zM3320 2306h33v28h-33zM2328 2390h66v28h-66zM3088 2559h33v28h-33zM3518 2700h34v28h-34zM3518 2756h34v28h-34zM2294 2784h34v28h-34z"/><path fill="#fff9f9" d="M3618 2193h33v28h-33zM2725 2221h33v28h-33zM3055 2221h33v28h-33zM3254 2221h33v28h-33zM2394 2249h33v29h-33zM3055 2249h33v29h-33zM3651 2249h33v29h-33zM2791 2278h33v28h-33zM3618 2278h33v28h-33zM2394 2306h33v28h-33zM3651 2306h33v28h-33zM3684 2334h33v28h-33zM3585 2418h33v28h-33zM2261 2446h33v29h-33zM2294 2700h34v28h-34zM3552 2700h33v28h-33zM2228 2728h33v28h-33zM2361 2925h33v28h-33z"/><path fill="#fff2f2" d="M2559 2249h33v29h-33zM2294 2362h34v28h-34zM2427 2362h33v28h-33zM2294 2390h34v28h-34zM3585 2531h33v28h-33zM3585 2587h33v28h-33zM3121 2643h34v28h-34zM2989 2700h33v28h-33zM3155 2756h33v28h-33zM3155 2784h33v28h-33z"/><path fill="#fff1f1" d="M2592 2249h33v29h-33zM2427 2278h33v28h-33zM2625 2306h33v28h-33zM2526 2334h33v28h-33zM2261 2390h33v28h-33zM2394 2390h33v28h-33zM3022 2615h33v28h-33zM2261 2756h33v28h-33zM2261 2953h33v28h-33z"/><path fill="#fff3f3" d="M3022 2249h33v29h-33zM2261 2362h33v28h-33zM2725 2362h33v28h-33zM3585 2559h33v28h-33zM2361 2728h33v28h-33zM3585 2840h33v28h-33zM3585 2953h33v28h-33z"/><path fill="#fee" d="M2261 2278h33v28h-33zM2460 2362h33v28h-33zM3618 2362h33v28h-33zM3585 2390h33v28h-33zM3717 2446h33v29h-33zM3618 2475h33v28h-33zM3717 2475h33v28h-33zM3585 2728h33v28h-33z"/><path fill="#f1f1ff" d="M2328 2278h33v28h-33zM2791 2503h33v28h-33zM3055 2531h33v28h-33zM3518 2840h34v28h-34zM3518 2868h34v29h-34zM3188 2925h33v28h-33z"/><path fill="#f4f4ff" d="M2361 2278h33v28h-33zM2361 2306h33v28h-33zM2956 2306h33v28h-33zM2361 2334h33v28h-33zM3518 2615h34v28h-34zM3188 2953h33v28h-33z"/><path fill="#ffeded" d="M2559 2278h66v28h-66zM3651 2362h33v28h-33zM2394 2671h33v29h-33zM3155 2812h33v28h-33zM2394 2925h33v28h-33zM2361 2953h33v28h-33zM2956 2953h33v28h-33zM3717 2953h33v28h-33z"/><path fill="#f2f2ff" d="M2493 2306h33v28h-33zM2857 2306h33v28h-33zM2361 2362h33v28h-33zM2824 2643h33v28h-33zM3518 2643h34v28h-34zM2328 2756h33v28h-33zM3518 2925h34v28h-34z"/><path fill="#ffecec" d="M2559 2306h66v28h-66zM3717 2390h33v28h-33zM3717 2503h33v28h-33zM3055 2587h33v28h-33zM3717 2728h33v28h-33zM2394 2897h33v28h-33z"/><path fill="#f3f3ff" d="M2824 2306h33v28h-33zM2328 2559h33v28h-33zM2328 2587h33v28h-33zM3518 2671h34v29h-34zM3518 2812h34v28h-34zM3518 2897h34v28h-34zM2890 2925h33v28h-33z"/><path fill="#ffdede" d="M2559 2334h33v28h-33zM3618 2390h33v28h-33zM2427 2756h33v28h-33z"/><path fill="#ffd6d6" d="M2592 2334h66v28h-66zM3088 2643h33v28h-33zM3022 2671h33v29h-33zM3121 2700h34v28h-34z"/><path fill="#ffeaea" d="M2658 2334h33v28h-33zM2394 2418h33v28h-33zM3651 2475h33v28h-33zM3618 2503h33v28h-33zM3618 2587h33v28h-33zM3618 2615h33v28h-33zM3684 2700h33v28h-33zM2989 2728h33v28h-33zM2394 2756h33v28h-33zM2394 2812h33v28h-33zM3618 2868h33v29h-33zM3618 2925h33v28h-33z"/><path fill="#ededff" d="M2758 2334h33v28h-33zM3552 2418h33v28h-33zM3552 2446h33v29h-33zM2956 2812h33v28h-33z"/><path fill="#d1d1ff" d="M2791 2334h33v28h-33zM2857 2728h33v28h-33zM3188 2756h33v28h-33z"/><path fill="#a5a5ff" d="M2824 2334h33v28h-33zM3419 2587h33v28h-33zM2857 2643h33v28h-33zM3221 2784h33v28h-33z"/><path fill="#9797ff" d="M2857 2334h33v28h-33z"/><path fill="#a8a8ff" d="M2890 2334h33v28h-33z"/><path fill="#b6b6ff" d="M2923 2334h33v28h-33zM3088 2475h33v28h-33zM3452 2503h33v28h-33zM3419 2840h33v28h-33z"/><path fill="#c6c6ff" d="M2956 2334h33v28h-33zM2923 2784h33v28h-33z"/><path fill="#e0e0ff" d="M2989 2334h33v28h-33zM3485 2615h33v28h-33zM3485 2643h33v28h-33zM3485 2784h33v28h-33zM3485 2812h33v28h-33zM3485 2840h33v28h-33z"/><path fill="#efefff" d="M3022 2334h33v28h-33zM3188 2897h33v28h-33z"/><path fill="#ececff" d="M3055 2334h33v28h-33zM3518 2531h34v28h-34zM3518 2559h34v28h-34z"/><path fill="#e5e5ff" d="M3088 2334h33v28h-33zM2758 2390h33v28h-33zM2857 2756h33v28h-33zM2923 2897h33v28h-33zM3485 2897h33v28h-33z"/><path fill="#e1e1ff" d="M3121 2334h34v28h-34zM3485 2700h33v28h-33zM3485 2756h33v28h-33zM3188 2840h33v28h-33zM3485 2925h33v28h-33z"/><path fill="#dbdbff" d="M3155 2334h33v28h-33zM3155 2643h33v28h-33z"/><path fill="#d7d7ff" d="M3188 2334h33v28h-33zM3485 2362h33v28h-33zM3518 2446h34v29h-34zM3485 2531h33v28h-33z"/><path fill="#d3d3ff" d="M3221 2334h33v28h-33zM2791 2475h33v28h-33zM3485 2503h33v28h-33z"/><path fill="#cacaff" d="M3254 2334h33v28h-33zM3452 2756h33v28h-33zM3452 2812h33v28h-33z"/><path fill="#c5c5ff" d="M3287 2334h33v28h-33zM2824 2587h33v28h-33zM2890 2784h33v28h-33zM3221 2953h33v28h-33z"/><path fill="#d0d0ff" d="M3320 2334h33v28h-33zM2989 2587h33v28h-33z"/><path fill="#e6e6ff" d="M3353 2334h33v28h-33zM2328 2784h33v28h-33z"/><path fill="#ffe6e6" d="M2493 2362h33v28h-33zM3651 2587h33v28h-33zM3717 2587h33v28h-33zM3088 2615h33v28h-33zM3684 2643h33v28h-33zM3618 2671h33v29h-33zM2989 2756h33v28h-33zM3618 2756h33v28h-33zM3651 2812h66v28h-66zM3651 2925h66v28h-66z"/><path fill="#ffc8c8" d="M2526 2362h33v28h-33zM2460 2587h33v28h-33zM3088 2671h33v29h-33zM2493 2868h33v29h-33z"/><path fill="#ffa9a9" d="M2559 2362h33v28h-33zM3055 2784h33v28h-33zM3088 2812h33v28h-33zM3121 2897h34v28h-34z"/><path fill="#ff9595" d="M2592 2362h33v28h-33z"/><path fill="#ff8c8c" d="M2625 2362h33v28h-33zM3088 2897h33v28h-33z"/><path fill="#ffa3a3" d="M2658 2362h33v28h-33zM2493 2418h33v28h-33zM3022 2897h33v28h-33zM3022 2953h33v28h-33zM3121 2953h34v28h-34z"/><path fill="#ffc6c6" d="M2691 2362h34v28h-34zM2758 2446h33v29h-33zM3022 2728h33v28h-33zM2493 2897h33v28h-33z"/><path fill="#c1c1ff" d="M2758 2362h33v28h-33zM3221 2897h33v28h-33z"/><path fill="#6868ff" d="M2791 2362h33v28h-33zM3188 2531h33v28h-33zM3254 2671h33v29h-33z"/><path fill="#0909ff" d="M2824 2362h33v28h-33zM2923 2362h33v28h-33z"/><path fill="#0000e3" d="M2857 2362h33v28h-33z"/><path fill="#0000ec" d="M2890 2362h33v28h-33z"/><path fill="#3d3dff" d="M2956 2362h33v28h-33z"/><path fill="#77f" d="M2989 2362h33v28h-33zM3287 2756h33v28h-33z"/><path fill="#a1a1ff" d="M3022 2362h33v28h-33zM3221 2756h33v28h-33z"/><path fill="#a7a7ff" d="M3055 2362h33v28h-33zM2956 2615h33v28h-33zM2923 2671h33v29h-33z"/><path fill="#99f" d="M3088 2362h33v28h-33zM3386 2700h33v28h-33zM3386 2756h33v28h-33z"/><path fill="#8686ff" d="M3121 2362h34v28h-34zM3353 2362h33v28h-33zM2890 2643h33v28h-33zM3353 2728h33v28h-33z"/><path fill="#6b6bff" d="M3155 2362h33v28h-33zM2956 2531h33v28h-33z"/><path fill="#5656ff" d="M3188 2362h33v28h-33z"/><path fill="#4848ff" d="M3221 2362h33v28h-33zM3320 2587h33v28h-33z"/><path fill="#3a3aff" d="M3254 2362h33v28h-33zM3353 2503h33v28h-33z"/><path fill="#3030ff" d="M3287 2362h33v28h-33z"/><path fill="#5050ff" d="M3320 2362h33v28h-33zM2989 2446h33v29h-33z"/><path fill="#b0b0ff" d="M3386 2362h33v28h-33zM2791 2446h33v29h-33zM3155 2559h33v28h-33zM3419 2643h33v28h-33zM3419 2671h33v29h-33z"/><path fill="#bcbcff" d="M3419 2362h33v28h-33zM3452 2531h33v28h-33zM3155 2587h33v28h-33zM2956 2643h33v28h-33zM2857 2671h33v29h-33zM3221 2868h33v29h-33z"/><path fill="#c3c3ff" d="M3452 2362h33v28h-33zM3452 2587h33v28h-33zM2890 2756h33v28h-33z"/><path fill="#f0f0ff" d="M3518 2362h34v28h-34zM3022 2559h33v28h-33zM3518 2587h34v28h-34zM2328 2643h33v28h-33z"/><path fill="#ffefef" d="M3684 2362h33v28h-33zM3618 2446h33v29h-33zM3585 2615h33v28h-33zM3585 2643h33v28h-33zM2824 2700h33v28h-33zM3585 2756h33v28h-33z"/><path fill="#ffd8d8" d="M2427 2390h33v28h-33zM2460 2728h33v28h-33zM2460 2840h33v28h-33zM2989 2840h33v28h-33zM2460 2925h33v28h-33z"/><path fill="#ffc5c5" d="M2460 2390h33v28h-33zM2460 2559h33v28h-33zM3121 2784h34v28h-34z"/><path fill="#ffb4b4" d="M2493 2390h33v28h-33z"/><path fill="#ff9191" d="M2526 2390h33v28h-33z"/><path fill="#ff6565" d="M2559 2390h33v28h-33zM2559 2559h33v28h-33zM2559 2615h33v28h-33z"/><path fill="#ff4646" d="M2592 2390h33v28h-33z"/><path fill="#ff3232" d="M2625 2390h33v28h-33zM2592 2587h33v28h-33z"/><path fill="#ff3d3d" d="M2658 2390h33v28h-33zM2758 2671h33v29h-33z"/><path fill="#ff6161" d="M2691 2390h34v28h-34z"/><path fill="#ffa6a6" d="M2725 2390h33v28h-33zM2493 2531h33v28h-33z"/><path fill="#5f5fff" d="M2791 2390h33v28h-33z"/><path fill="#0000df" d="M2824 2390h33v28h-33zM2890 2475h33v28h-33z"/><path fill="#00009a" d="M2857 2390h33v28h-33z"/><path fill="#00008c" d="M2890 2390h33v28h-33z"/><path fill="#00009f" d="M2923 2390h33v28h-33z"/><path fill="#00c" d="M2956 2390h33v28h-33z"/><path fill="#0606ff" d="M2989 2390h33v28h-33z"/><path fill="#4343ff" d="M3022 2390h33v28h-33zM3088 2390h33v28h-33zM3254 2587h33v28h-33z"/><path fill="#5151ff" d="M3055 2390h33v28h-33zM2824 2475h33v28h-33z"/><path fill="#2424ff" d="M3121 2390h34v28h-34z"/><path fill="#0000fa" d="M3155 2390h33v28h-33z"/><path fill="#0000da" d="M3188 2390h33v28h-33zM3188 2418h33v28h-33z"/><path fill="#0000c4" d="M3221 2390h33v28h-33z"/><path fill="#00b" d="M3254 2390h33v28h-33z"/><path fill="#0000c3" d="M3287 2390h33v28h-33z"/><path fill="#0000dc" d="M3320 2390h33v28h-33z"/><path fill="#0000fc" d="M3353 2390h33v28h-33zM2824 2418h33v28h-33zM2890 2503h33v28h-33z"/><path fill="#2f2fff" d="M3386 2390h33v28h-33z"/><path fill="#4a4aff" d="M3419 2390h33v28h-33z"/><path fill="#6a6aff" d="M3452 2390h33v28h-33zM2890 2615h33v28h-33z"/><path fill="#a4a4ff" d="M3485 2390h33v28h-33z"/><path fill="#dadaff" d="M3518 2390h34v28h-34zM2923 2840h33v28h-33z"/><path fill="#fdd" d="M3651 2390h33v28h-33zM2427 2840h33v28h-33zM2427 2897h33v28h-33z"/><path fill="#ffe2e2" d="M3684 2390h33v28h-33zM2427 2784h33v28h-33zM3717 2840h33v28h-33zM3155 2868h33v29h-33zM2857 2925h33v28h-33zM2460 2953h33v28h-33z"/><path fill="#ffcdcd" d="M2427 2418h33v28h-33zM2989 2897h33v28h-33z"/><path fill="#ffb8b8" d="M2460 2418h33v28h-33z"/><path fill="#ff7c7c" d="M2526 2418h33v28h-33zM2526 2446h33v29h-33zM2559 2812h33v28h-33zM2559 2953h33v28h-33z"/><path fill="#ff4b4b" d="M2559 2418h33v28h-33zM2592 2784h33v28h-33z"/><path fill="#ff2727" d="M2592 2418h33v28h-33zM2725 2615h33v28h-33zM2625 2671h33v29h-33zM2625 2812h33v28h-33z"/><path fill="#ff0909" d="M2625 2418h33v28h-33zM2625 2475h33v28h-33zM2658 2559h33v28h-33z"/><path fill="#ff0c0c" d="M2658 2418h33v28h-33zM2658 2868h33v29h-33zM2758 2897h33v28h-33z"/><path fill="#ff2e2e" d="M2691 2418h34v28h-34z"/><path fill="#ff7171" d="M2725 2418h33v28h-33z"/><path fill="#ffe5e5" d="M2758 2418h33v28h-33zM3684 2418h33v28h-33zM2394 2587h33v28h-33zM3651 2615h33v28h-33zM3651 2643h33v28h-33zM3618 2728h33v28h-33zM3684 2756h33v28h-33zM2394 2840h33v28h-33zM3651 2868h33v29h-33zM2857 2897h33v28h-33z"/><path fill="#8d8dff" d="M2791 2418h33v28h-33zM3386 2643h33v28h-33z"/><path fill="#0000b2" d="M2857 2418h33v28h-33z"/><path fill="#000098" d="M2890 2418h33v28h-33z"/><path fill="#0000a5" d="M2923 2418h33v28h-33z"/><path fill="#0000d7" d="M2956 2418h33v28h-33z"/><path fill="#1919ff" d="M2989 2418h33v28h-33z"/><path fill="#55f" d="M3022 2418h33v28h-33z"/><path fill="#6767ff" d="M3055 2418h33v28h-33zM3221 2615h33v28h-33zM3353 2615h33v28h-33z"/><path fill="#5959ff" d="M3088 2418h33v28h-33z"/><path fill="#3636ff" d="M3121 2418h34v28h-34zM3287 2559h33v28h-33z"/><path fill="#0303ff" d="M3155 2418h33v28h-33z"/><path fill="#0000c1" d="M3221 2418h33v28h-33z"/><path fill="#0000ba" d="M3254 2418h33v28h-33z"/><path fill="#0000c5" d="M3287 2418h33v28h-33z"/><path fill="#0000d9" d="M3320 2418h33v28h-33zM2857 2446h33v29h-33z"/><path fill="#0000f8" d="M3353 2418h33v28h-33z"/><path fill="#2929ff" d="M3386 2418h33v28h-33z"/><path fill="#4b4bff" d="M3419 2418h33v28h-33zM3386 2446h33v29h-33zM2923 2559h33v28h-33z"/><path fill="#7373ff" d="M3452 2418h33v28h-33z"/><path fill="#a2a2ff" d="M3485 2418h33v28h-33z"/><path fill="#cfcfff" d="M3518 2418h34v28h-34zM3452 2897h33v28h-33z"/><path fill="#ffe7e7" d="M3618 2418h33v28h-33zM3684 2446h33v29h-33zM3618 2531h33v28h-33zM3651 2559h66v28h-66zM3618 2643h33v28h-33zM3651 2671h33v29h-33zM3618 2700h66v28h-66zM3717 2756h33v28h-33zM3618 2784h33v28h-33zM3684 2784h33v28h-33zM3717 2812h33v28h-33zM3651 2840h33v28h-33zM2394 2868h33v29h-33zM2394 2953h66v28h-66z"/><path fill="#ffe3e3" d="M3651 2418h33v28h-33zM2394 2446h33v29h-33zM3684 2587h33v28h-33zM3684 2615h33v28h-33zM3121 2671h34v29h-34zM3651 2756h33v28h-33zM2989 2784h33v28h-33zM3684 2840h33v28h-33zM3717 2868h33v29h-33z"/><path fill="#fff0f0" d="M3717 2418h33v28h-33zM3585 2671h33v29h-33zM3585 2700h33v28h-33zM2261 2728h33v28h-33zM2394 2784h33v28h-33zM3585 2784h33v28h-33zM3585 2812h33v28h-33zM2857 2868h33v29h-33z"/><path fill="#ffcaca" d="M2427 2446h33v29h-33zM3022 2700h33v28h-33zM3121 2728h34v28h-34zM2989 2925h33v28h-33zM2989 2953h33v28h-33z"/><path fill="#ffb9b9" d="M2460 2446h33v29h-33z"/><path fill="#ffa4a4" d="M2493 2446h33v29h-33zM3055 2812h33v28h-33z"/><path fill="#ff4e4e" d="M2559 2446h33v29h-33zM2725 2475h33v28h-33zM2592 2812h33v28h-33zM2791 2840h33v28h-33zM2592 2925h33v28h-33z"/><path fill="#ff2828" d="M2592 2446h33v29h-33z"/><path fill="#ff0505" d="M2625 2446h66v29h-66zM2691 2671h34v29h-34zM2691 2700h34v28h-34zM2725 2728h33v28h-33zM2691 2812h34v28h-34z"/><path fill="#ff2626" d="M2691 2446h34v29h-34zM2625 2897h33v28h-33zM2625 2925h33v28h-33z"/><path fill="#ff5d5d" d="M2725 2446h33v29h-33z"/><path fill="#2828ff" d="M2824 2446h33v29h-33zM3353 2475h33v28h-33z"/><path fill="#0000be" d="M2890 2446h33v29h-33z"/><path fill="#0000cb" d="M2923 2446h33v29h-33z"/><path fill="#0000fe" d="M2956 2446h33v29h-33z"/><path fill="#8a8aff" d="M3022 2446h33v29h-33zM3254 2784h33v28h-33z"/><path fill="#9e9eff" d="M3055 2446h33v29h-33zM2890 2671h33v29h-33zM3254 2897h33v28h-33z"/><path fill="#9292ff" d="M3088 2446h33v29h-33zM2989 2503h33v28h-33zM2956 2587h33v28h-33zM2923 2643h33v28h-33z"/><path fill="#6e6eff" d="M3121 2446h34v29h-34zM3353 2643h33v28h-33z"/><path fill="#3838ff" d="M3155 2446h33v29h-33z"/><path fill="#0101ff" d="M3188 2446h33v29h-33z"/><path fill="#0000e6" d="M3221 2446h33v29h-33z"/><path fill="#0000db" d="M3254 2446h33v29h-33z"/><path fill="#0000e1" d="M3287 2446h33v29h-33z"/><path fill="#0000f2" d="M3320 2446h33v29h-33z"/><path fill="#1717ff" d="M3353 2446h33v29h-33z"/><path fill="#7272ff" d="M3419 2446h33v29h-33z"/><path fill="#9898ff" d="M3452 2446h33v29h-33zM3221 2728h33v28h-33zM3386 2784h33v28h-33zM3386 2812h33v28h-33z"/><path fill="#b9b9ff" d="M3485 2446h33v29h-33z"/><path fill="#ffe8e8" d="M3651 2446h33v29h-33zM3651 2531h99v28h-99zM3717 2559h33v28h-33zM3717 2615h33v28h-33zM2394 2700h33v28h-33zM3618 2812h33v28h-33zM3155 2840h33v28h-33zM3618 2953h66v28h-66z"/><path fill="#ffdfdf" d="M2394 2475h33v28h-33zM2427 2671h33v29h-33z"/><path fill="#ffc7c7" d="M2427 2475h33v28h-33zM2493 2671h33v29h-33zM2824 2784h33v28h-33z"/><path fill="#ffb5b5" d="M2460 2475h33v28h-33z"/><path fill="#ff9f9f" d="M2493 2475h33v28h-33zM2526 2756h33v28h-33z"/><path fill="#ff7d7d" d="M2526 2475h33v28h-33zM2758 2559h33v28h-33zM2559 2868h33v29h-33z"/><path fill="#ff5656" d="M2559 2475h33v28h-33z"/><path fill="#ff2f2f" d="M2592 2475h33v28h-33z"/><path fill="#ff0606" d="M2658 2475h33v28h-33zM2658 2728h33v28h-33zM2658 2756h33v28h-33z"/><path fill="#ff1f1f" d="M2691 2475h34v28h-34zM2725 2643h33v28h-33zM2625 2784h33v28h-33z"/><path fill="#ffafaf" d="M2758 2475h33v28h-33z"/><path fill="#0000f6" d="M2857 2475h33v28h-33zM3287 2475h33v28h-33z"/><path fill="#0000ef" d="M2923 2475h33v28h-33zM3254 2475h33v28h-33z"/><path fill="#2b2bff" d="M2956 2475h33v28h-33z"/><path fill="#7474ff" d="M2989 2475h33v28h-33zM3386 2531h33v28h-33zM3254 2700h33v28h-33zM3320 2784h33v28h-33z"/><path fill="#aaf" d="M3022 2475h33v28h-33zM3452 2475h33v28h-33zM3419 2615h33v28h-33zM3221 2812h33v28h-33z"/><path fill="#c0c0ff" d="M3055 2475h33v28h-33zM2989 2559h33v28h-33z"/><path fill="#9494ff" d="M3121 2475h34v28h-34z"/><path fill="#6262ff" d="M3155 2475h33v28h-33zM2923 2587h33v28h-33zM3320 2671h33v29h-33z"/><path fill="#2d2dff" d="M3188 2475h33v28h-33z"/><path fill="#00f" d="M3221 2475h33v28h-33z"/><path fill="#0b0bff" d="M3320 2475h33v28h-33z"/><path fill="#5757ff" d="M3386 2475h33v28h-33zM2890 2587h33v28h-33z"/><path fill="#8585ff" d="M3419 2475h33v28h-33zM3254 2756h33v28h-33zM3287 2840h33v28h-33zM3287 2868h33v29h-33zM3353 2897h33v28h-33z"/><path fill="#c8c8ff" d="M3485 2475h33v28h-33zM3452 2953h33v28h-33z"/><path fill="#e2e2ff" d="M3518 2475h34v28h-34zM3485 2728h33v28h-33zM2923 2868h33v29h-33z"/><path fill="#ffe9e9" d="M3684 2475h33v28h-33zM3651 2503h66v28h-66zM2394 2531h33v28h-33zM3618 2559h33v28h-33zM2394 2643h33v28h-33zM3717 2643h33v28h-33zM3684 2671h66v29h-66zM3684 2728h33v28h-33zM3717 2784h33v28h-33zM3717 2897h33v28h-33zM3684 2953h33v28h-33z"/><path fill="#ffe0e0" d="M2394 2503h33v28h-33zM3055 2615h33v28h-33zM2427 2700h33v28h-33zM2427 2925h33v28h-33z"/><path fill="#ffcbcb" d="M2427 2503h33v28h-33zM2460 2615h33v28h-33zM2493 2728h33v28h-33z"/><path fill="#ffb6b6" d="M2460 2503h33v28h-33z"/><path fill="#ffa0a0" d="M2493 2503h33v28h-33zM3022 2925h33v28h-33z"/><path fill="#ff8484" d="M2526 2503h33v28h-33zM3055 2953h33v28h-33z"/><path fill="#ff5e5e" d="M2559 2503h33v28h-33z"/><path fill="#ff3636" d="M2592 2503h33v28h-33zM2592 2559h33v28h-33z"/><path fill="#f11" d="M2625 2503h33v28h-33zM2625 2559h33v28h-33zM2691 2615h34v28h-34zM2658 2840h33v28h-33z"/><path fill="#ff0b0b" d="M2658 2503h33v28h-33z"/><path fill="#ff1919" d="M2691 2503h34v28h-34zM2758 2812h33v28h-33z"/><path fill="#ff4343" d="M2725 2503h33v28h-33zM2592 2643h33v28h-33zM2592 2756h33v28h-33z"/><path fill="#ff9d9d" d="M2758 2503h33v28h-33z"/><path fill="#7979ff" d="M2824 2503h33v28h-33zM2923 2615h33v28h-33z"/><path fill="#1e1eff" d="M2857 2503h33v28h-33z"/><path fill="#1010ff" d="M2923 2503h33v28h-33z"/><path fill="#4e4eff" d="M2956 2503h33v28h-33zM3353 2531h33v28h-33zM3254 2615h33v28h-33z"/><path fill="#c7c7ff" d="M3022 2503h33v28h-33zM3188 2728h33v28h-33z"/><path fill="#dedeff" d="M3055 2503h33v28h-33zM3121 2559h34v28h-34zM3485 2671h33v29h-33z"/><path fill="#d5d5ff" d="M3088 2503h33v28h-33zM3188 2784h33v28h-33z"/><path fill="#b5b5ff" d="M3121 2503h34v28h-34zM2890 2728h33v28h-33zM3419 2868h33v29h-33zM3419 2897h33v28h-33z"/><path fill="#8383ff" d="M3155 2503h33v28h-33zM3287 2812h33v28h-33z"/><path fill="#4d4dff" d="M3188 2503h33v28h-33zM3221 2559h33v28h-33z"/><path fill="#1f1fff" d="M3221 2503h33v28h-33z"/><path fill="#0808ff" d="M3254 2503h33v28h-33z"/><path fill="#11f" d="M3287 2503h33v28h-33z"/><path fill="#22f" d="M3320 2503h33v28h-33z"/><path fill="#6464ff" d="M3386 2503h33v28h-33z"/><path fill="#9191ff" d="M3419 2503h33v28h-33z"/><path fill="#e9e9ff" d="M3518 2503h34v28h-34z"/><path fill="#ffd2d2" d="M2427 2531h33v28h-33zM3055 2643h33v28h-33zM2460 2756h33v28h-33zM2460 2897h33v28h-33z"/><path fill="#ffbdbd" d="M2460 2531h33v28h-33z"/><path fill="#ff8a8a" d="M2526 2531h33v28h-33zM3055 2897h33v28h-33z"/><path fill="#ff6262" d="M2559 2531h33v28h-33z"/><path fill="#ff3838" d="M2592 2531h33v28h-33z"/><path fill="#ff1414" d="M2625 2531h33v28h-33zM2658 2812h33v28h-33z"/><path fill="#ff0f0f" d="M2658 2531h33v28h-33zM2691 2643h34v28h-34z"/><path fill="#ff1717" d="M2691 2531h34v28h-34zM2658 2643h33v28h-33z"/><path fill="#ff4040" d="M2725 2531h33v28h-33z"/><path fill="#ff8f8f" d="M2758 2531h33v28h-33zM2526 2559h33v28h-33zM2526 2587h33v28h-33z"/><path fill="#9696ff" d="M2824 2531h33v28h-33zM3254 2840h33v28h-33z"/><path fill="#4242ff" d="M2857 2531h33v28h-33z"/><path fill="#2121ff" d="M2890 2531h33v28h-33z"/><path fill="#3131ff" d="M2923 2531h33v28h-33z"/><path fill="#ababff" d="M2989 2531h33v28h-33z"/><path fill="#ddf" d="M3022 2531h33v28h-33z"/><path fill="#e7e7ff" d="M3088 2531h33v28h-33zM2890 2868h33v29h-33z"/><path fill="#ccf" d="M3121 2531h34v28h-34zM2956 2671h33v29h-33zM2923 2812h33v28h-33zM3452 2840h33v28h-33z"/><path fill="#9f9fff" d="M3155 2531h33v28h-33zM3419 2559h33v28h-33zM3254 2925h33v28h-33z"/><path fill="#3939ff" d="M3221 2531h33v28h-33z"/><path fill="#2323ff" d="M3254 2531h33v28h-33z"/><path fill="#2727ff" d="M3287 2531h33v28h-33z"/><path fill="#3535ff" d="M3320 2531h33v28h-33zM3254 2559h33v28h-33z"/><path fill="#9b9bff" d="M3419 2531h33v28h-33zM3386 2840h33v28h-33zM3254 2868h33v29h-33zM3386 2897h33v28h-33z"/><path fill="#ffebeb" d="M2394 2559h33v28h-33zM3717 2700h33v28h-33zM3618 2840h33v28h-33zM3618 2897h33v28h-33zM3717 2925h33v28h-33z"/><path fill="#ffd7d7" d="M2427 2559h33v28h-33zM2427 2587h33v28h-33z"/><path fill="#ffaeae" d="M2493 2559h33v28h-33zM3022 2840h33v28h-33zM2526 2953h33v28h-33z"/><path fill="#ff1212" d="M2691 2559h34v28h-34zM2658 2615h33v28h-33zM2725 2671h33v29h-33z"/><path fill="#ff3939" d="M2725 2559h33v28h-33z"/><path fill="#ffe1e1" d="M2791 2559h33v28h-33zM2824 2728h33v28h-33zM2427 2812h33v28h-33zM2989 2812h33v28h-33zM3684 2868h33v29h-33z"/><path fill="#afafff" d="M2824 2559h33v28h-33z"/><path fill="#5e5eff" d="M2857 2559h33v28h-33z"/><path fill="#3e3eff" d="M2890 2559h33v28h-33z"/><path fill="#8181ff" d="M2956 2559h33v28h-33zM3353 2840h33v28h-33zM3320 2925h33v28h-33z"/><path fill="#7c7cff" d="M3188 2559h33v28h-33z"/><path fill="#4040ff" d="M3320 2559h33v28h-33z"/><path fill="#5b5bff" d="M3353 2559h33v28h-33z"/><path fill="#7e7eff" d="M3386 2559h33v28h-33zM3353 2700h33v28h-33zM3254 2728h33v28h-33zM3353 2812h33v28h-33z"/><path fill="#bebeff" d="M3452 2559h33v28h-33zM3188 2700h33v28h-33z"/><path fill="#d8d8ff" d="M3485 2559h33v28h-33z"/><path fill="#ffb1b1" d="M2493 2587h33v28h-33zM3055 2728h33v28h-33zM2824 2840h33v28h-33z"/><path fill="#ff6363" d="M2559 2587h33v28h-33z"/><path fill="#ff1010" d="M2625 2587h33v28h-33zM2658 2671h33v29h-33zM2758 2840h33v28h-33z"/><path fill="#ff0808" d="M2658 2587h33v28h-33z"/><path fill="#ff0e0e" d="M2691 2587h34v28h-34z"/><path fill="#ff3030" d="M2725 2587h33v28h-33z"/><path fill="#ff7070" d="M2758 2587h33v28h-33zM2559 2756h33v28h-33z"/><path fill="#ffcece" d="M2791 2587h33v28h-33zM2493 2700h33v28h-33zM2824 2756h33v28h-33z"/><path fill="#7676ff" d="M2857 2587h33v28h-33zM3320 2756h33v28h-33z"/><path fill="#eef" d="M3121 2587h34v28h-34zM2328 2615h33v28h-33zM2989 2643h33v28h-33zM3518 2953h34v28h-34z"/><path fill="#8787ff" d="M3188 2587h33v28h-33zM3287 2897h33v28h-33zM3320 2953h33v28h-33z"/><path fill="#5a5aff" d="M3221 2587h33v28h-33zM3254 2643h33v28h-33zM3320 2643h33v28h-33z"/><path fill="#4141ff" d="M3287 2587h33v28h-33z"/><path fill="#6161ff" d="M3353 2587h33v28h-33z"/><path fill="#8484ff" d="M3386 2587h33v28h-33zM3353 2756h33v28h-33z"/><path fill="#dcdcff" d="M3485 2587h33v28h-33zM2890 2840h33v28h-33zM3485 2953h33v28h-33z"/><path fill="#ffe4e4" d="M2394 2615h33v28h-33zM3022 2643h33v28h-33zM2394 2728h33v28h-33zM3651 2728h33v28h-33zM3651 2784h33v28h-33zM3651 2897h66v28h-66zM2857 2953h33v28h-33z"/><path fill="#ffd4d4" d="M2427 2615h33v28h-33z"/><path fill="#ffb7b7" d="M2493 2615h33v28h-33zM3055 2700h33v28h-33zM3022 2812h33v28h-33z"/><path fill="#ff9292" d="M2526 2615h33v28h-33zM3055 2868h33v29h-33z"/><path fill="#ff3737" d="M2592 2615h33v28h-33z"/><path fill="#ff1616" d="M2625 2615h33v28h-33zM2658 2897h33v28h-33z"/><path fill="#ff6060" d="M2758 2615h33v28h-33zM2791 2784h33v28h-33z"/><path fill="#fbb" d="M2791 2615h33v28h-33zM3022 2784h33v28h-33zM3121 2840h34v28h-34z"/><path fill="#d6d6ff" d="M2824 2615h33v28h-33z"/><path fill="#88f" d="M2857 2615h33v28h-33zM3386 2615h33v28h-33zM3353 2925h33v28h-33zM3353 2953h33v28h-33z"/><path fill="#dfdfff" d="M2989 2615h33v28h-33z"/><path fill="#cbcbff" d="M3155 2615h33v28h-33zM3452 2728h33v28h-33zM3452 2925h33v28h-33z"/><path fill="#9393ff" d="M3188 2615h33v28h-33zM3386 2671h33v29h-33z"/><path fill="#4949ff" d="M3287 2615h33v28h-33z"/><path fill="#4f4fff" d="M3320 2615h33v28h-33z"/><path fill="#c9c9ff" d="M3452 2615h33v28h-33zM3452 2671h33v29h-33zM3452 2700h33v28h-33zM3452 2784h33v28h-33zM2890 2812h33v28h-33z"/><path fill="#ffd9d9" d="M2427 2643h33v28h-33zM2460 2812h33v28h-33zM3155 2925h33v28h-33z"/><path fill="#ffd0d0" d="M2460 2643h33v28h-33zM2989 2868h33v29h-33zM2493 2953h33v28h-33z"/><path fill="#ffbebe" d="M2493 2643h33v28h-33z"/><path fill="#ff9b9b" d="M2526 2643h33v28h-33zM2824 2897h33v28h-33z"/><path fill="#ff6c6c" d="M2559 2643h33v28h-33z"/><path fill="#ff2020" d="M2625 2643h33v28h-33z"/><path fill="#ff4f4f" d="M2758 2643h33v28h-33zM2592 2840h33v28h-33z"/><path fill="#ffa1a1" d="M2791 2643h33v28h-33zM2526 2840h33v28h-33z"/><path fill="#a3a3ff" d="M3188 2643h33v28h-33zM3254 2953h33v28h-33z"/><path fill="#7575ff" d="M3221 2643h33v28h-33zM3353 2671h33v29h-33zM3287 2728h33v28h-33z"/><path fill="#5353ff" d="M3287 2643h33v28h-33z"/><path fill="#cdcdff" d="M3452 2643h33v28h-33z"/><path fill="#ffd5d5" d="M2460 2671h33v29h-33zM2460 2784h33v28h-33zM2460 2868h33v29h-33zM3155 2953h33v28h-33z"/><path fill="#ffa2a2" d="M2526 2671h33v29h-33zM2526 2728h33v28h-33zM3088 2840h33v28h-33z"/><path fill="#ff7272" d="M2559 2671h33v29h-33z"/><path fill="#ff4c4c" d="M2592 2671h33v29h-33z"/><path fill="#ff8d8d" d="M2791 2671h33v29h-33z"/><path fill="#ffc3c3" d="M3055 2671h33v29h-33zM2493 2812h33v28h-33z"/><path fill="#ebebff" d="M3155 2671h33v29h-33zM2857 2812h33v28h-33zM2890 2897h33v28h-33zM2923 2925h33v28h-33z"/><path fill="#b2b2ff" d="M3188 2671h33v29h-33zM3419 2700h33v28h-33zM3419 2756h33v28h-33z"/><path fill="#8282ff" d="M3221 2671h33v29h-33zM3353 2868h33v29h-33z"/><path fill="#6060ff" d="M3287 2671h33v29h-33z"/><path fill="#ffdbdb" d="M2460 2700h33v28h-33zM2427 2868h33v29h-33z"/><path fill="#ffa5a5" d="M2526 2700h33v28h-33zM2526 2868h33v29h-33zM2824 2868h33v29h-33zM3121 2925h34v28h-34z"/><path fill="#ff6e6e" d="M2559 2700h33v28h-33z"/><path fill="#ff4848" d="M2592 2700h33v28h-33z"/><path fill="#f22" d="M2625 2700h33v28h-33zM2758 2756h33v28h-33zM2625 2953h33v28h-33z"/><path fill="#ff0d0d" d="M2658 2700h33v28h-33zM2758 2868h33v29h-33z"/><path fill="#ff0a0a" d="M2725 2700h33v28h-33zM2658 2784h33v28h-33z"/><path fill="#ff3131" d="M2758 2700h33v28h-33z"/><path fill="#ff8383" d="M2791 2700h33v28h-33zM3088 2953h33v28h-33z"/><path fill="#c2c2ff" d="M2857 2700h33v28h-33zM3221 2925h33v28h-33z"/><path fill="#a9a9ff" d="M2890 2700h33v28h-33z"/><path fill="#b3b3ff" d="M2923 2700h33v28h-33zM3419 2728h33v28h-33zM3419 2784h33v28h-33z"/><path fill="#d9d9ff" d="M2956 2700h33v28h-33zM3188 2812h33v28h-33z"/><path fill="#ffbcbc" d="M3088 2700h33v28h-33z"/><path fill="#8e8eff" d="M3221 2700h33v28h-33z"/><path fill="#6c6cff" d="M3287 2700h66v28h-66z"/><path fill="#ffdcdc" d="M2427 2728h33v28h-33zM3155 2897h33v28h-33z"/><path fill="#ff6b6b" d="M2559 2728h33v28h-33z"/><path fill="#ff3f3f" d="M2592 2728h33v28h-33z"/><path fill="#ff1a1a" d="M2625 2728h33v28h-33z"/><path fill="#f00" d="M2691 2728h34v28h-34zM2691 2868h34v29h-34zM2691 2925h34v28h-34zM2691 2953h34v28h-34zM2758 2953h33v28h-33z"/><path fill="#ff2929" d="M2758 2728h33v28h-33z"/><path fill="#f77" d="M2791 2728h33v28h-33zM2559 2784h33v28h-33z"/><path fill="#bdbdff" d="M2923 2728h33v28h-33z"/><path fill="#e4e4ff" d="M2956 2728h33v28h-33z"/><path fill="#ffb2b2" d="M3088 2728h33v28h-33zM3121 2868h34v29h-34z"/><path fill="#7878ff" d="M3320 2728h33v28h-33zM3320 2812h33v28h-33z"/><path fill="#9a9aff" d="M3386 2728h33v28h-33zM3386 2868h33v29h-33z"/><path fill="#ffc2c2" d="M2493 2756h33v28h-33zM3121 2756h34v28h-34zM2824 2812h33v28h-33z"/><path fill="#ff1b1b" d="M2625 2756h33v28h-33z"/><path fill="#fe0000" d="M2691 2756h34v28h-34zM2725 2840h33v28h-33z"/><path fill="#ff0303" d="M2725 2756h33v28h-33zM2725 2784h33v28h-33zM2691 2840h34v28h-34zM2691 2897h34v28h-34z"/><path fill="#ff6a6a" d="M2791 2756h33v28h-33z"/><path fill="#c4c4ff" d="M2923 2756h33v28h-33z"/><path fill="#e8e8ff" d="M2956 2756h33v28h-33zM2857 2784h33v28h-33zM3188 2868h33v29h-33z"/><path fill="#ffc1c1" d="M3022 2756h33v28h-33zM2493 2784h33v28h-33zM3121 2812h34v28h-34z"/><path fill="#ffadad" d="M3055 2756h66v28h-66zM3088 2784h33v28h-33z"/><path fill="#ff9e9e" d="M2526 2784h33v28h-33zM2526 2812h33v28h-33zM2824 2953h33v28h-33z"/><path fill="#ff0101" d="M2691 2784h34v28h-34z"/><path fill="#ff1c1c" d="M2758 2784h33v28h-33z"/><path fill="#eaeaff" d="M2956 2784h33v28h-33zM2328 2812h33v28h-33z"/><path fill="#7d7dff" d="M3287 2784h33v28h-33zM3320 2897h33v28h-33z"/><path fill="#7f7fff" d="M3353 2784h33v28h-33z"/><path fill="#ff0202" d="M2725 2812h33v28h-33z"/><path fill="#ff5a5a" d="M2791 2812h33v28h-33z"/><path fill="#9090ff" d="M3254 2812h33v28h-33z"/><path fill="#b4b4ff" d="M3419 2812h33v28h-33zM3221 2840h33v28h-33zM3419 2925h33v28h-33z"/><path fill="#ffc4c4" d="M2493 2840h33v28h-33z"/><path fill="#ff7e7e" d="M2559 2840h33v28h-33z"/><path fill="#ff2525" d="M2625 2840h33v28h-33z"/><path fill="#ff9c9c" d="M3055 2840h33v28h-33z"/><path fill="#7b7bff" d="M3320 2840h33v28h-33zM3320 2868h33v29h-33z"/><path fill="#ff5151" d="M2592 2868h33v29h-33z"/><path fill="#ff2121" d="M2625 2868h33v29h-33z"/><path fill="#fd0000" d="M2725 2868h33v29h-33z"/><path fill="#ff4747" d="M2791 2868h33v29h-33zM2791 2897h33v28h-33z"/><path fill="#ffa8a8" d="M3022 2868h33v29h-33zM2526 2897h33v28h-33z"/><path fill="#ff9797" d="M3088 2868h33v29h-33z"/><path fill="#ceceff" d="M3452 2868h33v29h-33z"/><path fill="#e3e3ff" d="M3485 2868h33v29h-33z"/><path fill="#ff8080" d="M2559 2897h33v28h-33z"/><path fill="#ff5252" d="M2592 2897h33v28h-33z"/><path fill="#fb0000" d="M2725 2897h33v28h-33z"/><path fill="#fcc" d="M2493 2925h33v28h-33z"/><path fill="#ffb0b0" d="M2526 2925h33v28h-33z"/><path fill="#ff8282" d="M2559 2925h33v28h-33z"/><path fill="#ff1818" d="M2658 2925h33v28h-33z"/><path fill="#f80000" d="M2725 2925h33v28h-33zM2725 2953h33v28h-33z"/><path fill="#ff0404" d="M2758 2925h33v28h-33z"/><path fill="#ff4242" d="M2791 2925h33v28h-33z"/><path fill="#ff9898" d="M2824 2925h33v28h-33z"/><path fill="#ff8787" d="M3055 2925h66v28h-66z"/><path fill="#8b8bff" d="M3287 2925h33v28h-33z"/><path fill="#9d9dff" d="M3386 2925h33v28h-33z"/><path fill="#ff4949" d="M2592 2953h33v28h-33z"/><path fill="#ff1313" d="M2658 2953h33v28h-33z"/><path fill="#ff3e3e" d="M2791 2953h33v28h-33z"/><path fill="#9595ff" d="M3287 2953h33v28h-33z"/><path fill="#9c9cff" d="M3386 2953h33v28h-33z"/><path fill="#b1b1ff" d="M3419 2953h33v28h-33z"/></g><line x1="300" x2="1988" y1="581.4" y2="581.4" stroke="#000" stroke-width="4.17"/><path d="M498.6 1143.9v-16.7M498.6 300.1v16.7M829.6 1143.9v-16.7M829.6 300.1v16.7M1160.5 1143.9v-16.7M1160.5 300.1v16.7M1491.5 1143.9v-16.7M1491.5 300.1v16.7M1822.5 1143.9v-16.7M1822.5 300.1v16.7M300 300.1h16.7M1988 300.1h-16.7M300 440.7h16.7M1988 440.7h-16.7M300 581.4h16.7M1988 581.4h-16.7M300 722h16.7M1988 722h-16.7M300 862.6h16.7M1988 862.6h-16.7M300 1003.3h16.7M1988 1003.3h-16.7M300 1143.9h16.7M1988 1143.9h-16.7" stroke="#000" stroke-width="2.08" fill="none"/><g><rect x="334" y="334.1" width="183.1" height="117.6" fill="#fff" fill-opacity="0.75" stroke="#000" stroke-opacity="0.75" stroke-width="4.17"/><text x="357.2" y="412.4" font-size="75" textLength="138.1">raw</text></g><rect x="300" y="300.1" width="1688" height="843.8" fill="none" stroke="#000" stroke-width="4.17"/><text x="498.6" y="1205.6" font-size="58.3" text-anchor="middle" textLength="184.3">13000</text><text x="829.6" y="1205.6" font-size="58.3" text-anchor="middle" textLength="184.3">14000</text><text x="1160.5" y="1205.6" font-size="58.3" text-anchor="middle" textLength="184.3">15000</text><text x="1491.5" y="1205.6" font-size="58.3" text-anchor="middle" textLength="184.3">16000</text><text x="1822.5" y="1205.6" font-size="58.3" text-anchor="middle" textLength="184.3">17000</text><text x="283" y="317.1" font-size="58.3" text-anchor="end">1.0</text><text x="283" y="457.7" font-size="58.3" text-anchor="end">0.5</text><text x="283" y="598.4" font-size="58.3" text-anchor="end">0.0</text><text x="283" y="739" font-size="58.3" text-anchor="end">−0.5</text><text x="283" y="879.6" font-size="58.3" text-anchor="end">−1.0</text><text x="283" y="1020.3" font-size="58.3" text-anchor="end">−1.5</text><text x="283" y="1160.9" font-size="58.3" text-anchor="end">−2.0</text><line x1="300" x2="1988" y1="1500" y2="1500" stroke="#000" stroke-width="4.17"/><path d="M498.6 2061.9v-16.7M498.6 1219v16.7M829.6 2061.9v-16.7M829.6 1219v16.7M1160.5 2061.9v-16.7M1160.5 1219v16.7M1491.5 2061.9v-16.7M1491.5 1219v16.7M1822.5 2061.9v-16.7M1822.5 1219v16.7M300 1219h16.7M1988 1219h-16.7M300 1359.5h16.7M1988 1359.5h-16.7M300 1500h16.7M1988 1500h-16.7M300 1640.5h16.7M1988 1640.5h-16.7M300 1780.9h16.7M1988 1780.9h-16.7M300 1921.4h16.7M1988 1921.4h-16.7M300 2061.9h16.7M1988 2061.9h-16.7" stroke="#000" stroke-width="2.08" fill="none"/><g><rect x="334" y="1253" width="317.1" height="117.6" fill="#fff" fill-opacity="0.75" stroke="#000" stroke-opacity="0.75" stroke-width="4.17"/><text x="356.3" y="1331.3" font-size="75" textLength="270.4">leveled</text></g><rect x="300" y="1219" width="1688" height="842.9" fill="none" stroke="#000" stroke-width="4.17"/><text x="498.6" y="2123.6" font-size="58.3" text-anchor="middle" textLength="184.3">13000</text><text x="829.6" y="2123.6" font-size="58.3" text-anchor="middle" textLength="184.3">14000</text><text x="1160.5" y="2123.6" font-size="58.3" text-anchor="middle" textLength="184.3">15000</text><text x="1491.5" y="2123.6" font-size="58.3" text-anchor="middle" textLength="184.3">16000</text><text x="1822.5" y="2123.6" font-size="58.3" text-anchor="middle" textLength="184.3">17000</text><text x="283" y="1236" font-size="58.3" text-anchor="end">1.0</text><text x="283" y="1376.5" font-size="58.3" text-anchor="end">0.5</text><text x="283" y="1517" font-size="58.3" text-anchor="end">0.0</text><text x="283" y="1657.5" font-size="58.3" text-anchor="end">−0.5</text><text x="283" y="1797.9" font-size="58.3" text-anchor="end">−1.0</text><text x="283" y="1938.4" font-size="58.3" text-anchor="end">−1.5</text><text x="283" y="2078.9" font-size="58.3" text-anchor="end">−2.0</text><line x1="300" x2="1988" y1="2418.3" y2="2418.3" stroke="#000" stroke-width="4.17"/><path d="M498.6 2981v-16.7M498.6 2136.9v16.7M829.6 2981v-16.7M829.6 2136.9v16.7M1160.5 2981v-16.7M1160.5 2136.9v16.7M1491.5 2981v-16.7M1491.5 2136.9v16.7M1822.5 2981v-16.7M1822.5 2136.9v16.7M300 2136.9h16.7M1988 2136.9h-16.7M300 2277.6h16.7M1988 2277.6h-16.7M300 2418.3h16.7M1988 2418.3h-16.7M300 2558.9h16.7M1988 2558.9h-16.7M300 2699.6h16.7M1988 2699.6h-16.7M300 2840.3h16.7M1988 2840.3h-16.7M300 2981h16.7M1988 2981h-16.7" stroke="#000" stroke-width="2.08" fill="none"/><g><rect x="334" y="2170.9" width="417.6" height="117.6" fill="#fff" fill-opacity="0.75" stroke="#000" stroke-opacity="0.75" stroke-width="4.17"/><text x="356.3" y="2249.2" font-size="75" textLength="372.4">smoothed</text></g><rect x="300" y="2136.9" width="1688" height="844.1" fill="none" stroke="#000" stroke-width="4.17"/><text x="498.6" y="3042.7" font-size="58.3" text-anchor="middle" textLength="184.3">13000</text><text x="829.6" y="3042.7" font-size="58.3" text-anchor="middle" textLength="184.3">14000</text><text x="1160.5" y="3042.7" font-size="58.3" text-anchor="middle" textLength="184.3">15000</text><text x="1491.5" y="3042.7" font-size="58.3" text-anchor="middle" textLength="184.3">16000</text><text x="1822.5" y="3042.7" font-size="58.3" text-anchor="middle" textLength="184.3">17000</text><text x="283" y="2153.9" font-size="58.3" text-anchor="end">1.0</text><text x="283" y="2294.6" font-size="58.3" text-anchor="end">0.5</text><text x="283" y="2435.3" font-size="58.3" text-anchor="end">0.0</text><text x="283" y="2575.9" font-size="58.3" text-anchor="end">−0.5</text><text x="283" y="2716.6" font-size="58.3" text-anchor="end">−1.0</text><text x="283" y="2857.3" font-size="58.3" text-anchor="end">−1.5</text><text x="283" y="2998" font-size="58.3" text-anchor="end">−2.0</text><line x1="2062.9" x2="3750" y1="581.4" y2="581.4" stroke="#000" stroke-width="4.17"/><path d="M2261.4 1143.9v-16.7M2261.4 300.1v16.7M2592.2 1143.9v-16.7M2592.2 300.1v16.7M2923 1143.9v-16.7M2923 300.1v16.7M3253.8 1143.9v-16.7M3253.8 300.1v16.7M3584.6 1143.9v-16.7M3584.6 300.1v16.7M2062.9 300.1h16.7M3750 300.1h-16.7M2062.9 440.7h16.7M3750 440.7h-16.7M2062.9 581.4h16.7M3750 581.4h-16.7M2062.9 722h16.7M3750 722h-16.7M2062.9 862.6h16.7M3750 862.6h-16.7M2062.9 1003.3h16.7M3750 1003.3h-16.7M2062.9 1143.9h16.7M3750 1143.9h-16.7" stroke="#000" stroke-width="2.08" fill="none"/><g><rect x="2096.9" y="334.1" width="183.1" height="117.6" fill="#fff" fill-opacity="0.75" stroke="#000" stroke-opacity="0.75" stroke-width="4.17"/><text x="2120.1" y="412.4" font-size="75" textLength="138.1">raw</text></g><rect x="2062.9" y="300.1" width="1687.1" height="843.8" fill="none" stroke="#000" stroke-width="4.17"/><text x="2261.4" y="1205.6" font-size="58.3" text-anchor="middle" textLength="184.3">13000</text><text x="2592.2" y="1205.6" font-size="58.3" text-anchor="middle" textLength="184.3">14000</text><text x="2923" y="1205.6" font-size="58.3" text-anchor="middle" textLength="184.3">15000</text><text x="3253.8" y="1205.6" font-size="58.3" text-anchor="middle" textLength="184.3">16000</text><text x="3584.6" y="1205.6" font-size="58.3" text-anchor="middle" textLength="184.3">17000</text><text x="2045.9" y="317.1" font-size="58.3" text-anchor="end">1.0</text><text x="2045.9" y="457.7" font-size="58.3" text-anchor="end">0.5</text><text x="2045.9" y="598.4" font-size="58.3" text-anchor="end">0.0</text><text x="2045.9" y="739" font-size="58.3" text-anchor="end">−0.5</text><text x="2045.9" y="879.6" font-size="58.3" text-anchor="end">−1.0</text><text x="2045.9" y="1020.3" font-size="58.3" text-anchor="end">−1.5</text><text x="2045.9" y="1160.9" font-size="58.3" text-anchor="end">−2.0</text><line x1="2062.9" x2="3750" y1="1500" y2="1500" stroke="#000" stroke-width="4.17"/><path d="M2261.4 2061.9v-16.7M2261.4 1219v16.7M2592.2 2061.9v-16.7M2592.2 1219v16.7M2923 2061.9v-16.7M2923 1219v16.7M3253.8 2061.9v-16.7M3253.8 1219v16.7M3584.6 2061.9v-16.7M3584.6 1219v16.7M2062.9 1219h16.7M3750 1219h-16.7M2062.9 1359.5h16.7M3750 1359.5h-16.7M2062.9 1500h16.7M3750 1500h-16.7M2062.9 1640.5h16.7M3750 1640.5h-16.7M2062.9 1780.9h16.7M3750 1780.9h-16.7M2062.9 1921.4h16.7M3750 1921.4h-16.7M2062.9 2061.9h16.7M3750 2061.9h-16.7" stroke="#000" stroke-width="2.08" fill="none"/><g><rect x="2096.9" y="1253" width="317.1" height="117.6" fill="#fff" fill-opacity="0.75" stroke="#000" stroke-opacity="0.75" stroke-width="4.17"/><text x="2119.2" y="1331.3" font-size="75" textLength="270.4">leveled</text></g><rect x="2062.9" y="1219" width="1687.1" height="842.9" fill="none" stroke="#000" stroke-width="4.17"/><text x="2261.4" y="2123.6" font-size="58.3" text-anchor="middle" textLength="184.3">13000</text><text x="2592.2" y="2123.6" font-size="58.3" text-anchor="middle" textLength="184.3">14000</text><text x="2923" y="2123.6" font-size="58.3" text-anchor="middle" textLength="184.3">15000</text><text x="3253.8" y="2123.6" font-size="58.3" text-anchor="middle" textLength="184.3">16000</text><text x="3584.6" y="2123.6" font-size="58.3" text-anchor="middle" textLength="184.3">17000</text><text x="2045.9" y="1236" font-size="58.3" text-anchor="end">1.0</text><text x="2045.9" y="1376.5" font-size="58.3" text-anchor="end">0.5</text><text x="2045.9" y="1517" font-size="58.3" text-anchor="end">0.0</text><text x="2045.9" y="1657.5" font-size="58.3" text-anchor="end">−0.5</text><text x="2045.9" y="1797.9" font-size="58.3" text-anchor="end">−1.0</text><text x="2045.9" y="1938.4" font-size="58.3" text-anchor="end">−1.5</text><text x="2045.9" y="2078.9" font-size="58.3" text-anchor="end">−2.0</text><line x1="2062.9" x2="3750" y1="2418.3" y2="2418.3" stroke="#000" stroke-width="4.17"/><path d="M2261.4 2981v-16.7M2261.4 2136.9v16.7M2592.2 2981v-16.7M2592.2 2136.9v16.7M2923 2981v-16.7M2923 2136.9v16.7M3253.8 2981v-16.7M3253.8 2136.9v16.7M3584.6 2981v-16.7M3584.6 2136.9v16.7M2062.9 2136.9h16.7M3750 2136.9h-16.7M2062.9 2277.6h16.7M3750 2277.6h-16.7M2062.9 2418.3h16.7M3750 2418.3h-16.7M2062.9 2558.9h16.7M3750 2558.9h-16.7M2062.9 2699.6h16.7M3750 2699.6h-16.7M2062.9 2840.3h16.7M3750 2840.3h-16.7M2062.9 2981h16.7M3750 2981h-16.7" stroke="#000" stroke-width="2.08" fill="none"/><g><rect x="2096.9" y="2170.9" width="417.6" height="117.6" fill="#fff" fill-opacity="0.75" stroke="#000" stroke-opacity="0.75" stroke-width="4.17"/><text x="2119.2" y="2249.2" font-size="75" textLength="372.4">smoothed</text></g><rect x="2062.9" y="2136.9" width="1687.1" height="844.1" fill="none" stroke="#000" stroke-width="4.17"/><text x="2261.4" y="3042.7" font-size="58.3" text-anchor="middle" textLength="184.3">13000</text><text x="2592.2" y="3042.7" font-size="58.3" text-anchor="middle" textLength="184.3">14000</text><text x="2923" y="3042.7" font-size="58.3" text-anchor="middle" textLength="184.3">15000</text><text x="3253.8" y="3042.7" font-size="58.3" text-anchor="middle" textLength="184.3">16000</text><text x="3584.6" y="3042.7" font-size="58.3" text-anchor="middle" textLength="184.3">17000</text><text x="2045.9" y="2153.9" font-size="58.3" text-anchor="end">1.0</text><text x="2045.9" y="2294.6" font-size="58.3" text-anchor="end">0.5</text><text x="2045.9" y="2435.3" font-size="58.3" text-anchor="end">0.0</text><text x="2045.9" y="2575.9" font-size="58.3" text-anchor="end">−0.5</text><text x="2045.9" y="2716.6" font-size="58.3" text-anchor="end">−1.0</text><text x="2045.9" y="2857.3" font-size="58.3" text-anchor="end">−1.5</text><text x="2045.9" y="2998" font-size="58.3" text-anchor="end">−2.0</text><text x="1144" y="279" font-size="75" text-anchor="middle">single</text><text x="2906.4" y="279" font-size="75" text-anchor="middle">dual</text><rect x="3825.2" y="300.1" width="74.8" height="2680.9" fill="url(#sm)" stroke="#000" stroke-width="4.17"/><text x="3916.5" y="317" font-size="58.3">1</text><text x="3916.5" y="2998" font-size="58.3">0</text></svg></body></html>
